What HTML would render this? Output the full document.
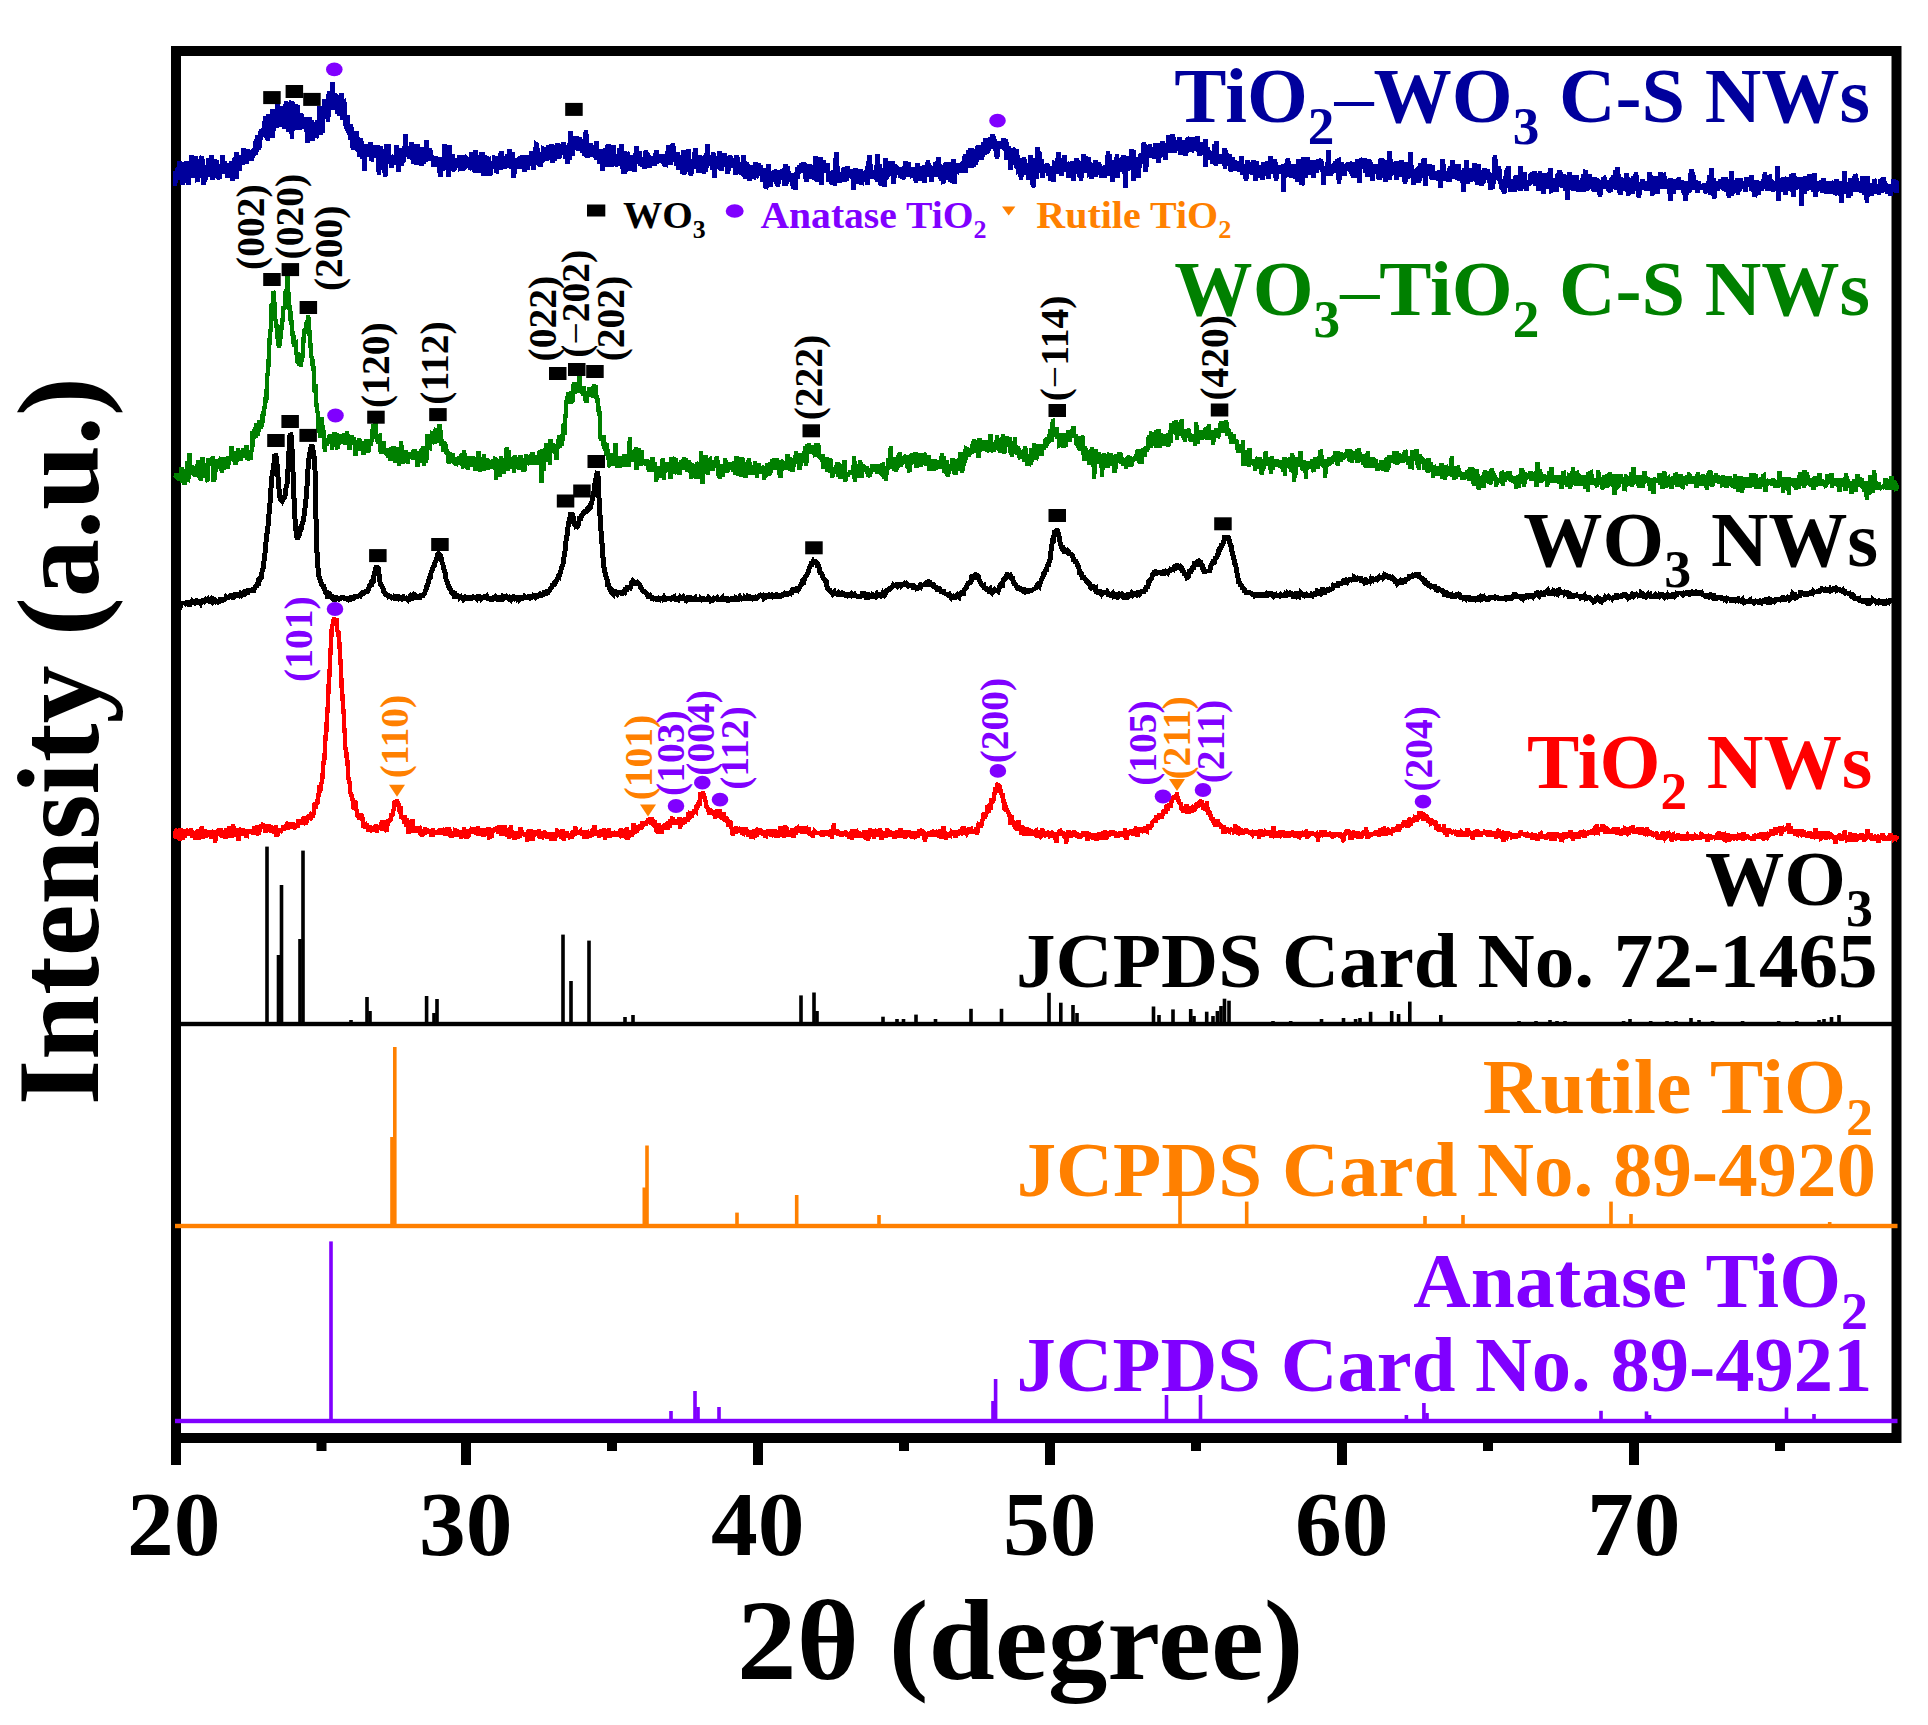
<!DOCTYPE html>
<html lang="en"><head><meta charset="utf-8"><title>XRD patterns</title>
<style>html,body{margin:0;padding:0;background:#fff}svg{display:block}text{font-family:"Liberation Serif",serif;font-weight:bold}.c{fill:none;stroke-linejoin:miter;stroke-miterlimit:2;stroke-linecap:butt;shape-rendering:crispEdges}</style></head><body>
<svg width="1928" height="1725" viewBox="0 0 1928 1725">
<rect width="1928" height="1725" fill="#fff"/>
<rect x="176" y="51" width="1720.5" height="1387" fill="none" stroke="#000" stroke-width="10"/>
<rect x="171.0" y="1440" width="10" height="25.0" fill="#000"/>
<rect x="316.5" y="1440" width="10" height="11.0" fill="#000"/>
<rect x="461.0" y="1440" width="10" height="25.0" fill="#000"/>
<rect x="607.0" y="1440" width="10" height="11.0" fill="#000"/>
<rect x="753.0" y="1440" width="10" height="25.0" fill="#000"/>
<rect x="899.0" y="1440" width="10" height="11.0" fill="#000"/>
<rect x="1045.0" y="1440" width="10" height="25.0" fill="#000"/>
<rect x="1191.0" y="1440" width="10" height="11.0" fill="#000"/>
<rect x="1337.0" y="1440" width="10" height="25.0" fill="#000"/>
<rect x="1483.0" y="1440" width="10" height="11.0" fill="#000"/>
<rect x="1629.0" y="1440" width="10" height="25.0" fill="#000"/>
<rect x="1775.0" y="1440" width="10" height="11.0" fill="#000"/>
<g fill="#000">
<rect x="181.0" y="1021.8" width="1711.0" height="4.4"/>
<rect x="265.2" y="846.6" width="3.6" height="177.4"/>
<rect x="276.7" y="955.0" width="3.6" height="69.0"/>
<rect x="279.7" y="885.0" width="3.6" height="139.0"/>
<rect x="298.2" y="939.0" width="3.6" height="85.0"/>
<rect x="301.2" y="850.6" width="3.6" height="173.4"/>
<rect x="349.2" y="1020.0" width="3.6" height="4.0"/>
<rect x="365.2" y="997.0" width="3.6" height="27.0"/>
<rect x="368.2" y="1011.0" width="3.6" height="13.0"/>
<rect x="424.8" y="996.0" width="3.6" height="28.0"/>
<rect x="432.2" y="1013.0" width="3.6" height="11.0"/>
<rect x="435.2" y="999.0" width="3.6" height="25.0"/>
<rect x="561.2" y="934.6" width="3.6" height="89.4"/>
<rect x="569.2" y="981.0" width="3.6" height="43.0"/>
<rect x="587.2" y="940.6" width="3.6" height="83.4"/>
<rect x="623.2" y="1017.0" width="3.6" height="7.0"/>
<rect x="631.2" y="1015.0" width="3.6" height="9.0"/>
<rect x="799.2" y="995.4" width="3.6" height="28.6"/>
<rect x="812.2" y="992.5" width="3.6" height="31.5"/>
<rect x="815.2" y="1011.0" width="3.6" height="13.0"/>
<rect x="881.2" y="1016.7" width="3.6" height="7.3"/>
<rect x="895.2" y="1019.0" width="3.6" height="5.0"/>
<rect x="901.7" y="1019.0" width="3.6" height="5.0"/>
<rect x="914.2" y="1014.6" width="3.6" height="9.4"/>
<rect x="933.7" y="1019.0" width="3.6" height="5.0"/>
<rect x="969.2" y="1008.8" width="3.6" height="15.2"/>
<rect x="999.7" y="1008.8" width="3.6" height="15.2"/>
<rect x="1047.2" y="992.8" width="3.6" height="31.2"/>
<rect x="1059.0" y="1002.7" width="3.6" height="21.3"/>
<rect x="1071.2" y="1005.0" width="3.6" height="19.0"/>
<rect x="1075.2" y="1013.0" width="3.6" height="11.0"/>
<rect x="1151.7" y="1006.5" width="3.6" height="17.5"/>
<rect x="1157.2" y="1015.0" width="3.6" height="9.0"/>
<rect x="1171.2" y="1009.4" width="3.6" height="14.6"/>
<rect x="1188.9" y="1009.0" width="3.6" height="15.0"/>
<rect x="1192.2" y="1016.0" width="3.6" height="8.0"/>
<rect x="1204.9" y="1011.7" width="3.6" height="12.3"/>
<rect x="1211.2" y="1016.0" width="3.6" height="8.0"/>
<rect x="1215.6" y="1011.0" width="3.6" height="13.0"/>
<rect x="1219.2" y="1006.0" width="3.6" height="18.0"/>
<rect x="1222.7" y="998.7" width="3.6" height="25.3"/>
<rect x="1227.2" y="1000.7" width="3.6" height="23.3"/>
<rect x="1271.2" y="1021.0" width="3.6" height="3.0"/>
<rect x="1288.9" y="1021.0" width="3.6" height="3.0"/>
<rect x="1319.7" y="1019.0" width="3.6" height="5.0"/>
<rect x="1341.7" y="1018.0" width="3.6" height="6.0"/>
<rect x="1353.8" y="1019.0" width="3.6" height="5.0"/>
<rect x="1358.2" y="1018.0" width="3.6" height="6.0"/>
<rect x="1368.8" y="1011.8" width="3.6" height="12.2"/>
<rect x="1389.9" y="1011.0" width="3.6" height="13.0"/>
<rect x="1396.8" y="1014.0" width="3.6" height="10.0"/>
<rect x="1408.0" y="1001.6" width="3.6" height="22.4"/>
<rect x="1439.0" y="1015.0" width="3.6" height="9.0"/>
<rect x="1517.2" y="1021.0" width="3.6" height="3.0"/>
<rect x="1534.2" y="1021.0" width="3.6" height="3.0"/>
<rect x="1548.2" y="1020.0" width="3.6" height="4.0"/>
<rect x="1555.2" y="1021.0" width="3.6" height="3.0"/>
<rect x="1563.2" y="1021.0" width="3.6" height="3.0"/>
<rect x="1621.8" y="1021.0" width="3.6" height="3.0"/>
<rect x="1628.2" y="1019.0" width="3.6" height="5.0"/>
<rect x="1648.9" y="1021.0" width="3.6" height="3.0"/>
<rect x="1665.2" y="1021.0" width="3.6" height="3.0"/>
<rect x="1674.2" y="1021.0" width="3.6" height="3.0"/>
<rect x="1689.2" y="1018.0" width="3.6" height="6.0"/>
<rect x="1697.2" y="1020.0" width="3.6" height="4.0"/>
<rect x="1710.7" y="1021.0" width="3.6" height="3.0"/>
<rect x="1740.8" y="1021.0" width="3.6" height="3.0"/>
<rect x="1776.9" y="1021.0" width="3.6" height="3.0"/>
<rect x="1795.0" y="1021.0" width="3.6" height="3.0"/>
<rect x="1817.2" y="1020.0" width="3.6" height="4.0"/>
<rect x="1822.2" y="1019.0" width="3.6" height="5.0"/>
<rect x="1829.7" y="1017.0" width="3.6" height="7.0"/>
<rect x="1837.2" y="1015.0" width="3.6" height="9.0"/>
</g>
<g fill="#ff8000">
<rect x="175.0" y="1223.8" width="1722.5" height="4.4"/>
<rect x="390.2" y="1137.0" width="3.6" height="89.0"/>
<rect x="393.0" y="1047.0" width="3.6" height="179.0"/>
<rect x="642.5" y="1187.5" width="3.6" height="38.5"/>
<rect x="645.2" y="1145.5" width="3.6" height="80.5"/>
<rect x="735.2" y="1212.6" width="3.6" height="13.4"/>
<rect x="794.9" y="1195.0" width="3.6" height="31.0"/>
<rect x="877.2" y="1215.0" width="3.6" height="11.0"/>
<rect x="1178.2" y="1150.0" width="3.6" height="76.0"/>
<rect x="1244.9" y="1201.6" width="3.6" height="24.4"/>
<rect x="1423.2" y="1216.0" width="3.6" height="10.0"/>
<rect x="1461.2" y="1215.0" width="3.6" height="11.0"/>
<rect x="1609.2" y="1201.6" width="3.6" height="24.4"/>
<rect x="1629.2" y="1214.0" width="3.6" height="12.0"/>
<rect x="1827.9" y="1222.0" width="3.6" height="4.0"/>
</g>
<g fill="#8000ff">
<rect x="175.0" y="1418.8" width="1722.5" height="4.4"/>
<rect x="329.2" y="1241.4" width="3.6" height="179.6"/>
<rect x="669.2" y="1411.0" width="3.6" height="10.0"/>
<rect x="693.2" y="1391.0" width="3.6" height="30.0"/>
<rect x="696.2" y="1407.0" width="3.6" height="14.0"/>
<rect x="717.2" y="1407.0" width="3.6" height="14.0"/>
<rect x="991.2" y="1401.0" width="3.6" height="20.0"/>
<rect x="993.8" y="1379.0" width="3.6" height="42.0"/>
<rect x="1164.7" y="1395.0" width="3.6" height="26.0"/>
<rect x="1198.7" y="1395.0" width="3.6" height="26.0"/>
<rect x="1404.6" y="1415.0" width="3.6" height="6.0"/>
<rect x="1422.1" y="1403.0" width="3.6" height="18.0"/>
<rect x="1425.2" y="1413.0" width="3.6" height="8.0"/>
<rect x="1599.2" y="1410.8" width="3.6" height="10.2"/>
<rect x="1644.7" y="1411.4" width="3.6" height="9.6"/>
<rect x="1647.7" y="1415.0" width="3.6" height="6.0"/>
<rect x="1784.7" y="1407.5" width="3.6" height="13.5"/>
<rect x="1812.2" y="1414.0" width="3.6" height="7.0"/>
</g>
<path class="c" stroke="#00009c" stroke-width="4.8" d="M175.0 185.7L175.6 170.7L176.2 174.0L176.8 176.5L177.4 168.1L178.0 173.5L178.6 173.3L179.2 161.0L179.8 180.2L180.4 177.1L181.0 168.5L181.6 171.5L182.2 184.7L182.8 170.7L183.4 170.7L184.0 162.2L184.6 176.0L185.2 172.9L185.8 173.8L186.4 161.2L187.0 183.1L187.6 172.6L188.2 168.7L188.8 185.4L189.4 170.9L190.0 161.0L190.6 168.1L191.2 155.0L191.8 178.0L192.4 167.7L193.0 165.4L193.6 177.8L194.2 158.8L194.8 173.9L195.4 155.8L196.0 165.4L196.6 161.5L197.2 179.9L197.8 181.9L198.4 167.3L199.0 175.3L199.6 159.1L200.2 173.3L200.8 164.0L201.4 157.4L202.0 156.6L202.6 171.7L203.2 184.5L203.8 170.8L204.4 165.2L205.0 182.0L205.6 170.4L206.2 169.4L206.8 170.4L207.4 167.7L208.0 166.4L208.6 158.6L209.2 172.0L209.8 167.8L210.4 176.7L211.0 165.8L211.6 155.1L212.2 167.6L212.8 180.0L213.4 165.6L214.0 162.0L214.6 159.9L215.2 160.9L215.8 166.0L216.4 159.9L217.0 178.4L217.6 166.0L218.2 168.7L218.8 177.9L219.4 178.3L220.0 166.4L220.6 164.5L221.2 172.8L221.8 166.4L222.4 155.4L223.0 172.1L223.6 173.7L224.2 170.4L224.8 161.0L225.4 166.0L226.0 163.2L226.6 165.1L227.2 176.1L227.8 177.6L228.4 171.6L229.0 170.6L229.6 171.3L230.2 166.3L230.8 165.6L231.4 161.1L232.0 165.1L232.6 180.7L233.2 170.7L233.8 165.5L234.4 160.5L235.0 157.4L235.6 165.5L236.2 179.4L236.8 151.9L237.4 164.8L238.0 157.0L238.6 170.3L239.2 161.0L239.8 171.3L240.4 155.8L241.0 156.5L241.6 160.1L242.2 164.9L242.8 161.1L243.4 148.3L244.0 157.8L244.6 156.3L245.2 152.9L245.8 151.2L246.4 163.7L247.0 152.5L247.6 149.2L248.2 159.3L248.8 155.6L249.4 154.0L250.0 159.9L250.6 157.7L251.2 156.6L251.8 160.7L252.4 155.7L253.0 149.2L253.6 150.7L254.2 149.3L254.8 154.2L255.4 154.9L256.0 138.9L256.6 152.0L257.2 140.8L257.8 135.0L258.4 150.3L259.0 140.7L259.6 147.8L260.2 138.3L260.8 132.1L261.4 129.4L262.0 133.3L262.6 133.7L263.2 128.4L263.8 131.5L264.4 120.8L265.0 124.4L265.6 116.6L266.2 128.2L266.8 134.4L267.4 136.7L268.0 140.9L268.6 113.7L269.2 134.0L269.8 134.7L270.4 132.3L271.0 115.9L271.6 126.5L272.2 138.2L272.8 109.4L273.4 125.8L274.0 130.9L274.6 115.0L275.2 125.7L275.8 111.0L276.4 112.9L277.0 112.5L277.6 102.6L278.2 118.3L278.8 127.4L279.4 110.3L280.0 117.3L280.6 126.9L281.2 123.2L281.8 106.1L282.4 124.0L283.0 113.7L283.6 121.1L284.2 120.8L284.8 129.2L285.4 119.2L286.0 101.3L286.6 105.8L287.2 125.2L287.8 116.2L288.4 131.6L289.0 121.4L289.6 112.1L290.2 129.2L290.8 111.9L291.4 100.6L292.0 138.9L292.6 102.3L293.2 126.0L293.8 129.0L294.4 121.9L295.0 105.1L295.6 130.3L296.2 107.7L296.8 108.8L297.4 104.7L298.0 129.0L298.6 126.0L299.2 129.8L299.8 118.5L300.4 121.3L301.0 112.7L301.6 120.6L302.2 129.3L302.8 121.4L303.4 128.9L304.0 119.5L304.6 119.6L305.2 125.8L305.8 123.9L306.4 131.4L307.0 127.8L307.6 142.5L308.2 124.5L308.8 124.6L309.4 117.2L310.0 127.2L310.6 133.3L311.2 120.1L311.8 126.5L312.4 141.4L313.0 125.7L313.6 121.9L314.2 132.5L314.8 127.3L315.4 129.9L316.0 136.8L316.6 136.3L317.2 122.3L317.8 120.3L318.4 127.4L319.0 123.2L319.6 106.5L320.2 135.3L320.8 123.2L321.4 129.3L322.0 111.2L322.6 132.5L323.2 112.8L323.8 114.1L324.4 98.9L325.0 107.0L325.6 103.9L326.2 103.0L326.8 107.6L327.4 103.1L328.0 121.8L328.6 96.6L329.2 91.1L329.8 99.1L330.4 104.2L331.0 109.1L331.6 104.8L332.2 81.8L332.8 100.4L333.4 109.7L334.0 97.6L334.6 93.0L335.2 100.8L335.8 94.7L336.4 105.4L337.0 94.6L337.6 114.1L338.2 108.0L338.8 99.2L339.4 114.2L340.0 115.6L340.6 104.6L341.2 107.0L341.8 93.1L342.4 120.0L343.0 109.5L343.6 98.8L344.2 103.1L344.8 116.5L345.4 125.5L346.0 120.3L346.6 126.0L347.2 130.6L347.8 115.1L348.4 133.1L349.0 131.5L349.6 128.9L350.2 139.8L350.8 124.7L351.4 129.7L352.0 141.4L352.6 148.3L353.2 136.5L353.8 149.6L354.4 134.6L355.0 142.4L355.6 140.1L356.2 131.4L356.8 145.4L357.4 151.1L358.0 144.6L358.6 146.0L359.2 156.9L359.8 139.3L360.4 138.2L361.0 144.5L361.6 141.2L362.2 159.0L362.8 152.2L363.4 144.5L364.0 146.5L364.6 170.5L365.2 147.0L365.8 146.2L366.4 153.8L367.0 156.3L367.6 153.6L368.2 146.1L368.8 144.6L369.4 156.8L370.0 152.5L370.6 141.8L371.2 161.2L371.8 158.7L372.4 151.9L373.0 152.0L373.6 155.5L374.2 149.4L374.8 145.1L375.4 156.7L376.0 144.8L376.6 157.5L377.2 145.2L377.8 154.6L378.4 154.6L379.0 175.2L379.6 148.8L380.2 146.7L380.8 152.2L381.4 149.2L382.0 153.1L382.6 160.3L383.2 163.0L383.8 169.3L384.4 153.3L385.0 176.5L385.6 172.3L386.2 157.7L386.8 143.7L387.4 159.0L388.0 161.4L388.6 144.3L389.2 160.7L389.8 159.0L390.4 155.2L391.0 164.9L391.6 167.6L392.2 157.6L392.8 162.5L393.4 156.5L394.0 155.6L394.6 161.5L395.2 164.5L395.8 156.9L396.4 145.5L397.0 164.3L397.6 149.2L398.2 160.6L398.8 171.6L399.4 159.0L400.0 150.6L400.6 148.4L401.2 165.9L401.8 157.4L402.4 160.7L403.0 163.0L403.6 155.9L404.2 153.7L404.8 149.0L405.4 134.1L406.0 144.3L406.6 153.9L407.2 152.8L407.8 156.5L408.4 152.6L409.0 154.4L409.6 158.5L410.2 147.0L410.8 151.1L411.4 142.1L412.0 159.7L412.6 153.4L413.2 156.6L413.8 163.9L414.4 160.9L415.0 153.3L415.6 159.3L416.2 144.5L416.8 165.1L417.4 155.6L418.0 144.0L418.6 164.4L419.2 150.8L419.8 160.5L420.4 153.3L421.0 163.2L421.6 165.7L422.2 151.4L422.8 147.0L423.4 156.8L424.0 163.7L424.6 155.7L425.2 154.2L425.8 161.9L426.4 140.1L427.0 154.5L427.6 149.8L428.2 161.3L428.8 154.5L429.4 148.4L430.0 157.4L430.6 150.0L431.2 160.1L431.8 155.7L432.4 157.9L433.0 155.8L433.6 167.0L434.2 160.2L434.8 164.7L435.4 164.6L436.0 156.0L436.6 165.5L437.2 162.0L437.8 164.1L438.4 159.4L439.0 159.3L439.6 167.7L440.2 177.3L440.8 157.0L441.4 166.4L442.0 160.4L442.6 168.3L443.2 166.1L443.8 170.4L444.4 144.4L445.0 159.3L445.6 156.8L446.2 162.9L446.8 158.8L447.4 159.4L448.0 168.4L448.6 176.7L449.2 144.8L449.8 161.8L450.4 166.1L451.0 164.0L451.6 161.7L452.2 154.8L452.8 157.6L453.4 168.9L454.0 171.2L454.6 164.5L455.2 158.2L455.8 164.4L456.4 162.0L457.0 167.3L457.6 164.3L458.2 159.2L458.8 164.6L459.4 155.2L460.0 168.6L460.6 171.0L461.2 154.9L461.8 165.6L462.4 160.1L463.0 169.8L463.6 168.6L464.2 160.8L464.8 169.0L465.4 159.3L466.0 157.8L466.6 158.3L467.2 161.1L467.8 159.8L468.4 163.1L469.0 157.8L469.6 167.2L470.2 169.0L470.8 158.8L471.4 152.5L472.0 167.2L472.6 170.1L473.2 161.4L473.8 153.9L474.4 164.6L475.0 173.3L475.6 150.4L476.2 166.5L476.8 161.3L477.4 157.8L478.0 167.1L478.6 155.2L479.2 166.1L479.8 173.1L480.4 165.6L481.0 158.6L481.6 152.6L482.2 156.1L482.8 152.4L483.4 175.7L484.0 163.3L484.6 157.9L485.2 156.2L485.8 157.8L486.4 162.7L487.0 156.3L487.6 176.3L488.2 159.9L488.8 159.6L489.4 167.0L490.0 174.6L490.6 173.8L491.2 161.5L491.8 166.5L492.4 165.7L493.0 168.2L493.6 166.3L494.2 158.1L494.8 155.9L495.4 165.6L496.0 156.3L496.6 173.4L497.2 164.4L497.8 157.2L498.4 161.9L499.0 160.5L499.6 163.0L500.2 170.1L500.8 153.9L501.4 151.0L502.0 165.8L502.6 162.2L503.2 164.4L503.8 156.6L504.4 161.9L505.0 168.4L505.6 156.9L506.2 163.2L506.8 157.1L507.4 155.0L508.0 166.6L508.6 166.2L509.2 149.2L509.8 154.6L510.4 164.0L511.0 169.1L511.6 157.3L512.2 160.4L512.8 152.0L513.4 178.3L514.0 164.5L514.6 174.0L515.2 165.5L515.8 167.2L516.4 164.9L517.0 158.5L517.6 165.6L518.2 161.0L518.8 169.1L519.4 163.9L520.0 156.5L520.6 164.5L521.2 168.5L521.8 160.8L522.4 154.9L523.0 158.8L523.6 156.1L524.2 172.1L524.8 165.3L525.4 167.6L526.0 161.0L526.6 155.2L527.2 166.7L527.8 169.8L528.4 162.5L529.0 158.3L529.6 165.6L530.2 155.7L530.8 163.2L531.4 153.2L532.0 151.3L532.6 161.5L533.2 159.9L533.8 170.3L534.4 155.5L535.0 157.4L535.6 149.4L536.2 144.4L536.8 144.8L537.4 159.8L538.0 148.6L538.6 164.0L539.2 165.8L539.8 154.2L540.4 167.1L541.0 157.4L541.6 163.3L542.2 154.1L542.8 161.9L543.4 149.0L544.0 149.3L544.6 151.9L545.2 154.0L545.8 159.0L546.4 155.8L547.0 154.0L547.6 159.2L548.2 159.6L548.8 144.7L549.4 157.7L550.0 152.6L550.6 148.6L551.2 156.1L551.8 144.5L552.4 162.9L553.0 151.5L553.6 152.5L554.2 160.9L554.8 151.8L555.4 156.6L556.0 145.5L556.6 148.5L557.2 142.9L557.8 150.7L558.4 158.9L559.0 153.3L559.6 157.6L560.2 144.6L560.8 145.4L561.4 148.1L562.0 154.8L562.6 153.2L563.2 150.5L563.8 142.4L564.4 149.2L565.0 149.9L565.6 158.5L566.2 145.4L566.8 150.2L567.4 164.0L568.0 148.7L568.6 152.2L569.2 142.9L569.8 159.6L570.4 131.0L571.0 138.0L571.6 138.3L572.2 156.0L572.8 147.4L573.4 143.3L574.0 136.6L574.6 147.8L575.2 146.4L575.8 141.3L576.4 136.3L577.0 139.3L577.6 148.6L578.2 149.6L578.8 148.4L579.4 147.3L580.0 136.8L580.6 149.2L581.2 142.1L581.8 149.5L582.4 152.5L583.0 144.9L583.6 142.7L584.2 156.3L584.8 152.1L585.4 145.6L586.0 129.9L586.6 149.7L587.2 154.3L587.8 157.7L588.4 145.8L589.0 146.1L589.6 147.5L590.2 156.4L590.8 142.9L591.4 150.1L592.0 144.8L592.6 153.0L593.2 155.0L593.8 154.1L594.4 148.4L595.0 150.5L595.6 155.8L596.2 160.2L596.8 141.5L597.4 159.8L598.0 157.1L598.6 151.7L599.2 163.4L599.8 155.6L600.4 163.3L601.0 151.0L601.6 149.5L602.2 163.7L602.8 170.3L603.4 163.3L604.0 162.4L604.6 153.5L605.2 148.0L605.8 155.6L606.4 167.4L607.0 145.1L607.6 154.4L608.2 144.1L608.8 158.7L609.4 163.9L610.0 149.9L610.6 155.5L611.2 167.2L611.8 157.8L612.4 150.3L613.0 149.8L613.6 145.3L614.2 164.0L614.8 153.9L615.4 166.0L616.0 164.8L616.6 158.9L617.2 155.7L617.8 164.5L618.4 160.4L619.0 161.2L619.6 148.5L620.2 165.6L620.8 153.8L621.4 144.6L622.0 155.7L622.6 162.7L623.2 173.9L623.8 157.5L624.4 151.2L625.0 174.3L625.6 161.2L626.2 158.5L626.8 153.1L627.4 153.6L628.0 170.2L628.6 158.6L629.2 156.9L629.8 157.1L630.4 171.0L631.0 156.7L631.6 164.8L632.2 162.5L632.8 162.3L633.4 154.9L634.0 165.2L634.6 171.5L635.2 160.5L635.8 154.7L636.4 146.2L637.0 162.2L637.6 159.1L638.2 160.3L638.8 155.5L639.4 151.2L640.0 166.2L640.6 162.6L641.2 160.5L641.8 162.5L642.4 167.2L643.0 161.4L643.6 157.0L644.2 168.7L644.8 158.1L645.4 156.1L646.0 150.5L646.6 160.9L647.2 153.9L647.8 157.4L648.4 163.8L649.0 161.0L649.6 167.5L650.2 162.7L650.8 158.0L651.4 158.4L652.0 157.2L652.6 164.8L653.2 160.6L653.8 157.7L654.4 166.0L655.0 161.0L655.6 157.2L656.2 150.2L656.8 163.1L657.4 161.7L658.0 160.4L658.6 157.1L659.2 154.4L659.8 158.4L660.4 161.4L661.0 158.9L661.6 158.8L662.2 156.6L662.8 161.9L663.4 162.1L664.0 154.5L664.6 164.5L665.2 164.7L665.8 164.8L666.4 158.5L667.0 158.0L667.6 151.6L668.2 164.2L668.8 145.0L669.4 156.6L670.0 156.9L670.6 164.8L671.2 159.1L671.8 152.6L672.4 149.6L673.0 142.9L673.6 159.7L674.2 159.4L674.8 157.7L675.4 154.5L676.0 157.7L676.6 165.7L677.2 151.9L677.8 159.6L678.4 170.2L679.0 163.4L679.6 156.8L680.2 164.4L680.8 155.3L681.4 160.5L682.0 171.0L682.6 173.4L683.2 149.7L683.8 165.9L684.4 174.4L685.0 158.0L685.6 163.4L686.2 171.8L686.8 158.7L687.4 165.0L688.0 161.6L688.6 149.2L689.2 164.3L689.8 160.8L690.4 168.1L691.0 175.9L691.6 166.5L692.2 159.5L692.8 164.9L693.4 163.3L694.0 168.7L694.6 152.4L695.2 154.2L695.8 148.3L696.4 165.9L697.0 161.7L697.6 157.6L698.2 157.0L698.8 172.5L699.4 155.6L700.0 159.6L700.6 158.4L701.2 170.9L701.8 163.8L702.4 156.2L703.0 157.7L703.6 173.4L704.2 164.5L704.8 163.4L705.4 166.2L706.0 171.9L706.6 153.3L707.2 156.4L707.8 143.7L708.4 164.6L709.0 158.8L709.6 156.8L710.2 156.2L710.8 165.8L711.4 160.3L712.0 157.7L712.6 169.5L713.2 154.2L713.8 152.8L714.4 178.3L715.0 158.7L715.6 157.5L716.2 156.2L716.8 160.1L717.4 166.2L718.0 166.0L718.6 164.6L719.2 159.2L719.8 151.2L720.4 162.9L721.0 171.0L721.6 168.1L722.2 159.9L722.8 166.4L723.4 158.5L724.0 156.6L724.6 153.0L725.2 159.2L725.8 162.3L726.4 160.3L727.0 166.6L727.6 174.0L728.2 170.4L728.8 159.8L729.4 157.1L730.0 157.8L730.6 155.8L731.2 162.6L731.8 165.3L732.4 167.1L733.0 164.1L733.6 164.0L734.2 162.3L734.8 158.4L735.4 174.9L736.0 170.6L736.6 155.6L737.2 158.1L737.8 160.4L738.4 164.7L739.0 173.0L739.6 171.6L740.2 172.1L740.8 172.5L741.4 172.8L742.0 170.6L742.6 168.9L743.2 165.3L743.8 154.8L744.4 165.7L745.0 178.6L745.6 163.4L746.2 162.6L746.8 174.1L747.4 168.1L748.0 164.6L748.6 178.3L749.2 172.3L749.8 180.5L750.4 164.9L751.0 172.1L751.6 171.5L752.2 174.3L752.8 176.9L753.4 177.0L754.0 170.8L754.6 174.4L755.2 162.5L755.8 174.5L756.4 174.9L757.0 168.0L757.6 165.7L758.2 170.6L758.8 163.2L759.4 173.6L760.0 173.5L760.6 165.6L761.2 172.3L761.8 173.2L762.4 179.5L763.0 179.4L763.6 170.6L764.2 170.9L764.8 170.8L765.4 177.5L766.0 189.3L766.6 183.3L767.2 184.7L767.8 183.3L768.4 164.1L769.0 173.5L769.6 172.2L770.2 183.5L770.8 186.5L771.4 171.2L772.0 176.0L772.6 179.6L773.2 172.9L773.8 172.1L774.4 171.9L775.0 182.3L775.6 170.6L776.2 184.2L776.8 177.4L777.4 181.8L778.0 187.1L778.6 172.6L779.2 171.6L779.8 179.8L780.4 170.2L781.0 172.2L781.6 176.2L782.2 178.0L782.8 168.7L783.4 174.3L784.0 180.6L784.6 185.6L785.2 163.8L785.8 185.2L786.4 182.3L787.0 169.3L787.6 166.7L788.2 172.3L788.8 173.4L789.4 176.9L790.0 181.5L790.6 173.3L791.2 176.7L791.8 178.6L792.4 181.2L793.0 186.8L793.6 187.4L794.2 176.6L794.8 173.3L795.4 190.3L796.0 178.8L796.6 177.3L797.2 167.1L797.8 179.3L798.4 169.0L799.0 170.9L799.6 165.1L800.2 170.3L800.8 172.8L801.4 163.6L802.0 167.5L802.6 172.7L803.2 164.8L803.8 164.8L804.4 167.4L805.0 163.6L805.6 176.7L806.2 181.4L806.8 177.5L807.4 178.4L808.0 164.5L808.6 172.5L809.2 169.1L809.8 164.7L810.4 169.9L811.0 170.5L811.6 176.7L812.2 178.7L812.8 164.8L813.4 169.4L814.0 175.5L814.6 179.7L815.2 156.1L815.8 180.4L816.4 171.0L817.0 182.1L817.6 169.3L818.2 166.7L818.8 172.4L819.4 179.8L820.0 172.4L820.6 156.8L821.2 185.0L821.8 161.8L822.4 165.9L823.0 164.8L823.6 160.4L824.2 164.3L824.8 166.1L825.4 168.6L826.0 172.3L826.6 170.5L827.2 163.0L827.8 171.6L828.4 179.2L829.0 179.1L829.6 173.8L830.2 177.0L830.8 173.9L831.4 182.0L832.0 184.2L832.6 171.1L833.2 171.5L833.8 183.0L834.4 183.6L835.0 183.5L835.6 158.2L836.2 172.1L836.8 152.3L837.4 178.5L838.0 174.1L838.6 174.2L839.2 173.0L839.8 182.5L840.4 172.1L841.0 180.8L841.6 177.7L842.2 176.5L842.8 177.2L843.4 173.6L844.0 167.2L844.6 179.1L845.2 179.1L845.8 171.7L846.4 179.3L847.0 180.5L847.6 166.3L848.2 173.8L848.8 171.9L849.4 168.9L850.0 177.0L850.6 169.5L851.2 172.2L851.8 176.7L852.4 177.5L853.0 177.4L853.6 189.9L854.2 175.2L854.8 177.1L855.4 167.7L856.0 178.7L856.6 170.1L857.2 183.6L857.8 170.7L858.4 174.0L859.0 184.1L859.6 175.3L860.2 182.2L860.8 169.6L861.4 185.0L862.0 182.7L862.6 179.0L863.2 170.8L863.8 175.0L864.4 177.0L865.0 177.7L865.6 175.2L866.2 174.5L866.8 177.1L867.4 184.9L868.0 162.6L868.6 166.7L869.2 155.3L869.8 171.0L870.4 164.1L871.0 178.9L871.6 175.8L872.2 173.4L872.8 170.6L873.4 175.9L874.0 175.9L874.6 176.8L875.2 169.8L875.8 178.6L876.4 164.7L877.0 182.3L877.6 154.0L878.2 170.0L878.8 165.9L879.4 178.8L880.0 163.8L880.6 185.2L881.2 172.1L881.8 186.3L882.4 175.9L883.0 173.0L883.6 176.4L884.2 186.9L884.8 178.3L885.4 157.8L886.0 180.0L886.6 173.6L887.2 161.5L887.8 176.8L888.4 163.9L889.0 172.9L889.6 173.1L890.2 167.3L890.8 175.6L891.4 164.7L892.0 172.5L892.6 161.2L893.2 170.0L893.8 183.6L894.4 171.8L895.0 164.0L895.6 170.3L896.2 166.0L896.8 171.2L897.4 172.0L898.0 171.5L898.6 171.5L899.2 167.4L899.8 173.8L900.4 177.8L901.0 166.8L901.6 170.5L902.2 171.2L902.8 179.0L903.4 177.8L904.0 166.1L904.6 171.3L905.2 161.1L905.8 164.5L906.4 170.8L907.0 174.8L907.6 176.9L908.2 168.7L908.8 161.9L909.4 173.3L910.0 169.6L910.6 173.4L911.2 171.7L911.8 175.3L912.4 174.9L913.0 176.1L913.6 167.6L914.2 177.1L914.8 167.3L915.4 171.1L916.0 182.7L916.6 172.9L917.2 163.0L917.8 180.2L918.4 177.0L919.0 178.0L919.6 171.8L920.2 172.8L920.8 169.0L921.4 166.0L922.0 180.5L922.6 168.1L923.2 167.4L923.8 167.6L924.4 182.6L925.0 176.2L925.6 168.1L926.2 170.2L926.8 173.8L927.4 176.2L928.0 160.1L928.6 176.4L929.2 169.1L929.8 166.1L930.4 168.0L931.0 175.8L931.6 182.1L932.2 171.8L932.8 174.6L933.4 165.8L934.0 174.4L934.6 176.7L935.2 161.9L935.8 168.4L936.4 177.0L937.0 160.7L937.6 169.9L938.2 176.4L938.8 156.9L939.4 170.3L940.0 173.4L940.6 178.9L941.2 165.0L941.8 180.6L942.4 175.6L943.0 181.5L943.6 181.3L944.2 176.1L944.8 177.1L945.4 162.7L946.0 165.3L946.6 167.5L947.2 171.7L947.8 179.8L948.4 162.1L949.0 171.4L949.6 164.7L950.2 163.0L950.8 182.3L951.4 173.1L952.0 182.8L952.6 179.5L953.2 165.6L953.8 159.2L954.4 184.2L955.0 167.8L955.6 162.7L956.2 174.2L956.8 170.2L957.4 164.6L958.0 165.8L958.6 169.3L959.2 168.4L959.8 172.4L960.4 164.9L961.0 164.5L961.6 170.2L962.2 167.9L962.8 172.5L963.4 162.2L964.0 163.9L964.6 156.5L965.2 173.2L965.8 154.0L966.4 163.8L967.0 156.3L967.6 163.7L968.2 165.8L968.8 150.0L969.4 158.7L970.0 148.2L970.6 168.2L971.2 155.8L971.8 148.0L972.4 153.2L973.0 165.7L973.6 166.4L974.2 164.5L974.8 150.7L975.4 154.3L976.0 165.3L976.6 149.6L977.2 151.6L977.8 147.1L978.4 145.3L979.0 160.1L979.6 155.9L980.2 154.3L980.8 154.6L981.4 157.0L982.0 159.7L982.6 146.5L983.2 146.9L983.8 142.1L984.4 155.3L985.0 144.7L985.6 138.0L986.2 148.6L986.8 147.2L987.4 152.2L988.0 153.0L988.6 141.6L989.2 140.8L989.8 143.6L990.4 137.7L991.0 144.6L991.6 148.1L992.2 145.3L992.8 134.6L993.4 138.1L994.0 148.1L994.6 138.7L995.2 150.1L995.8 149.7L996.4 143.8L997.0 158.9L997.6 147.9L998.2 141.2L998.8 146.1L999.4 148.3L1000.0 143.4L1000.6 147.0L1001.2 146.9L1001.8 141.3L1002.4 148.4L1003.0 145.9L1003.6 138.6L1004.2 148.6L1004.8 149.4L1005.4 147.8L1006.0 138.9L1006.6 157.6L1007.2 157.5L1007.8 157.8L1008.4 156.2L1009.0 146.6L1009.6 156.0L1010.2 149.8L1010.8 170.3L1011.4 153.5L1012.0 161.6L1012.6 147.8L1013.2 150.7L1013.8 155.4L1014.4 163.8L1015.0 163.2L1015.6 162.0L1016.2 148.6L1016.8 168.2L1017.4 155.3L1018.0 172.0L1018.6 173.9L1019.2 167.6L1019.8 169.0L1020.4 158.3L1021.0 180.0L1021.6 165.1L1022.2 170.5L1022.8 158.9L1023.4 164.3L1024.0 157.5L1024.6 163.9L1025.2 165.8L1025.8 167.7L1026.4 175.3L1027.0 163.4L1027.6 168.4L1028.2 167.3L1028.8 180.2L1029.4 163.7L1030.0 175.2L1030.6 155.2L1031.2 162.2L1031.8 170.6L1032.4 166.9L1033.0 187.3L1033.6 184.6L1034.2 158.2L1034.8 161.1L1035.4 167.1L1036.0 179.1L1036.6 175.3L1037.2 170.1L1037.8 147.1L1038.4 162.5L1039.0 150.7L1039.6 158.1L1040.2 170.6L1040.8 172.9L1041.4 159.5L1042.0 168.5L1042.6 178.2L1043.2 168.8L1043.8 165.8L1044.4 171.7L1045.0 171.1L1045.6 168.2L1046.2 164.2L1046.8 164.9L1047.4 168.2L1048.0 164.1L1048.6 176.1L1049.2 173.3L1049.8 174.5L1050.4 180.5L1051.0 177.6L1051.6 176.5L1052.2 169.8L1052.8 166.1L1053.4 182.1L1054.0 163.0L1054.6 163.3L1055.2 161.7L1055.8 168.6L1056.4 169.9L1057.0 173.8L1057.6 165.7L1058.2 152.2L1058.8 169.2L1059.4 173.4L1060.0 167.3L1060.6 166.2L1061.2 170.7L1061.8 176.2L1062.4 166.6L1063.0 158.0L1063.6 163.4L1064.2 166.0L1064.8 155.5L1065.4 171.9L1066.0 162.1L1066.6 170.3L1067.2 168.3L1067.8 165.1L1068.4 177.5L1069.0 163.5L1069.6 162.8L1070.2 169.0L1070.8 172.6L1071.4 167.2L1072.0 161.0L1072.6 171.8L1073.2 171.3L1073.8 180.7L1074.4 166.1L1075.0 169.0L1075.6 164.1L1076.2 158.2L1076.8 168.3L1077.4 173.4L1078.0 161.5L1078.6 163.8L1079.2 160.7L1079.8 176.8L1080.4 164.3L1081.0 180.6L1081.6 167.6L1082.2 169.1L1082.8 164.7L1083.4 153.8L1084.0 169.4L1084.6 172.4L1085.2 155.8L1085.8 168.1L1086.4 166.5L1087.0 162.5L1087.6 167.8L1088.2 157.1L1088.8 171.2L1089.4 177.3L1090.0 161.7L1090.6 169.4L1091.2 179.0L1091.8 170.8L1092.4 166.7L1093.0 164.3L1093.6 171.3L1094.2 169.4L1094.8 174.3L1095.4 160.6L1096.0 177.2L1096.6 167.8L1097.2 174.5L1097.8 165.8L1098.4 162.2L1099.0 166.9L1099.6 164.4L1100.2 168.1L1100.8 174.6L1101.4 177.3L1102.0 171.7L1102.6 166.9L1103.2 167.5L1103.8 174.1L1104.4 177.4L1105.0 168.1L1105.6 169.2L1106.2 165.1L1106.8 171.1L1107.4 175.8L1108.0 151.1L1108.6 171.1L1109.2 165.8L1109.8 154.4L1110.4 171.0L1111.0 168.3L1111.6 171.1L1112.2 159.9L1112.8 182.0L1113.4 168.9L1114.0 165.9L1114.6 177.6L1115.2 171.9L1115.8 172.8L1116.4 174.7L1117.0 154.0L1117.6 177.6L1118.2 164.6L1118.8 168.4L1119.4 172.3L1120.0 161.7L1120.6 168.1L1121.2 170.7L1121.8 158.4L1122.4 168.6L1123.0 155.1L1123.6 157.5L1124.2 157.6L1124.8 170.4L1125.4 188.4L1126.0 166.0L1126.6 163.2L1127.2 163.6L1127.8 170.0L1128.4 168.1L1129.0 156.0L1129.6 169.5L1130.2 162.7L1130.8 167.8L1131.4 149.6L1132.0 152.2L1132.6 165.6L1133.2 150.1L1133.8 180.8L1134.4 163.2L1135.0 161.7L1135.6 162.8L1136.2 161.9L1136.8 162.8L1137.4 157.1L1138.0 159.3L1138.6 177.8L1139.2 166.1L1139.8 162.5L1140.4 160.9L1141.0 153.5L1141.6 159.3L1142.2 156.0L1142.8 163.4L1143.4 151.3L1144.0 141.9L1144.6 153.1L1145.2 160.8L1145.8 171.8L1146.4 162.4L1147.0 149.5L1147.6 154.1L1148.2 149.2L1148.8 153.9L1149.4 149.2L1150.0 144.2L1150.6 157.3L1151.2 155.5L1151.8 153.0L1152.4 156.1L1153.0 150.0L1153.6 154.3L1154.2 151.0L1154.8 158.7L1155.4 142.6L1156.0 157.7L1156.6 147.8L1157.2 147.4L1157.8 150.1L1158.4 162.9L1159.0 147.4L1159.6 158.0L1160.2 154.2L1160.8 142.8L1161.4 157.3L1162.0 146.1L1162.6 141.8L1163.2 146.0L1163.8 146.2L1164.4 154.4L1165.0 144.4L1165.6 159.8L1166.2 151.6L1166.8 145.5L1167.4 144.6L1168.0 151.2L1168.6 136.7L1169.2 135.6L1169.8 143.6L1170.4 153.0L1171.0 150.0L1171.6 148.9L1172.2 147.2L1172.8 134.6L1173.4 146.1L1174.0 136.8L1174.6 153.1L1175.2 147.5L1175.8 146.8L1176.4 149.7L1177.0 148.9L1177.6 148.1L1178.2 148.6L1178.8 142.4L1179.4 137.4L1180.0 147.7L1180.6 154.5L1181.2 151.5L1181.8 143.4L1182.4 148.4L1183.0 141.5L1183.6 146.5L1184.2 140.0L1184.8 144.6L1185.4 156.2L1186.0 148.3L1186.6 152.7L1187.2 138.2L1187.8 138.7L1188.4 142.8L1189.0 146.5L1189.6 141.7L1190.2 149.5L1190.8 139.8L1191.4 152.1L1192.0 149.9L1192.6 137.1L1193.2 148.2L1193.8 143.5L1194.4 149.7L1195.0 142.4L1195.6 148.3L1196.2 150.3L1196.8 139.8L1197.4 136.0L1198.0 149.2L1198.6 148.2L1199.2 155.9L1199.8 152.1L1200.4 142.5L1201.0 153.1L1201.6 146.8L1202.2 150.5L1202.8 149.1L1203.4 154.9L1204.0 144.0L1204.6 146.2L1205.2 139.5L1205.8 167.4L1206.4 147.8L1207.0 148.9L1207.6 147.3L1208.2 150.8L1208.8 152.3L1209.4 159.2L1210.0 156.7L1210.6 157.9L1211.2 152.3L1211.8 155.8L1212.4 164.2L1213.0 156.6L1213.6 158.8L1214.2 144.3L1214.8 160.6L1215.4 159.2L1216.0 165.9L1216.6 140.6L1217.2 158.3L1217.8 157.5L1218.4 159.0L1219.0 154.7L1219.6 160.2L1220.2 163.5L1220.8 159.6L1221.4 157.6L1222.0 158.3L1222.6 157.4L1223.2 160.4L1223.8 155.8L1224.4 148.0L1225.0 169.3L1225.6 150.0L1226.2 160.5L1226.8 153.3L1227.4 159.9L1228.0 155.9L1228.6 162.0L1229.2 162.4L1229.8 154.6L1230.4 165.0L1231.0 171.7L1231.6 165.8L1232.2 164.6L1232.8 157.6L1233.4 163.9L1234.0 167.6L1234.6 160.9L1235.2 171.0L1235.8 165.3L1236.4 168.0L1237.0 163.0L1237.6 163.3L1238.2 168.0L1238.8 169.3L1239.4 169.2L1240.0 160.9L1240.6 162.9L1241.2 167.6L1241.8 156.2L1242.4 174.7L1243.0 170.3L1243.6 168.7L1244.2 164.1L1244.8 173.9L1245.4 167.1L1246.0 180.9L1246.6 171.5L1247.2 159.7L1247.8 173.7L1248.4 165.8L1249.0 165.9L1249.6 167.7L1250.2 168.4L1250.8 170.8L1251.4 174.0L1252.0 172.1L1252.6 164.7L1253.2 160.7L1253.8 164.1L1254.4 171.5L1255.0 174.7L1255.6 180.5L1256.2 161.4L1256.8 169.7L1257.4 167.8L1258.0 166.7L1258.6 178.0L1259.2 167.7L1259.8 167.6L1260.4 165.2L1261.0 171.7L1261.6 175.9L1262.2 179.5L1262.8 166.0L1263.4 162.7L1264.0 167.6L1264.6 164.0L1265.2 175.7L1265.8 164.1L1266.4 169.8L1267.0 160.9L1267.6 167.1L1268.2 170.5L1268.8 178.9L1269.4 165.0L1270.0 171.6L1270.6 156.3L1271.2 161.7L1271.8 164.2L1272.4 166.2L1273.0 172.0L1273.6 173.3L1274.2 159.2L1274.8 172.6L1275.4 162.3L1276.0 180.8L1276.6 171.3L1277.2 170.3L1277.8 168.2L1278.4 169.1L1279.0 169.3L1279.6 165.0L1280.2 174.0L1280.8 171.0L1281.4 174.0L1282.0 168.9L1282.6 173.6L1283.2 164.6L1283.8 191.6L1284.4 164.9L1285.0 166.5L1285.6 175.3L1286.2 177.0L1286.8 164.3L1287.4 158.9L1288.0 160.5L1288.6 163.1L1289.2 164.4L1289.8 168.3L1290.4 175.7L1291.0 176.1L1291.6 164.4L1292.2 172.7L1292.8 174.8L1293.4 178.1L1294.0 168.3L1294.6 164.6L1295.2 174.0L1295.8 178.8L1296.4 166.0L1297.0 181.5L1297.6 180.0L1298.2 167.6L1298.8 159.5L1299.4 165.5L1300.0 167.1L1300.6 172.6L1301.2 158.8L1301.8 184.5L1302.4 183.9L1303.0 164.8L1303.6 157.6L1304.2 168.2L1304.8 171.9L1305.4 177.7L1306.0 173.7L1306.6 168.0L1307.2 157.0L1307.8 172.5L1308.4 174.5L1309.0 167.3L1309.6 171.0L1310.2 170.5L1310.8 167.7L1311.4 162.0L1312.0 171.4L1312.6 160.4L1313.2 178.0L1313.8 163.6L1314.4 172.3L1315.0 164.7L1315.6 171.6L1316.2 167.9L1316.8 172.6L1317.4 164.3L1318.0 159.0L1318.6 167.4L1319.2 167.0L1319.8 159.8L1320.4 164.8L1321.0 158.7L1321.6 169.8L1322.2 166.7L1322.8 169.1L1323.4 185.2L1324.0 169.9L1324.6 171.3L1325.2 172.8L1325.8 166.1L1326.4 168.3L1327.0 174.2L1327.6 175.2L1328.2 150.5L1328.8 167.6L1329.4 166.5L1330.0 165.0L1330.6 176.3L1331.2 165.1L1331.8 173.8L1332.4 165.0L1333.0 165.8L1333.6 172.8L1334.2 163.6L1334.8 167.2L1335.4 161.3L1336.0 162.6L1336.6 172.6L1337.2 171.7L1337.8 160.9L1338.4 160.6L1339.0 183.8L1339.6 163.9L1340.2 162.4L1340.8 171.0L1341.4 162.9L1342.0 165.5L1342.6 173.3L1343.2 173.9L1343.8 166.4L1344.4 176.0L1345.0 166.7L1345.6 166.1L1346.2 167.5L1346.8 165.6L1347.4 170.8L1348.0 169.3L1348.6 162.7L1349.2 168.6L1349.8 164.1L1350.4 163.9L1351.0 166.6L1351.6 173.8L1352.2 169.2L1352.8 175.4L1353.4 177.2L1354.0 167.3L1354.6 163.8L1355.2 162.7L1355.8 169.3L1356.4 174.9L1357.0 177.4L1357.6 159.5L1358.2 173.4L1358.8 174.3L1359.4 182.8L1360.0 168.9L1360.6 167.5L1361.2 158.3L1361.8 163.0L1362.4 161.0L1363.0 161.6L1363.6 162.3L1364.2 158.4L1364.8 167.4L1365.4 170.4L1366.0 172.7L1366.6 167.4L1367.2 174.6L1367.8 174.7L1368.4 158.7L1369.0 166.5L1369.6 160.5L1370.2 162.2L1370.8 169.4L1371.4 167.6L1372.0 177.5L1372.6 181.1L1373.2 172.9L1373.8 172.5L1374.4 167.6L1375.0 164.2L1375.6 172.2L1376.2 164.1L1376.8 172.3L1377.4 167.2L1378.0 175.4L1378.6 177.3L1379.2 179.7L1379.8 168.0L1380.4 160.6L1381.0 158.6L1381.6 167.3L1382.2 160.3L1382.8 158.9L1383.4 167.0L1384.0 163.1L1384.6 173.6L1385.2 181.4L1385.8 168.0L1386.4 171.4L1387.0 159.7L1387.6 170.7L1388.2 165.2L1388.8 162.8L1389.4 151.4L1390.0 179.6L1390.6 159.7L1391.2 162.3L1391.8 169.9L1392.4 171.7L1393.0 171.7L1393.6 170.6L1394.2 166.0L1394.8 174.8L1395.4 171.3L1396.0 161.1L1396.6 180.1L1397.2 168.1L1397.8 176.1L1398.4 161.2L1399.0 162.9L1399.6 166.8L1400.2 166.1L1400.8 176.7L1401.4 160.4L1402.0 171.5L1402.6 164.2L1403.2 173.7L1403.8 171.8L1404.4 167.2L1405.0 184.4L1405.6 170.4L1406.2 177.5L1406.8 162.5L1407.4 169.3L1408.0 179.2L1408.6 171.7L1409.2 168.7L1409.8 165.7L1410.4 151.7L1411.0 167.4L1411.6 165.3L1412.2 169.4L1412.8 176.3L1413.4 184.7L1414.0 174.3L1414.6 177.4L1415.2 175.0L1415.8 175.6L1416.4 174.8L1417.0 169.6L1417.6 169.2L1418.2 173.3L1418.8 182.4L1419.4 176.2L1420.0 181.3L1420.6 163.4L1421.2 173.1L1421.8 173.9L1422.4 174.7L1423.0 165.4L1423.6 160.2L1424.2 158.5L1424.8 169.1L1425.4 186.1L1426.0 173.0L1426.6 164.2L1427.2 173.8L1427.8 169.9L1428.4 172.9L1429.0 169.0L1429.6 163.9L1430.2 168.6L1430.8 176.3L1431.4 173.8L1432.0 179.5L1432.6 165.4L1433.2 178.5L1433.8 172.5L1434.4 173.3L1435.0 179.9L1435.6 171.4L1436.2 173.9L1436.8 176.3L1437.4 176.4L1438.0 177.4L1438.6 180.4L1439.2 175.8L1439.8 169.8L1440.4 187.7L1441.0 172.5L1441.6 181.3L1442.2 168.1L1442.8 159.3L1443.4 168.0L1444.0 173.3L1444.6 176.2L1445.2 173.1L1445.8 177.9L1446.4 179.1L1447.0 179.2L1447.6 173.2L1448.2 173.7L1448.8 171.9L1449.4 167.9L1450.0 182.1L1450.6 165.7L1451.2 173.0L1451.8 174.9L1452.4 160.3L1453.0 178.9L1453.6 171.5L1454.2 175.1L1454.8 171.7L1455.4 164.3L1456.0 175.1L1456.6 174.6L1457.2 180.1L1457.8 177.0L1458.4 163.8L1459.0 181.0L1459.6 170.8L1460.2 179.0L1460.8 177.4L1461.4 170.1L1462.0 177.8L1462.6 172.4L1463.2 192.4L1463.8 173.3L1464.4 168.0L1465.0 172.8L1465.6 183.8L1466.2 171.5L1466.8 160.1L1467.4 184.2L1468.0 177.3L1468.6 172.3L1469.2 179.8L1469.8 169.8L1470.4 168.4L1471.0 181.5L1471.6 172.6L1472.2 179.1L1472.8 176.0L1473.4 181.1L1474.0 176.8L1474.6 163.6L1475.2 178.4L1475.8 179.0L1476.4 181.8L1477.0 177.2L1477.6 185.3L1478.2 174.7L1478.8 164.1L1479.4 174.8L1480.0 180.0L1480.6 174.9L1481.2 174.2L1481.8 186.2L1482.4 176.2L1483.0 183.7L1483.6 178.2L1484.2 168.5L1484.8 171.7L1485.4 175.7L1486.0 179.6L1486.6 172.8L1487.2 169.2L1487.8 171.7L1488.4 176.3L1489.0 172.7L1489.6 174.7L1490.2 189.8L1490.8 180.2L1491.4 173.5L1492.0 178.6L1492.6 188.5L1493.2 182.8L1493.8 178.4L1494.4 170.8L1495.0 154.7L1495.6 177.2L1496.2 178.8L1496.8 169.6L1497.4 171.4L1498.0 179.5L1498.6 166.2L1499.2 169.4L1499.8 179.7L1500.4 183.6L1501.0 182.2L1501.6 186.5L1502.2 190.1L1502.8 186.0L1503.4 179.0L1504.0 193.8L1504.6 191.1L1505.2 186.7L1505.8 176.0L1506.4 183.5L1507.0 168.3L1507.6 170.3L1508.2 166.0L1508.8 178.8L1509.4 187.7L1510.0 181.6L1510.6 191.4L1511.2 181.6L1511.8 182.3L1512.4 179.8L1513.0 185.0L1513.6 181.5L1514.2 189.1L1514.8 191.7L1515.4 184.1L1516.0 174.9L1516.6 185.3L1517.2 190.1L1517.8 185.8L1518.4 183.6L1519.0 187.6L1519.6 189.9L1520.2 165.8L1520.8 191.1L1521.4 186.5L1522.0 184.3L1522.6 178.3L1523.2 183.1L1523.8 185.4L1524.4 172.6L1525.0 186.3L1525.6 182.1L1526.2 190.6L1526.8 185.8L1527.4 180.5L1528.0 181.9L1528.6 185.5L1529.2 182.4L1529.8 184.8L1530.4 177.1L1531.0 173.8L1531.6 177.9L1532.2 172.6L1532.8 176.6L1533.4 183.5L1534.0 171.3L1534.6 173.8L1535.2 185.7L1535.8 178.0L1536.4 181.1L1537.0 173.6L1537.6 174.8L1538.2 179.3L1538.8 191.1L1539.4 183.8L1540.0 170.8L1540.6 183.8L1541.2 186.6L1541.8 185.2L1542.4 173.5L1543.0 180.6L1543.6 193.9L1544.2 175.2L1544.8 182.9L1545.4 176.3L1546.0 173.1L1546.6 178.2L1547.2 187.2L1547.8 188.0L1548.4 175.5L1549.0 178.0L1549.6 175.4L1550.2 168.2L1550.8 184.6L1551.4 190.4L1552.0 190.1L1552.6 178.1L1553.2 189.1L1553.8 187.6L1554.4 179.0L1555.0 181.0L1555.6 178.8L1556.2 182.6L1556.8 192.2L1557.4 175.5L1558.0 174.0L1558.6 186.6L1559.2 181.7L1559.8 169.8L1560.4 175.2L1561.0 176.4L1561.6 177.8L1562.2 183.5L1562.8 187.7L1563.4 180.7L1564.0 174.5L1564.6 177.2L1565.2 188.0L1565.8 190.1L1566.4 180.3L1567.0 177.5L1567.6 200.3L1568.2 187.7L1568.8 176.7L1569.4 171.9L1570.0 180.5L1570.6 189.6L1571.2 179.0L1571.8 180.9L1572.4 179.5L1573.0 186.5L1573.6 191.0L1574.2 174.9L1574.8 180.9L1575.4 181.5L1576.0 178.9L1576.6 175.5L1577.2 187.8L1577.8 183.8L1578.4 187.3L1579.0 192.1L1579.6 180.7L1580.2 186.3L1580.8 180.5L1581.4 182.5L1582.0 185.0L1582.6 182.0L1583.2 173.9L1583.8 192.2L1584.4 184.0L1585.0 176.1L1585.6 169.7L1586.2 183.0L1586.8 187.1L1587.4 189.3L1588.0 190.0L1588.6 180.9L1589.2 187.1L1589.8 173.8L1590.4 184.1L1591.0 188.8L1591.6 179.5L1592.2 182.3L1592.8 183.9L1593.4 184.1L1594.0 192.3L1594.6 176.7L1595.2 191.4L1595.8 184.6L1596.4 179.2L1597.0 178.6L1597.6 182.8L1598.2 180.3L1598.8 186.3L1599.4 183.4L1600.0 196.7L1600.6 185.7L1601.2 181.8L1601.8 185.6L1602.4 187.0L1603.0 182.2L1603.6 178.9L1604.2 178.5L1604.8 184.5L1605.4 188.5L1606.0 186.3L1606.6 182.9L1607.2 186.9L1607.8 180.5L1608.4 185.0L1609.0 192.1L1609.6 190.2L1610.2 191.7L1610.8 181.2L1611.4 184.7L1612.0 177.4L1612.6 189.1L1613.2 180.9L1613.8 175.5L1614.4 180.5L1615.0 185.1L1615.6 170.1L1616.2 175.0L1616.8 189.5L1617.4 167.4L1618.0 183.3L1618.6 173.8L1619.2 193.2L1619.8 184.0L1620.4 194.8L1621.0 176.9L1621.6 185.0L1622.2 190.6L1622.8 181.7L1623.4 182.1L1624.0 180.8L1624.6 187.3L1625.2 182.3L1625.8 181.8L1626.4 174.9L1627.0 173.6L1627.6 189.4L1628.2 193.3L1628.8 194.9L1629.4 192.3L1630.0 180.5L1630.6 183.5L1631.2 186.0L1631.8 182.8L1632.4 193.9L1633.0 175.8L1633.6 180.3L1634.2 181.7L1634.8 179.5L1635.4 188.9L1636.0 171.8L1636.6 190.7L1637.2 189.3L1637.8 185.8L1638.4 192.3L1639.0 198.1L1639.6 185.0L1640.2 188.4L1640.8 186.3L1641.4 187.1L1642.0 181.0L1642.6 179.7L1643.2 187.7L1643.8 180.9L1644.4 189.7L1645.0 188.9L1645.6 181.4L1646.2 186.3L1646.8 184.6L1647.4 183.3L1648.0 191.0L1648.6 184.4L1649.2 185.6L1649.8 172.5L1650.4 187.9L1651.0 175.6L1651.6 181.9L1652.2 194.0L1652.8 195.1L1653.4 182.0L1654.0 176.7L1654.6 186.8L1655.2 182.0L1655.8 186.4L1656.4 176.3L1657.0 191.1L1657.6 193.7L1658.2 175.7L1658.8 179.8L1659.4 180.3L1660.0 188.9L1660.6 172.6L1661.2 185.7L1661.8 183.1L1662.4 179.7L1663.0 188.8L1663.6 172.8L1664.2 176.3L1664.8 179.8L1665.4 188.9L1666.0 182.5L1666.6 179.6L1667.2 187.5L1667.8 181.7L1668.4 180.8L1669.0 182.8L1669.6 186.7L1670.2 200.9L1670.8 178.2L1671.4 186.4L1672.0 183.8L1672.6 183.2L1673.2 193.9L1673.8 189.5L1674.4 188.9L1675.0 182.1L1675.6 179.8L1676.2 186.6L1676.8 183.2L1677.4 181.4L1678.0 189.0L1678.6 177.7L1679.2 180.6L1679.8 189.7L1680.4 184.5L1681.0 189.0L1681.6 179.9L1682.2 189.3L1682.8 180.8L1683.4 193.2L1684.0 189.8L1684.6 187.9L1685.2 201.3L1685.8 187.2L1686.4 181.3L1687.0 194.5L1687.6 187.2L1688.2 192.5L1688.8 186.1L1689.4 192.2L1690.0 180.0L1690.6 177.6L1691.2 169.3L1691.8 189.8L1692.4 173.5L1693.0 174.6L1693.6 176.8L1694.2 186.7L1694.8 188.0L1695.4 180.5L1696.0 190.1L1696.6 187.3L1697.2 192.7L1697.8 191.1L1698.4 181.3L1699.0 186.6L1699.6 184.4L1700.2 188.2L1700.8 186.7L1701.4 185.6L1702.0 189.8L1702.6 185.9L1703.2 189.9L1703.8 185.7L1704.4 183.6L1705.0 191.1L1705.6 191.3L1706.2 193.0L1706.8 189.3L1707.4 184.3L1708.0 186.7L1708.6 186.5L1709.2 175.1L1709.8 178.9L1710.4 194.7L1711.0 185.3L1711.6 168.5L1712.2 184.9L1712.8 186.6L1713.4 178.3L1714.0 199.3L1714.6 192.4L1715.2 190.5L1715.8 184.5L1716.4 188.5L1717.0 190.7L1717.6 188.5L1718.2 181.7L1718.8 186.8L1719.4 186.5L1720.0 187.4L1720.6 179.4L1721.2 187.2L1721.8 185.7L1722.4 187.1L1723.0 186.9L1723.6 177.1L1724.2 190.8L1724.8 190.1L1725.4 177.6L1726.0 185.1L1726.6 180.6L1727.2 182.9L1727.8 191.6L1728.4 188.8L1729.0 197.5L1729.6 186.2L1730.2 178.9L1730.8 186.3L1731.4 171.0L1732.0 196.2L1732.6 187.1L1733.2 188.2L1733.8 186.5L1734.4 180.5L1735.0 184.8L1735.6 180.8L1736.2 182.5L1736.8 187.5L1737.4 178.3L1738.0 195.2L1738.6 179.1L1739.2 190.4L1739.8 181.6L1740.4 178.0L1741.0 187.7L1741.6 186.3L1742.2 184.0L1742.8 185.0L1743.4 181.6L1744.0 187.8L1744.6 182.4L1745.2 185.4L1745.8 191.8L1746.4 177.3L1747.0 181.8L1747.6 181.2L1748.2 180.4L1748.8 177.1L1749.4 183.5L1750.0 186.0L1750.6 184.5L1751.2 175.6L1751.8 189.1L1752.4 189.3L1753.0 185.5L1753.6 182.5L1754.2 180.0L1754.8 196.7L1755.4 195.3L1756.0 187.9L1756.6 179.7L1757.2 192.6L1757.8 186.1L1758.4 195.0L1759.0 181.7L1759.6 187.9L1760.2 183.8L1760.8 189.6L1761.4 181.3L1762.0 190.6L1762.6 182.8L1763.2 179.8L1763.8 188.5L1764.4 186.5L1765.0 172.6L1765.6 184.9L1766.2 185.7L1766.8 186.2L1767.4 190.5L1768.0 181.3L1768.6 185.1L1769.2 175.1L1769.8 176.5L1770.4 181.8L1771.0 184.4L1771.6 184.0L1772.2 189.0L1772.8 189.5L1773.4 191.2L1774.0 184.2L1774.6 188.1L1775.2 180.9L1775.8 187.4L1776.4 188.1L1777.0 182.2L1777.6 166.1L1778.2 181.4L1778.8 200.5L1779.4 184.7L1780.0 181.5L1780.6 185.9L1781.2 191.9L1781.8 187.2L1782.4 184.0L1783.0 177.6L1783.6 182.1L1784.2 178.2L1784.8 187.4L1785.4 194.3L1786.0 191.6L1786.6 181.8L1787.2 179.5L1787.8 177.0L1788.4 188.0L1789.0 188.7L1789.6 190.0L1790.2 187.4L1790.8 178.2L1791.4 173.9L1792.0 192.0L1792.6 180.4L1793.2 196.6L1793.8 172.8L1794.4 178.8L1795.0 179.8L1795.6 186.9L1796.2 189.3L1796.8 182.1L1797.4 188.9L1798.0 177.6L1798.6 182.4L1799.2 182.3L1799.8 182.1L1800.4 181.6L1801.0 187.2L1801.6 205.8L1802.2 177.3L1802.8 184.2L1803.4 189.5L1804.0 185.9L1804.6 193.9L1805.2 175.8L1805.8 190.1L1806.4 180.8L1807.0 190.3L1807.6 186.5L1808.2 187.0L1808.8 182.0L1809.4 174.6L1810.0 179.0L1810.6 189.8L1811.2 184.0L1811.8 189.9L1812.4 177.7L1813.0 189.4L1813.6 191.6L1814.2 173.4L1814.8 187.5L1815.4 197.2L1816.0 181.2L1816.6 191.6L1817.2 188.2L1817.8 190.8L1818.4 183.4L1819.0 181.2L1819.6 183.2L1820.2 183.6L1820.8 182.3L1821.4 180.6L1822.0 192.4L1822.6 182.4L1823.2 178.7L1823.8 180.3L1824.4 188.8L1825.0 183.6L1825.6 188.9L1826.2 190.2L1826.8 193.5L1827.4 183.4L1828.0 181.1L1828.6 187.0L1829.2 186.9L1829.8 193.8L1830.4 186.4L1831.0 183.6L1831.6 183.3L1832.2 184.9L1832.8 186.6L1833.4 193.1L1834.0 186.8L1834.6 194.2L1835.2 193.6L1835.8 181.7L1836.4 179.5L1837.0 182.5L1837.6 184.9L1838.2 181.5L1838.8 190.5L1839.4 190.3L1840.0 195.6L1840.6 188.0L1841.2 185.9L1841.8 203.1L1842.4 181.0L1843.0 187.3L1843.6 182.0L1844.2 193.3L1844.8 170.7L1845.4 191.5L1846.0 191.8L1846.6 186.3L1847.2 187.9L1847.8 187.8L1848.4 197.3L1849.0 196.4L1849.6 186.7L1850.2 196.3L1850.8 178.4L1851.4 189.2L1852.0 189.3L1852.6 179.3L1853.2 188.7L1853.8 182.8L1854.4 191.5L1855.0 174.0L1855.6 176.3L1856.2 179.1L1856.8 187.0L1857.4 188.7L1858.0 188.9L1858.6 182.4L1859.2 191.6L1859.8 183.7L1860.4 185.7L1861.0 192.8L1861.6 186.0L1862.2 175.9L1862.8 191.2L1863.4 187.0L1864.0 184.8L1864.6 194.7L1865.2 183.4L1865.8 191.0L1866.4 187.9L1867.0 202.5L1867.6 176.5L1868.2 188.3L1868.8 189.2L1869.4 193.7L1870.0 184.7L1870.6 183.5L1871.2 195.5L1871.8 184.8L1872.4 189.0L1873.0 187.0L1873.6 189.6L1874.2 179.4L1874.8 180.3L1875.4 187.1L1876.0 188.0L1876.6 193.9L1877.2 190.4L1877.8 190.8L1878.4 187.1L1879.0 194.9L1879.6 183.9L1880.2 187.0L1880.8 178.8L1881.4 181.4L1882.0 192.6L1882.6 187.3L1883.2 176.7L1883.8 187.4L1884.4 186.2L1885.0 181.0L1885.6 189.6L1886.2 186.1L1886.8 187.7L1887.4 193.3L1888.0 184.1L1888.6 194.1L1889.2 186.2L1889.8 186.3L1890.4 195.4L1891.0 190.0L1891.6 184.7L1892.2 187.1L1892.8 189.1L1893.4 179.3L1894.0 191.8L1894.6 187.9L1895.2 180.3L1895.8 182.4L1896.4 193.0L1897.0 180.5"/>
<path class="c" stroke="#008000" stroke-width="4.4" d="M175.0 475.5L175.6 476.6L176.2 473.3L176.8 478.4L177.4 477.4L178.0 479.9L178.6 478.8L179.2 473.1L179.8 479.3L180.4 479.4L181.0 471.9L181.6 467.6L182.2 482.4L182.8 480.7L183.4 474.4L184.0 470.6L184.6 485.1L185.2 479.8L185.8 468.9L186.4 481.5L187.0 460.7L187.6 479.5L188.2 479.8L188.8 475.6L189.4 453.1L190.0 469.2L190.6 472.6L191.2 472.0L191.8 465.0L192.4 470.4L193.0 472.5L193.6 471.9L194.2 469.5L194.8 470.5L195.4 476.6L196.0 466.7L196.6 469.0L197.2 467.6L197.8 463.3L198.4 460.0L199.0 465.1L199.6 477.4L200.2 473.1L200.8 480.8L201.4 476.6L202.0 477.2L202.6 456.8L203.2 471.6L203.8 475.5L204.4 473.1L205.0 470.4L205.6 464.4L206.2 465.0L206.8 480.5L207.4 480.9L208.0 468.3L208.6 458.5L209.2 460.0L209.8 465.3L210.4 464.5L211.0 459.3L211.6 460.0L212.2 462.8L212.8 456.3L213.4 481.6L214.0 465.0L214.6 479.9L215.2 461.9L215.8 471.2L216.4 467.8L217.0 461.3L217.6 461.2L218.2 461.2L218.8 464.9L219.4 461.3L220.0 466.4L220.6 459.2L221.2 459.5L221.8 472.8L222.4 462.5L223.0 468.3L223.6 469.4L224.2 457.5L224.8 468.5L225.4 462.6L226.0 457.0L226.6 458.4L227.2 466.6L227.8 468.4L228.4 463.5L229.0 465.2L229.6 456.7L230.2 459.6L230.8 461.0L231.4 446.6L232.0 448.9L232.6 453.7L233.2 454.1L233.8 451.0L234.4 457.6L235.0 465.3L235.6 455.8L236.2 464.7L236.8 452.2L237.4 458.4L238.0 448.5L238.6 453.3L239.2 457.8L239.8 451.5L240.4 450.1L241.0 460.8L241.6 454.5L242.2 452.9L242.8 450.0L243.4 448.3L244.0 457.9L244.6 455.9L245.2 452.4L245.8 455.6L246.4 445.3L247.0 452.2L247.6 460.2L248.2 457.5L248.8 456.7L249.4 453.0L250.0 452.3L250.6 459.8L251.2 452.2L251.8 450.1L252.4 430.9L253.0 447.0L253.6 431.7L254.2 439.2L254.8 427.3L255.4 437.5L256.0 436.4L256.6 422.9L257.2 431.6L257.8 436.2L258.4 431.4L259.0 427.8L259.6 420.7L260.2 425.0L260.8 428.3L261.4 426.2L262.0 414.2L262.6 422.4L263.2 417.1L263.8 409.8L264.4 407.9L265.0 404.4L265.6 396.9L266.2 403.4L266.8 386.7L267.4 373.8L268.0 372.7L268.6 361.7L269.2 346.6L269.8 336.3L270.4 331.0L271.0 326.7L271.6 303.8L272.2 310.9L272.8 301.6L273.4 291.3L274.0 292.5L274.6 311.7L275.2 320.2L275.8 319.6L276.4 325.0L277.0 330.3L277.6 338.8L278.2 335.5L278.8 347.8L279.4 325.3L280.0 346.3L280.6 332.9L281.2 327.4L281.8 330.3L282.4 320.5L283.0 315.2L283.6 305.8L284.2 309.7L284.8 307.1L285.4 291.5L286.0 294.3L286.6 290.4L287.2 282.0L287.8 273.3L288.4 294.8L289.0 310.2L289.6 305.2L290.2 308.1L290.8 322.6L291.4 319.9L292.0 329.1L292.6 333.7L293.2 344.0L293.8 335.2L294.4 346.4L295.0 343.1L295.6 342.8L296.2 353.9L296.8 354.8L297.4 363.1L298.0 351.8L298.6 363.3L299.2 365.7L299.8 362.5L300.4 359.5L301.0 367.3L301.6 357.4L302.2 358.9L302.8 352.2L303.4 341.1L304.0 334.2L304.6 329.6L305.2 334.0L305.8 326.8L306.4 322.8L307.0 326.7L307.6 321.5L308.2 314.7L308.8 327.1L309.4 330.5L310.0 340.5L310.6 346.2L311.2 355.9L311.8 357.8L312.4 359.6L313.0 370.8L313.6 366.1L314.2 385.6L314.8 392.4L315.4 383.7L316.0 399.6L316.6 405.9L317.2 411.9L317.8 412.3L318.4 427.3L319.0 430.7L319.6 432.2L320.2 437.5L320.8 429.7L321.4 429.6L322.0 416.9L322.6 431.4L323.2 435.2L323.8 430.0L324.4 446.3L325.0 451.7L325.6 438.5L326.2 446.2L326.8 437.9L327.4 441.9L328.0 442.5L328.6 441.4L329.2 440.1L329.8 434.4L330.4 443.1L331.0 438.5L331.6 433.8L332.2 449.5L332.8 438.4L333.4 437.8L334.0 446.5L334.6 432.5L335.2 444.4L335.8 441.6L336.4 433.4L337.0 447.9L337.6 448.8L338.2 441.6L338.8 441.1L339.4 434.3L340.0 442.3L340.6 443.9L341.2 441.5L341.8 435.2L342.4 441.5L343.0 442.7L343.6 441.6L344.2 433.5L344.8 438.0L345.4 444.6L346.0 440.0L346.6 444.4L347.2 431.6L347.8 444.5L348.4 436.8L349.0 442.8L349.6 449.7L350.2 440.1L350.8 441.2L351.4 435.9L352.0 436.7L352.6 440.7L353.2 439.1L353.8 437.8L354.4 440.4L355.0 449.3L355.6 455.7L356.2 446.3L356.8 446.8L357.4 443.7L358.0 449.1L358.6 450.2L359.2 438.1L359.8 442.5L360.4 442.5L361.0 448.8L361.6 450.1L362.2 446.8L362.8 447.5L363.4 454.5L364.0 440.9L364.6 447.0L365.2 441.1L365.8 453.0L366.4 439.6L367.0 445.8L367.6 452.6L368.2 445.9L368.8 451.7L369.4 438.9L370.0 442.2L370.6 446.2L371.2 441.1L371.8 440.5L372.4 433.5L373.0 424.2L373.6 425.5L374.2 429.6L374.8 430.8L375.4 418.3L376.0 436.9L376.6 437.2L377.2 441.4L377.8 439.0L378.4 444.1L379.0 436.1L379.6 435.8L380.2 440.4L380.8 453.9L381.4 445.3L382.0 447.6L382.6 448.2L383.2 448.8L383.8 441.3L384.4 454.3L385.0 450.1L385.6 452.3L386.2 448.5L386.8 455.6L387.4 450.9L388.0 448.4L388.6 458.2L389.2 452.0L389.8 448.2L390.4 460.7L391.0 449.8L391.6 447.0L392.2 458.1L392.8 453.4L393.4 446.2L394.0 461.1L394.6 458.8L395.2 462.9L395.8 450.7L396.4 453.5L397.0 454.4L397.6 457.8L398.2 446.7L398.8 466.0L399.4 453.1L400.0 458.5L400.6 461.1L401.2 441.4L401.8 459.2L402.4 464.2L403.0 450.4L403.6 461.0L404.2 456.3L404.8 462.5L405.4 450.0L406.0 458.9L406.6 452.5L407.2 456.7L407.8 463.5L408.4 455.6L409.0 456.8L409.6 452.1L410.2 458.9L410.8 453.1L411.4 453.6L412.0 457.0L412.6 453.8L413.2 459.5L413.8 449.0L414.4 453.9L415.0 449.4L415.6 458.1L416.2 452.7L416.8 454.1L417.4 466.7L418.0 459.4L418.6 451.5L419.2 454.8L419.8 461.0L420.4 462.9L421.0 449.5L421.6 455.8L422.2 456.9L422.8 446.6L423.4 455.5L424.0 465.8L424.6 460.1L425.2 452.4L425.8 462.6L426.4 456.7L427.0 456.9L427.6 433.7L428.2 442.8L428.8 441.2L429.4 450.3L430.0 444.7L430.6 440.6L431.2 437.7L431.8 433.4L432.4 433.8L433.0 431.7L433.6 439.3L434.2 442.7L434.8 443.3L435.4 429.8L436.0 428.1L436.6 438.0L437.2 442.6L437.8 429.9L438.4 428.8L439.0 437.8L439.6 424.5L440.2 436.1L440.8 430.5L441.4 446.3L442.0 439.2L442.6 443.1L443.2 452.0L443.8 441.3L444.4 448.1L445.0 442.0L445.6 446.5L446.2 453.2L446.8 452.2L447.4 451.9L448.0 457.9L448.6 462.1L449.2 462.0L449.8 452.3L450.4 462.6L451.0 458.7L451.6 454.0L452.2 459.1L452.8 453.4L453.4 460.4L454.0 463.7L454.6 457.1L455.2 463.1L455.8 465.3L456.4 464.5L457.0 459.9L457.6 459.9L458.2 461.3L458.8 465.0L459.4 456.3L460.0 460.8L460.6 461.0L461.2 460.5L461.8 453.2L462.4 463.5L463.0 468.3L463.6 461.3L464.2 449.7L464.8 465.3L465.4 459.9L466.0 457.7L466.6 458.7L467.2 463.3L467.8 469.4L468.4 463.5L469.0 464.5L469.6 455.8L470.2 463.9L470.8 464.4L471.4 464.4L472.0 466.9L472.6 456.8L473.2 459.3L473.8 456.9L474.4 464.7L475.0 465.2L475.6 471.2L476.2 464.4L476.8 458.8L477.4 458.0L478.0 457.4L478.6 451.0L479.2 457.9L479.8 471.9L480.4 458.7L481.0 460.5L481.6 460.0L482.2 462.2L482.8 457.5L483.4 470.9L484.0 453.7L484.6 463.9L485.2 464.5L485.8 464.1L486.4 470.3L487.0 458.1L487.6 470.0L488.2 459.0L488.8 466.0L489.4 463.3L490.0 464.5L490.6 469.1L491.2 463.1L491.8 465.2L492.4 465.5L493.0 462.4L493.6 462.7L494.2 460.6L494.8 458.9L495.4 459.4L496.0 479.5L496.6 458.9L497.2 462.9L497.8 459.8L498.4 466.0L499.0 460.0L499.6 468.5L500.2 476.7L500.8 456.3L501.4 473.9L502.0 465.2L502.6 469.1L503.2 465.1L503.8 473.8L504.4 458.8L505.0 464.9L505.6 459.6L506.2 454.6L506.8 447.5L507.4 458.8L508.0 470.7L508.6 450.4L509.2 468.2L509.8 464.0L510.4 469.0L511.0 462.7L511.6 457.3L512.2 458.4L512.8 466.5L513.4 458.7L514.0 473.1L514.6 463.7L515.2 454.9L515.8 466.0L516.4 468.2L517.0 463.4L517.6 461.0L518.2 467.7L518.8 469.0L519.4 467.5L520.0 456.5L520.6 455.6L521.2 470.2L521.8 465.2L522.4 466.2L523.0 460.4L523.6 471.7L524.2 466.9L524.8 470.3L525.4 463.6L526.0 453.8L526.6 465.1L527.2 462.2L527.8 459.9L528.4 458.1L529.0 459.8L529.6 459.2L530.2 463.1L530.8 454.0L531.4 465.0L532.0 454.9L532.6 452.1L533.2 458.5L533.8 465.1L534.4 461.2L535.0 456.5L535.6 455.7L536.2 462.1L536.8 455.8L537.4 465.0L538.0 459.9L538.6 461.0L539.2 452.8L539.8 450.8L540.4 457.7L541.0 461.7L541.6 483.3L542.2 449.1L542.8 456.7L543.4 471.2L544.0 454.3L544.6 450.2L545.2 454.1L545.8 446.9L546.4 443.5L547.0 451.1L547.6 452.6L548.2 462.1L548.8 452.1L549.4 457.2L550.0 464.8L550.6 439.5L551.2 451.5L551.8 445.5L552.4 446.6L553.0 443.1L553.6 446.2L554.2 451.5L554.8 453.4L555.4 446.1L556.0 447.4L556.6 459.8L557.2 446.0L557.8 449.2L558.4 441.5L559.0 441.6L559.6 434.8L560.2 447.6L560.8 441.2L561.4 446.0L562.0 434.3L562.6 440.6L563.2 429.3L563.8 423.7L564.4 434.8L565.0 418.3L565.6 416.3L566.2 404.7L566.8 399.4L567.4 400.9L568.0 392.6L568.6 400.5L569.2 396.7L569.8 398.6L570.4 401.2L571.0 403.8L571.6 390.7L572.2 402.2L572.8 399.2L573.4 385.7L574.0 382.0L574.6 394.1L575.2 385.3L575.8 393.1L576.4 381.7L577.0 386.9L577.6 390.2L578.2 387.3L578.8 392.6L579.4 373.4L580.0 384.7L580.6 391.1L581.2 387.8L581.8 393.6L582.4 387.6L583.0 396.3L583.6 386.0L584.2 394.8L584.8 392.5L585.4 399.5L586.0 399.7L586.6 402.4L587.2 399.1L587.8 390.9L588.4 397.1L589.0 387.0L589.6 396.0L590.2 393.9L590.8 396.1L591.4 393.8L592.0 395.3L592.6 394.4L593.2 397.5L593.8 384.1L594.4 392.1L595.0 389.2L595.6 385.4L596.2 395.9L596.8 399.3L597.4 398.8L598.0 401.0L598.6 410.5L599.2 410.2L599.8 416.4L600.4 439.0L601.0 436.3L601.6 440.7L602.2 437.0L602.8 441.6L603.4 445.2L604.0 434.8L604.6 449.3L605.2 444.5L605.8 452.2L606.4 455.6L607.0 443.6L607.6 454.9L608.2 454.1L608.8 460.8L609.4 465.1L610.0 464.7L610.6 453.7L611.2 454.8L611.8 456.5L612.4 456.2L613.0 456.4L613.6 465.5L614.2 461.0L614.8 464.2L615.4 443.3L616.0 461.1L616.6 461.5L617.2 467.6L617.8 460.9L618.4 455.9L619.0 460.8L619.6 464.5L620.2 467.8L620.8 458.6L621.4 464.4L622.0 466.9L622.6 456.0L623.2 464.6L623.8 459.1L624.4 454.3L625.0 466.4L625.6 459.6L626.2 455.4L626.8 457.8L627.4 464.8L628.0 458.4L628.6 459.7L629.2 467.1L629.8 436.9L630.4 454.5L631.0 461.5L631.6 455.9L632.2 458.9L632.8 449.8L633.4 457.5L634.0 451.2L634.6 459.5L635.2 460.1L635.8 447.4L636.4 470.1L637.0 451.3L637.6 452.9L638.2 451.0L638.8 447.8L639.4 457.7L640.0 457.6L640.6 456.7L641.2 466.0L641.8 449.7L642.4 460.6L643.0 460.9L643.6 459.7L644.2 465.0L644.8 463.4L645.4 459.2L646.0 461.0L646.6 463.2L647.2 459.1L647.8 465.6L648.4 466.4L649.0 472.1L649.6 462.9L650.2 470.1L650.8 469.0L651.4 464.4L652.0 471.5L652.6 457.2L653.2 461.8L653.8 469.2L654.4 468.6L655.0 462.2L655.6 469.3L656.2 481.9L656.8 470.7L657.4 467.3L658.0 471.4L658.6 466.4L659.2 467.5L659.8 470.1L660.4 473.5L661.0 472.2L661.6 477.4L662.2 467.0L662.8 458.3L663.4 467.5L664.0 479.8L664.6 466.1L665.2 471.8L665.8 467.2L666.4 471.1L667.0 469.0L667.6 461.9L668.2 469.7L668.8 467.3L669.4 469.9L670.0 468.1L670.6 478.8L671.2 456.7L671.8 470.7L672.4 468.0L673.0 471.7L673.6 464.1L674.2 474.1L674.8 471.5L675.4 459.5L676.0 459.8L676.6 468.9L677.2 466.5L677.8 462.0L678.4 469.3L679.0 466.4L679.6 474.5L680.2 467.5L680.8 462.1L681.4 461.7L682.0 466.6L682.6 469.5L683.2 466.7L683.8 457.5L684.4 459.7L685.0 463.5L685.6 458.6L686.2 465.1L686.8 461.6L687.4 471.4L688.0 464.5L688.6 460.9L689.2 461.6L689.8 463.9L690.4 464.8L691.0 479.2L691.6 465.8L692.2 465.7L692.8 471.9L693.4 475.9L694.0 476.2L694.6 464.6L695.2 471.5L695.8 464.0L696.4 467.6L697.0 465.4L697.6 462.5L698.2 479.1L698.8 467.5L699.4 461.7L700.0 473.2L700.6 465.8L701.2 451.4L701.8 472.3L702.4 483.5L703.0 468.3L703.6 473.7L704.2 458.5L704.8 459.9L705.4 469.3L706.0 455.4L706.6 466.5L707.2 466.3L707.8 475.2L708.4 470.3L709.0 460.1L709.6 459.7L710.2 466.8L710.8 460.2L711.4 469.9L712.0 464.0L712.6 470.3L713.2 465.7L713.8 466.9L714.4 466.4L715.0 467.8L715.6 460.7L716.2 457.3L716.8 457.9L717.4 460.2L718.0 473.9L718.6 475.6L719.2 475.6L719.8 478.4L720.4 464.1L721.0 476.5L721.6 468.0L722.2 467.7L722.8 476.5L723.4 468.7L724.0 465.4L724.6 466.1L725.2 458.6L725.8 466.4L726.4 464.8L727.0 472.9L727.6 470.5L728.2 462.3L728.8 469.9L729.4 464.7L730.0 467.6L730.6 462.4L731.2 468.4L731.8 466.8L732.4 464.1L733.0 471.7L733.6 464.6L734.2 461.2L734.8 470.0L735.4 474.8L736.0 466.8L736.6 456.0L737.2 465.7L737.8 461.8L738.4 476.3L739.0 468.9L739.6 471.0L740.2 462.6L740.8 477.2L741.4 457.3L742.0 464.2L742.6 458.0L743.2 465.0L743.8 466.1L744.4 471.6L745.0 473.8L745.6 477.7L746.2 471.1L746.8 462.2L747.4 464.1L748.0 461.3L748.6 460.8L749.2 458.6L749.8 474.4L750.4 468.8L751.0 474.6L751.6 467.5L752.2 470.9L752.8 467.5L753.4 465.6L754.0 469.2L754.6 475.1L755.2 461.4L755.8 471.8L756.4 470.7L757.0 477.7L757.6 466.6L758.2 472.7L758.8 463.2L759.4 471.4L760.0 471.6L760.6 470.0L761.2 467.9L761.8 467.8L762.4 474.0L763.0 466.2L763.6 468.1L764.2 479.5L764.8 472.8L765.4 473.8L766.0 474.0L766.6 466.4L767.2 463.4L767.8 464.5L768.4 476.3L769.0 467.9L769.6 463.6L770.2 475.1L770.8 461.7L771.4 467.8L772.0 463.7L772.6 459.1L773.2 465.0L773.8 457.9L774.4 469.9L775.0 466.6L775.6 468.8L776.2 460.3L776.8 460.3L777.4 469.9L778.0 465.8L778.6 466.2L779.2 475.2L779.8 467.1L780.4 478.0L781.0 459.9L781.6 461.7L782.2 470.1L782.8 468.3L783.4 462.7L784.0 469.9L784.6 465.7L785.2 461.7L785.8 465.7L786.4 463.8L787.0 469.6L787.6 454.2L788.2 461.6L788.8 469.9L789.4 458.1L790.0 457.1L790.6 471.0L791.2 460.0L791.8 458.6L792.4 471.6L793.0 468.6L793.6 465.0L794.2 460.4L794.8 462.2L795.4 459.7L796.0 451.2L796.6 456.8L797.2 463.4L797.8 461.5L798.4 458.1L799.0 453.3L799.6 469.6L800.2 466.4L800.8 462.1L801.4 461.5L802.0 459.2L802.6 462.2L803.2 461.0L803.8 451.5L804.4 459.2L805.0 455.5L805.6 446.5L806.2 465.9L806.8 447.5L807.4 447.8L808.0 453.3L808.6 444.8L809.2 444.1L809.8 447.8L810.4 448.0L811.0 449.0L811.6 454.0L812.2 446.2L812.8 446.7L813.4 448.5L814.0 444.9L814.6 454.1L815.2 457.1L815.8 449.8L816.4 443.7L817.0 451.3L817.6 447.4L818.2 443.0L818.8 452.7L819.4 457.2L820.0 456.5L820.6 458.4L821.2 458.8L821.8 457.5L822.4 453.9L823.0 468.7L823.6 462.8L824.2 458.1L824.8 460.9L825.4 465.3L826.0 465.0L826.6 457.0L827.2 467.6L827.8 472.0L828.4 458.7L829.0 472.2L829.6 471.1L830.2 457.7L830.8 466.1L831.4 467.9L832.0 476.3L832.6 477.1L833.2 468.8L833.8 468.9L834.4 470.7L835.0 471.1L835.6 469.3L836.2 470.9L836.8 463.7L837.4 462.6L838.0 471.6L838.6 477.1L839.2 465.1L839.8 463.8L840.4 479.3L841.0 465.5L841.6 478.3L842.2 474.2L842.8 477.5L843.4 469.9L844.0 469.0L844.6 460.2L845.2 481.5L845.8 476.4L846.4 476.6L847.0 473.2L847.6 477.1L848.2 472.5L848.8 474.0L849.4 474.8L850.0 470.9L850.6 472.4L851.2 472.0L851.8 470.4L852.4 471.9L853.0 468.3L853.6 468.5L854.2 456.1L854.8 482.3L855.4 475.3L856.0 476.7L856.6 473.1L857.2 470.4L857.8 464.6L858.4 475.8L859.0 470.9L859.6 478.3L860.2 460.2L860.8 469.2L861.4 476.4L862.0 477.2L862.6 465.9L863.2 464.9L863.8 467.5L864.4 469.6L865.0 469.9L865.6 468.6L866.2 470.1L866.8 466.4L867.4 471.1L868.0 476.5L868.6 475.8L869.2 473.9L869.8 476.4L870.4 468.6L871.0 473.6L871.6 470.1L872.2 466.8L872.8 467.2L873.4 464.1L874.0 469.7L874.6 468.7L875.2 467.7L875.8 471.6L876.4 465.0L877.0 466.3L877.6 474.3L878.2 465.0L878.8 465.6L879.4 473.9L880.0 469.7L880.6 465.8L881.2 470.9L881.8 475.5L882.4 462.9L883.0 464.6L883.6 476.7L884.2 478.3L884.8 477.5L885.4 471.0L886.0 480.4L886.6 470.2L887.2 467.9L887.8 467.9L888.4 457.9L889.0 461.4L889.6 464.3L890.2 464.7L890.8 445.9L891.4 469.0L892.0 466.8L892.6 460.7L893.2 461.0L893.8 470.4L894.4 457.3L895.0 458.9L895.6 465.2L896.2 471.8L896.8 461.5L897.4 468.2L898.0 455.0L898.6 461.5L899.2 458.4L899.8 452.6L900.4 460.0L901.0 466.8L901.6 462.3L902.2 459.3L902.8 462.2L903.4 459.7L904.0 458.1L904.6 457.5L905.2 458.8L905.8 463.8L906.4 455.3L907.0 467.5L907.6 461.8L908.2 459.0L908.8 471.0L909.4 472.0L910.0 463.5L910.6 461.9L911.2 464.7L911.8 452.7L912.4 463.7L913.0 459.2L913.6 462.6L914.2 458.0L914.8 461.7L915.4 452.0L916.0 463.1L916.6 468.2L917.2 462.5L917.8 457.2L918.4 453.7L919.0 459.7L919.6 453.6L920.2 456.7L920.8 466.5L921.4 464.3L922.0 458.5L922.6 463.4L923.2 459.4L923.8 453.2L924.4 454.1L925.0 457.5L925.6 463.4L926.2 464.1L926.8 465.5L927.4 458.4L928.0 464.2L928.6 455.1L929.2 470.6L929.8 460.1L930.4 462.0L931.0 460.1L931.6 464.6L932.2 468.9L932.8 466.9L933.4 470.7L934.0 460.8L934.6 460.8L935.2 459.9L935.8 462.7L936.4 460.6L937.0 462.2L937.6 467.6L938.2 468.8L938.8 465.4L939.4 464.9L940.0 462.4L940.6 466.9L941.2 467.7L941.8 453.6L942.4 462.7L943.0 468.4L943.6 456.2L944.2 472.6L944.8 462.7L945.4 468.5L946.0 473.5L946.6 460.1L947.2 468.9L947.8 476.7L948.4 464.2L949.0 473.5L949.6 465.5L950.2 469.3L950.8 470.1L951.4 464.4L952.0 467.5L952.6 458.2L953.2 462.7L953.8 468.3L954.4 473.6L955.0 466.8L955.6 474.4L956.2 464.7L956.8 468.2L957.4 459.5L958.0 460.0L958.6 468.3L959.2 471.0L959.8 463.9L960.4 452.0L961.0 469.2L961.6 456.9L962.2 472.9L962.8 463.8L963.4 459.4L964.0 465.6L964.6 459.7L965.2 448.7L965.8 460.1L966.4 448.8L967.0 449.1L967.6 449.4L968.2 455.4L968.8 456.0L969.4 452.6L970.0 454.7L970.6 450.9L971.2 452.2L971.8 453.2L972.4 446.5L973.0 442.8L973.6 442.7L974.2 439.6L974.8 452.4L975.4 440.0L976.0 447.1L976.6 449.2L977.2 450.7L977.8 453.7L978.4 457.6L979.0 452.6L979.6 438.3L980.2 452.3L980.8 445.1L981.4 442.7L982.0 449.9L982.6 449.3L983.2 448.9L983.8 445.1L984.4 440.0L985.0 444.1L985.6 448.0L986.2 440.2L986.8 451.5L987.4 451.0L988.0 449.1L988.6 448.6L989.2 448.5L989.8 446.9L990.4 433.7L991.0 451.5L991.6 450.8L992.2 447.9L992.8 449.7L993.4 442.2L994.0 452.0L994.6 445.9L995.2 448.5L995.8 446.8L996.4 446.0L997.0 434.8L997.6 447.0L998.2 449.5L998.8 446.9L999.4 448.9L1000.0 453.1L1000.6 438.0L1001.2 438.8L1001.8 451.7L1002.4 446.5L1003.0 434.0L1003.6 442.1L1004.2 454.0L1004.8 448.9L1005.4 443.8L1006.0 441.8L1006.6 439.6L1007.2 436.2L1007.8 439.9L1008.4 447.1L1009.0 440.8L1009.6 438.8L1010.2 437.7L1010.8 455.3L1011.4 445.0L1012.0 457.0L1012.6 448.5L1013.2 447.4L1013.8 443.3L1014.4 451.4L1015.0 437.4L1015.6 451.6L1016.2 451.8L1016.8 449.8L1017.4 454.7L1018.0 446.4L1018.6 450.0L1019.2 456.4L1019.8 457.6L1020.4 458.4L1021.0 455.2L1021.6 453.1L1022.2 450.7L1022.8 452.0L1023.4 451.5L1024.0 452.7L1024.6 461.6L1025.2 446.6L1025.8 455.3L1026.4 456.5L1027.0 464.0L1027.6 465.5L1028.2 462.4L1028.8 462.8L1029.4 457.6L1030.0 454.3L1030.6 465.4L1031.2 448.3L1031.8 461.2L1032.4 457.8L1033.0 460.0L1033.6 451.9L1034.2 443.5L1034.8 459.3L1035.4 450.0L1036.0 460.2L1036.6 457.0L1037.2 456.9L1037.8 446.6L1038.4 444.4L1039.0 446.3L1039.6 444.8L1040.2 447.8L1040.8 447.5L1041.4 455.9L1042.0 453.7L1042.6 444.1L1043.2 446.9L1043.8 449.6L1044.4 444.3L1045.0 445.5L1045.6 439.4L1046.2 448.0L1046.8 436.9L1047.4 443.9L1048.0 441.8L1048.6 440.3L1049.2 442.8L1049.8 432.0L1050.4 429.3L1051.0 430.5L1051.6 430.8L1052.2 441.5L1052.8 418.6L1053.4 429.9L1054.0 436.2L1054.6 433.8L1055.2 427.8L1055.8 435.3L1056.4 426.8L1057.0 438.5L1057.6 436.2L1058.2 433.7L1058.8 437.0L1059.4 445.5L1060.0 445.2L1060.6 441.2L1061.2 442.4L1061.8 440.3L1062.4 433.6L1063.0 441.9L1063.6 448.1L1064.2 439.4L1064.8 445.0L1065.4 445.3L1066.0 445.0L1066.6 437.0L1067.2 437.9L1067.8 432.6L1068.4 430.0L1069.0 436.6L1069.6 442.3L1070.2 431.1L1070.8 432.1L1071.4 434.0L1072.0 429.8L1072.6 432.6L1073.2 429.0L1073.8 426.2L1074.4 436.4L1075.0 436.8L1075.6 434.4L1076.2 443.9L1076.8 444.6L1077.4 436.0L1078.0 448.1L1078.6 441.9L1079.2 444.7L1079.8 451.0L1080.4 447.2L1081.0 438.2L1081.6 450.3L1082.2 441.3L1082.8 435.6L1083.4 455.1L1084.0 454.6L1084.6 461.3L1085.2 445.7L1085.8 456.3L1086.4 454.7L1087.0 455.0L1087.6 460.5L1088.2 454.9L1088.8 450.4L1089.4 462.0L1090.0 461.7L1090.6 464.8L1091.2 457.8L1091.8 447.1L1092.4 460.1L1093.0 459.3L1093.6 463.6L1094.2 479.3L1094.8 454.4L1095.4 449.5L1096.0 461.5L1096.6 464.2L1097.2 455.4L1097.8 462.2L1098.4 455.5L1099.0 452.7L1099.6 461.9L1100.2 462.2L1100.8 457.1L1101.4 457.7L1102.0 477.3L1102.6 462.5L1103.2 458.6L1103.8 453.8L1104.4 456.6L1105.0 459.7L1105.6 457.1L1106.2 464.6L1106.8 466.5L1107.4 467.3L1108.0 464.7L1108.6 454.6L1109.2 453.1L1109.8 456.5L1110.4 466.1L1111.0 453.8L1111.6 457.3L1112.2 460.8L1112.8 465.2L1113.4 461.3L1114.0 463.1L1114.6 472.5L1115.2 469.7L1115.8 463.3L1116.4 454.2L1117.0 461.8L1117.6 460.9L1118.2 458.7L1118.8 456.4L1119.4 451.8L1120.0 458.4L1120.6 453.2L1121.2 464.0L1121.8 458.9L1122.4 459.4L1123.0 466.1L1123.6 462.2L1124.2 462.7L1124.8 462.9L1125.4 459.9L1126.0 469.2L1126.6 465.0L1127.2 463.0L1127.8 456.3L1128.4 464.4L1129.0 457.4L1129.6 456.0L1130.2 461.3L1130.8 465.0L1131.4 466.1L1132.0 460.1L1132.6 459.1L1133.2 461.4L1133.8 457.8L1134.4 460.5L1135.0 456.0L1135.6 459.7L1136.2 456.3L1136.8 453.9L1137.4 451.4L1138.0 451.4L1138.6 450.8L1139.2 460.5L1139.8 463.7L1140.4 449.6L1141.0 458.0L1141.6 463.4L1142.2 451.7L1142.8 448.7L1143.4 454.8L1144.0 448.8L1144.6 457.3L1145.2 446.9L1145.8 448.2L1146.4 451.2L1147.0 449.1L1147.6 450.2L1148.2 437.1L1148.8 442.6L1149.4 435.6L1150.0 441.9L1150.6 447.5L1151.2 433.0L1151.8 432.6L1152.4 444.7L1153.0 436.9L1153.6 443.9L1154.2 442.7L1154.8 440.1L1155.4 444.0L1156.0 447.5L1156.6 430.2L1157.2 438.1L1157.8 433.9L1158.4 428.9L1159.0 442.5L1159.6 448.0L1160.2 439.3L1160.8 440.1L1161.4 442.3L1162.0 435.0L1162.6 434.3L1163.2 442.7L1163.8 445.3L1164.4 443.3L1165.0 435.7L1165.6 436.5L1166.2 439.4L1166.8 444.6L1167.4 434.1L1168.0 447.4L1168.6 433.6L1169.2 446.3L1169.8 430.4L1170.4 442.7L1171.0 429.7L1171.6 423.7L1172.2 431.0L1172.8 429.9L1173.4 433.8L1174.0 420.7L1174.6 430.4L1175.2 429.8L1175.8 420.5L1176.4 428.9L1177.0 440.2L1177.6 429.3L1178.2 425.4L1178.8 427.4L1179.4 430.4L1180.0 422.1L1180.6 436.2L1181.2 427.9L1181.8 419.3L1182.4 434.4L1183.0 432.2L1183.6 437.8L1184.2 428.9L1184.8 441.8L1185.4 433.2L1186.0 432.7L1186.6 431.8L1187.2 437.8L1187.8 429.0L1188.4 429.9L1189.0 435.4L1189.6 434.7L1190.2 435.0L1190.8 442.2L1191.4 434.0L1192.0 439.0L1192.6 434.4L1193.2 438.6L1193.8 441.0L1194.4 434.8L1195.0 445.4L1195.6 437.7L1196.2 421.7L1196.8 437.2L1197.4 440.1L1198.0 443.6L1198.6 432.2L1199.2 435.3L1199.8 431.1L1200.4 432.1L1201.0 439.6L1201.6 434.2L1202.2 432.0L1202.8 430.8L1203.4 437.5L1204.0 437.4L1204.6 438.7L1205.2 434.8L1205.8 426.8L1206.4 436.0L1207.0 439.6L1207.6 434.6L1208.2 435.5L1208.8 424.6L1209.4 436.2L1210.0 437.7L1210.6 439.1L1211.2 433.4L1211.8 430.2L1212.4 434.8L1213.0 444.7L1213.6 439.7L1214.2 430.7L1214.8 431.9L1215.4 434.1L1216.0 435.7L1216.6 427.9L1217.2 431.2L1217.8 436.0L1218.4 436.2L1219.0 434.1L1219.6 429.9L1220.2 431.1L1220.8 421.6L1221.4 427.7L1222.0 428.9L1222.6 428.9L1223.2 433.2L1223.8 420.8L1224.4 427.9L1225.0 429.9L1225.6 426.5L1226.2 420.2L1226.8 429.7L1227.4 435.3L1228.0 428.3L1228.6 429.7L1229.2 435.4L1229.8 432.2L1230.4 439.0L1231.0 431.7L1231.6 444.1L1232.2 438.8L1232.8 436.4L1233.4 435.0L1234.0 436.3L1234.6 440.8L1235.2 441.5L1235.8 443.3L1236.4 440.2L1237.0 441.5L1237.6 449.7L1238.2 452.0L1238.8 445.5L1239.4 452.7L1240.0 446.1L1240.6 444.9L1241.2 448.2L1241.8 450.2L1242.4 450.3L1243.0 440.0L1243.6 465.5L1244.2 457.0L1244.8 465.6L1245.4 450.0L1246.0 454.6L1246.6 463.7L1247.2 455.2L1247.8 460.4L1248.4 458.8L1249.0 466.6L1249.6 448.1L1250.2 461.8L1250.8 461.2L1251.4 464.5L1252.0 462.6L1252.6 463.5L1253.2 459.8L1253.8 463.8L1254.4 460.4L1255.0 470.6L1255.6 460.9L1256.2 459.8L1256.8 465.9L1257.4 458.4L1258.0 457.2L1258.6 468.9L1259.2 462.7L1259.8 457.6L1260.4 460.1L1261.0 464.9L1261.6 472.7L1262.2 472.6L1262.8 462.9L1263.4 469.0L1264.0 463.6L1264.6 464.6L1265.2 462.7L1265.8 450.7L1266.4 463.0L1267.0 462.4L1267.6 463.5L1268.2 465.1L1268.8 461.5L1269.4 457.5L1270.0 463.6L1270.6 468.4L1271.2 473.9L1271.8 456.2L1272.4 470.1L1273.0 459.9L1273.6 464.3L1274.2 467.2L1274.8 459.1L1275.4 466.3L1276.0 464.2L1276.6 465.7L1277.2 459.3L1277.8 463.1L1278.4 463.3L1279.0 462.3L1279.6 460.5L1280.2 468.1L1280.8 466.4L1281.4 463.4L1282.0 464.2L1282.6 467.1L1283.2 471.5L1283.8 461.3L1284.4 457.3L1285.0 476.0L1285.6 461.6L1286.2 463.4L1286.8 466.0L1287.4 466.1L1288.0 464.9L1288.6 465.4L1289.2 458.5L1289.8 460.9L1290.4 457.2L1291.0 471.5L1291.6 467.4L1292.2 453.4L1292.8 463.3L1293.4 463.2L1294.0 482.0L1294.6 466.3L1295.2 477.4L1295.8 464.3L1296.4 462.3L1297.0 466.7L1297.6 457.3L1298.2 460.3L1298.8 464.7L1299.4 466.7L1300.0 458.1L1300.6 451.5L1301.2 460.6L1301.8 468.1L1302.4 468.7L1303.0 460.3L1303.6 470.9L1304.2 460.0L1304.8 464.0L1305.4 466.4L1306.0 479.3L1306.6 461.5L1307.2 465.7L1307.8 460.8L1308.4 468.9L1309.0 465.4L1309.6 462.7L1310.2 464.8L1310.8 460.9L1311.4 465.3L1312.0 459.3L1312.6 464.9L1313.2 467.2L1313.8 472.3L1314.4 463.2L1315.0 461.4L1315.6 456.9L1316.2 462.5L1316.8 464.4L1317.4 458.3L1318.0 468.4L1318.6 464.4L1319.2 457.5L1319.8 455.6L1320.4 449.8L1321.0 453.3L1321.6 457.4L1322.2 459.8L1322.8 463.8L1323.4 464.8L1324.0 467.7L1324.6 462.2L1325.2 478.0L1325.8 459.3L1326.4 463.2L1327.0 466.1L1327.6 464.0L1328.2 465.9L1328.8 463.1L1329.4 457.3L1330.0 464.2L1330.6 458.1L1331.2 462.6L1331.8 462.4L1332.4 461.7L1333.0 458.4L1333.6 456.6L1334.2 456.1L1334.8 460.6L1335.4 450.7L1336.0 457.3L1336.6 459.9L1337.2 459.4L1337.8 466.3L1338.4 459.7L1339.0 453.0L1339.6 452.3L1340.2 461.8L1340.8 459.8L1341.4 454.6L1342.0 452.8L1342.6 459.6L1343.2 455.7L1343.8 458.2L1344.4 456.1L1345.0 455.2L1345.6 456.2L1346.2 455.8L1346.8 451.6L1347.4 449.6L1348.0 456.6L1348.6 454.8L1349.2 458.2L1349.8 461.3L1350.4 452.2L1351.0 449.7L1351.6 460.6L1352.2 462.3L1352.8 452.6L1353.4 455.3L1354.0 452.1L1354.6 453.5L1355.2 451.2L1355.8 459.1L1356.4 452.9L1357.0 449.6L1357.6 463.1L1358.2 456.4L1358.8 447.9L1359.4 453.0L1360.0 456.7L1360.6 460.9L1361.2 460.3L1361.8 455.9L1362.4 456.2L1363.0 464.4L1363.6 453.9L1364.2 457.9L1364.8 457.2L1365.4 465.0L1366.0 467.6L1366.6 462.8L1367.2 463.2L1367.8 451.0L1368.4 462.9L1369.0 467.3L1369.6 465.4L1370.2 456.8L1370.8 465.6L1371.4 467.0L1372.0 464.5L1372.6 459.2L1373.2 457.7L1373.8 460.6L1374.4 463.8L1375.0 467.8L1375.6 459.6L1376.2 467.8L1376.8 466.0L1377.4 470.7L1378.0 467.4L1378.6 466.3L1379.2 466.1L1379.8 463.6L1380.4 466.2L1381.0 469.9L1381.6 460.1L1382.2 463.5L1382.8 471.2L1383.4 467.5L1384.0 466.8L1384.6 464.3L1385.2 462.9L1385.8 462.3L1386.4 458.4L1387.0 471.9L1387.6 457.6L1388.2 469.9L1388.8 459.9L1389.4 455.5L1390.0 461.3L1390.6 455.2L1391.2 461.2L1391.8 458.8L1392.4 455.9L1393.0 463.2L1393.6 460.4L1394.2 453.0L1394.8 451.4L1395.4 463.3L1396.0 460.6L1396.6 451.4L1397.2 464.7L1397.8 460.4L1398.4 453.2L1399.0 462.6L1399.6 454.2L1400.2 456.5L1400.8 459.4L1401.4 461.4L1402.0 457.0L1402.6 461.2L1403.2 462.3L1403.8 459.7L1404.4 453.9L1405.0 450.2L1405.6 451.6L1406.2 458.9L1406.8 461.9L1407.4 456.7L1408.0 462.6L1408.6 464.9L1409.2 457.4L1409.8 458.2L1410.4 466.4L1411.0 466.3L1411.6 466.6L1412.2 450.1L1412.8 459.0L1413.4 461.0L1414.0 453.9L1414.6 456.2L1415.2 458.7L1415.8 451.7L1416.4 449.4L1417.0 464.6L1417.6 460.5L1418.2 456.8L1418.8 469.6L1419.4 454.5L1420.0 460.2L1420.6 460.2L1421.2 458.8L1421.8 463.3L1422.4 461.7L1423.0 459.3L1423.6 459.8L1424.2 467.6L1424.8 469.4L1425.4 468.5L1426.0 461.3L1426.6 467.5L1427.2 467.0L1427.8 472.7L1428.4 457.9L1429.0 471.7L1429.6 466.0L1430.2 468.6L1430.8 461.8L1431.4 472.2L1432.0 469.8L1432.6 469.6L1433.2 477.8L1433.8 465.1L1434.4 467.0L1435.0 469.4L1435.6 473.4L1436.2 473.4L1436.8 475.7L1437.4 466.4L1438.0 470.9L1438.6 475.5L1439.2 473.2L1439.8 472.8L1440.4 469.0L1441.0 475.3L1441.6 463.3L1442.2 479.4L1442.8 466.9L1443.4 472.3L1444.0 471.3L1444.6 470.0L1445.2 480.1L1445.8 465.7L1446.4 466.5L1447.0 474.7L1447.6 475.8L1448.2 468.5L1448.8 471.9L1449.4 471.5L1450.0 469.9L1450.6 469.8L1451.2 468.3L1451.8 456.4L1452.4 476.8L1453.0 468.5L1453.6 475.2L1454.2 479.9L1454.8 474.6L1455.4 466.2L1456.0 475.8L1456.6 476.2L1457.2 474.6L1457.8 465.8L1458.4 468.2L1459.0 475.7L1459.6 472.8L1460.2 475.3L1460.8 476.5L1461.4 471.7L1462.0 480.0L1462.6 477.6L1463.2 474.4L1463.8 476.0L1464.4 476.4L1465.0 477.5L1465.6 477.3L1466.2 475.2L1466.8 472.3L1467.4 471.3L1468.0 476.1L1468.6 477.1L1469.2 480.3L1469.8 467.1L1470.4 477.7L1471.0 480.6L1471.6 472.1L1472.2 467.3L1472.8 474.5L1473.4 481.4L1474.0 485.9L1474.6 476.4L1475.2 473.2L1475.8 477.0L1476.4 481.7L1477.0 468.8L1477.6 479.2L1478.2 482.8L1478.8 489.5L1479.4 484.8L1480.0 478.7L1480.6 484.6L1481.2 475.9L1481.8 481.5L1482.4 479.2L1483.0 475.7L1483.6 487.4L1484.2 480.1L1484.8 470.2L1485.4 483.3L1486.0 474.9L1486.6 482.5L1487.2 477.2L1487.8 471.5L1488.4 474.3L1489.0 479.4L1489.6 483.2L1490.2 476.9L1490.8 484.4L1491.4 469.0L1492.0 469.7L1492.6 478.5L1493.2 471.7L1493.8 477.3L1494.4 480.9L1495.0 476.0L1495.6 477.7L1496.2 486.4L1496.8 480.2L1497.4 480.2L1498.0 480.4L1498.6 482.7L1499.2 478.8L1499.8 482.1L1500.4 481.2L1501.0 476.8L1501.6 473.1L1502.2 472.8L1502.8 485.7L1503.4 478.8L1504.0 471.8L1504.6 480.2L1505.2 481.1L1505.8 476.8L1506.4 472.7L1507.0 473.2L1507.6 477.4L1508.2 479.7L1508.8 475.7L1509.4 471.1L1510.0 480.4L1510.6 475.7L1511.2 480.0L1511.8 481.4L1512.4 480.0L1513.0 482.6L1513.6 480.1L1514.2 479.6L1514.8 478.5L1515.4 477.1L1516.0 489.3L1516.6 480.0L1517.2 481.6L1517.8 475.0L1518.4 487.7L1519.0 477.6L1519.6 476.3L1520.2 474.6L1520.8 478.8L1521.4 468.6L1522.0 475.2L1522.6 482.4L1523.2 469.7L1523.8 486.8L1524.4 483.0L1525.0 472.2L1525.6 475.2L1526.2 479.7L1526.8 473.9L1527.4 477.7L1528.0 472.9L1528.6 479.1L1529.2 476.2L1529.8 472.8L1530.4 471.5L1531.0 474.2L1531.6 480.4L1532.2 476.6L1532.8 474.7L1533.4 480.4L1534.0 476.2L1534.6 474.3L1535.2 473.5L1535.8 473.8L1536.4 486.7L1537.0 477.0L1537.6 462.1L1538.2 477.2L1538.8 477.0L1539.4 472.4L1540.0 468.9L1540.6 482.5L1541.2 472.5L1541.8 481.3L1542.4 480.1L1543.0 473.9L1543.6 479.0L1544.2 474.0L1544.8 478.2L1545.4 475.4L1546.0 480.8L1546.6 475.6L1547.2 486.4L1547.8 477.9L1548.4 482.1L1549.0 480.7L1549.6 471.5L1550.2 478.4L1550.8 474.3L1551.4 467.5L1552.0 478.3L1552.6 482.3L1553.2 476.6L1553.8 475.4L1554.4 478.2L1555.0 482.4L1555.6 475.8L1556.2 480.7L1556.8 479.9L1557.4 480.0L1558.0 477.4L1558.6 475.8L1559.2 483.5L1559.8 481.8L1560.4 475.3L1561.0 476.9L1561.6 488.9L1562.2 481.0L1562.8 484.8L1563.4 470.7L1564.0 475.7L1564.6 481.0L1565.2 476.4L1565.8 481.8L1566.4 480.5L1567.0 477.3L1567.6 486.9L1568.2 480.1L1568.8 475.2L1569.4 475.4L1570.0 489.3L1570.6 481.6L1571.2 486.5L1571.8 479.8L1572.4 476.7L1573.0 466.7L1573.6 475.3L1574.2 474.2L1574.8 485.3L1575.4 472.2L1576.0 486.1L1576.6 473.0L1577.2 472.7L1577.8 475.7L1578.4 480.8L1579.0 474.4L1579.6 482.6L1580.2 485.6L1580.8 484.1L1581.4 479.4L1582.0 475.7L1582.6 477.2L1583.2 479.8L1583.8 482.4L1584.4 475.2L1585.0 480.3L1585.6 489.3L1586.2 480.2L1586.8 482.5L1587.4 477.9L1588.0 491.5L1588.6 472.0L1589.2 473.3L1589.8 482.8L1590.4 472.9L1591.0 472.5L1591.6 476.0L1592.2 483.1L1592.8 484.0L1593.4 481.0L1594.0 484.9L1594.6 482.0L1595.2 484.2L1595.8 478.6L1596.4 485.1L1597.0 487.1L1597.6 482.2L1598.2 470.3L1598.8 479.2L1599.4 477.0L1600.0 483.6L1600.6 478.7L1601.2 481.9L1601.8 483.8L1602.4 488.3L1603.0 489.0L1603.6 482.9L1604.2 475.4L1604.8 485.3L1605.4 482.8L1606.0 474.8L1606.6 477.1L1607.2 487.9L1607.8 484.5L1608.4 485.3L1609.0 482.2L1609.6 472.8L1610.2 474.4L1610.8 481.6L1611.4 479.7L1612.0 485.9L1612.6 473.9L1613.2 482.3L1613.8 487.8L1614.4 494.5L1615.0 479.2L1615.6 482.9L1616.2 479.8L1616.8 473.8L1617.4 484.6L1618.0 486.4L1618.6 485.9L1619.2 482.0L1619.8 483.4L1620.4 474.4L1621.0 478.6L1621.6 478.1L1622.2 477.2L1622.8 481.8L1623.4 481.3L1624.0 482.4L1624.6 491.0L1625.2 489.0L1625.8 476.5L1626.4 476.7L1627.0 482.1L1627.6 478.7L1628.2 486.0L1628.8 479.5L1629.4 485.0L1630.0 478.6L1630.6 481.8L1631.2 472.3L1631.8 486.4L1632.4 484.2L1633.0 478.1L1633.6 467.6L1634.2 477.0L1634.8 475.3L1635.4 480.0L1636.0 475.8L1636.6 479.9L1637.2 477.5L1637.8 484.5L1638.4 483.6L1639.0 487.4L1639.6 480.6L1640.2 475.1L1640.8 480.1L1641.4 480.3L1642.0 476.4L1642.6 487.6L1643.2 480.4L1643.8 483.7L1644.4 471.5L1645.0 477.5L1645.6 475.8L1646.2 480.9L1646.8 480.6L1647.4 478.4L1648.0 477.4L1648.6 481.6L1649.2 486.0L1649.8 479.2L1650.4 491.1L1651.0 486.5L1651.6 478.1L1652.2 490.2L1652.8 487.6L1653.4 493.7L1654.0 486.3L1654.6 479.4L1655.2 478.1L1655.8 480.7L1656.4 479.6L1657.0 482.7L1657.6 478.7L1658.2 479.9L1658.8 479.6L1659.4 473.3L1660.0 484.8L1660.6 477.4L1661.2 479.5L1661.8 480.8L1662.4 488.8L1663.0 474.8L1663.6 477.2L1664.2 470.9L1664.8 478.8L1665.4 487.7L1666.0 485.0L1666.6 483.3L1667.2 477.1L1667.8 478.5L1668.4 478.0L1669.0 480.3L1669.6 486.9L1670.2 486.0L1670.8 478.3L1671.4 489.2L1672.0 477.4L1672.6 480.9L1673.2 476.5L1673.8 483.1L1674.4 476.5L1675.0 484.7L1675.6 472.7L1676.2 476.6L1676.8 480.9L1677.4 487.1L1678.0 479.2L1678.6 477.9L1679.2 478.9L1679.8 476.9L1680.4 474.4L1681.0 476.1L1681.6 478.5L1682.2 488.1L1682.8 487.5L1683.4 476.3L1684.0 485.1L1684.6 475.9L1685.2 478.0L1685.8 484.8L1686.4 483.9L1687.0 482.3L1687.6 478.9L1688.2 480.0L1688.8 474.5L1689.4 474.6L1690.0 479.9L1690.6 477.8L1691.2 482.0L1691.8 483.7L1692.4 476.3L1693.0 482.2L1693.6 483.3L1694.2 482.2L1694.8 481.4L1695.4 482.3L1696.0 481.8L1696.6 488.0L1697.2 483.9L1697.8 472.2L1698.4 477.4L1699.0 475.8L1699.6 480.0L1700.2 479.8L1700.8 480.5L1701.4 485.3L1702.0 479.8L1702.6 476.8L1703.2 477.1L1703.8 474.9L1704.4 479.0L1705.0 480.0L1705.6 479.5L1706.2 479.1L1706.8 489.4L1707.4 477.3L1708.0 473.6L1708.6 482.5L1709.2 477.3L1709.8 470.2L1710.4 481.2L1711.0 471.4L1711.6 485.1L1712.2 486.6L1712.8 481.2L1713.4 479.9L1714.0 476.5L1714.6 479.1L1715.2 482.9L1715.8 473.5L1716.4 478.9L1717.0 479.6L1717.6 476.8L1718.2 475.8L1718.8 479.8L1719.4 483.4L1720.0 479.0L1720.6 480.7L1721.2 476.5L1721.8 485.6L1722.4 486.7L1723.0 475.3L1723.6 480.5L1724.2 476.1L1724.8 479.8L1725.4 476.6L1726.0 477.8L1726.6 487.9L1727.2 484.4L1727.8 480.6L1728.4 479.3L1729.0 486.3L1729.6 476.9L1730.2 477.5L1730.8 480.8L1731.4 485.8L1732.0 478.1L1732.6 485.9L1733.2 487.3L1733.8 480.8L1734.4 482.5L1735.0 473.7L1735.6 489.2L1736.2 478.7L1736.8 483.0L1737.4 476.1L1738.0 482.1L1738.6 491.6L1739.2 485.4L1739.8 481.6L1740.4 476.7L1741.0 480.0L1741.6 480.9L1742.2 493.2L1742.8 478.5L1743.4 481.9L1744.0 480.7L1744.6 484.3L1745.2 478.6L1745.8 477.9L1746.4 480.1L1747.0 484.3L1747.6 487.5L1748.2 484.2L1748.8 485.4L1749.4 478.1L1750.0 487.7L1750.6 478.0L1751.2 473.7L1751.8 482.3L1752.4 484.3L1753.0 486.2L1753.6 477.7L1754.2 473.0L1754.8 479.4L1755.4 474.9L1756.0 476.3L1756.6 488.9L1757.2 486.3L1757.8 488.7L1758.4 483.4L1759.0 478.5L1759.6 481.5L1760.2 488.6L1760.8 477.0L1761.4 486.8L1762.0 480.2L1762.6 485.4L1763.2 475.8L1763.8 475.4L1764.4 484.2L1765.0 481.5L1765.6 491.5L1766.2 484.2L1766.8 485.1L1767.4 481.7L1768.0 480.9L1768.6 481.1L1769.2 479.3L1769.8 483.1L1770.4 484.6L1771.0 479.7L1771.6 481.8L1772.2 485.4L1772.8 479.0L1773.4 479.6L1774.0 485.4L1774.6 482.1L1775.2 487.3L1775.8 481.8L1776.4 481.8L1777.0 486.0L1777.6 480.8L1778.2 487.3L1778.8 483.2L1779.4 471.2L1780.0 486.0L1780.6 477.8L1781.2 480.1L1781.8 480.0L1782.4 476.9L1783.0 492.5L1783.6 483.3L1784.2 486.1L1784.8 484.5L1785.4 483.7L1786.0 480.3L1786.6 477.1L1787.2 490.0L1787.8 480.4L1788.4 485.8L1789.0 494.8L1789.6 478.4L1790.2 481.7L1790.8 480.7L1791.4 477.9L1792.0 482.1L1792.6 481.2L1793.2 483.4L1793.8 477.9L1794.4 486.2L1795.0 486.9L1795.6 482.3L1796.2 489.5L1796.8 480.4L1797.4 479.4L1798.0 484.3L1798.6 487.1L1799.2 488.6L1799.8 472.6L1800.4 476.7L1801.0 483.4L1801.6 474.1L1802.2 481.4L1802.8 484.6L1803.4 483.1L1804.0 488.1L1804.6 469.6L1805.2 486.3L1805.8 478.9L1806.4 472.0L1807.0 484.7L1807.6 475.2L1808.2 480.7L1808.8 483.6L1809.4 478.5L1810.0 483.8L1810.6 483.8L1811.2 487.1L1811.8 481.7L1812.4 487.1L1813.0 478.7L1813.6 489.5L1814.2 484.4L1814.8 475.9L1815.4 487.1L1816.0 482.7L1816.6 479.0L1817.2 486.1L1817.8 482.1L1818.4 484.8L1819.0 484.0L1819.6 472.7L1820.2 483.6L1820.8 482.9L1821.4 485.7L1822.0 482.0L1822.6 481.9L1823.2 481.5L1823.8 480.1L1824.4 484.7L1825.0 481.0L1825.6 486.0L1826.2 485.7L1826.8 480.7L1827.4 474.2L1828.0 476.3L1828.6 480.0L1829.2 477.5L1829.8 481.1L1830.4 478.3L1831.0 483.9L1831.6 473.2L1832.2 487.8L1832.8 479.2L1833.4 480.9L1834.0 478.3L1834.6 482.8L1835.2 485.6L1835.8 482.0L1836.4 484.8L1837.0 481.7L1837.6 478.3L1838.2 485.8L1838.8 486.5L1839.4 491.4L1840.0 488.3L1840.6 477.9L1841.2 483.2L1841.8 482.9L1842.4 486.5L1843.0 480.3L1843.6 481.5L1844.2 485.3L1844.8 476.8L1845.4 490.8L1846.0 473.3L1846.6 478.4L1847.2 484.9L1847.8 480.3L1848.4 481.5L1849.0 487.4L1849.6 484.2L1850.2 485.6L1850.8 486.5L1851.4 493.6L1852.0 481.9L1852.6 486.1L1853.2 489.9L1853.8 479.1L1854.4 485.7L1855.0 485.9L1855.6 491.6L1856.2 482.2L1856.8 481.5L1857.4 474.4L1858.0 483.7L1858.6 485.7L1859.2 484.9L1859.8 477.4L1860.4 485.2L1861.0 483.2L1861.6 478.4L1862.2 485.1L1862.8 488.4L1863.4 486.1L1864.0 491.4L1864.6 483.2L1865.2 484.7L1865.8 481.4L1866.4 492.6L1867.0 500.0L1867.6 484.2L1868.2 488.5L1868.8 485.9L1869.4 493.1L1870.0 494.1L1870.6 474.7L1871.2 483.7L1871.8 488.2L1872.4 477.6L1873.0 493.3L1873.6 482.3L1874.2 469.7L1874.8 487.2L1875.4 486.8L1876.0 481.1L1876.6 489.4L1877.2 486.8L1877.8 485.4L1878.4 482.0L1879.0 490.2L1879.6 486.5L1880.2 485.3L1880.8 488.1L1881.4 485.1L1882.0 487.1L1882.6 486.8L1883.2 487.2L1883.8 486.9L1884.4 488.8L1885.0 486.5L1885.6 478.3L1886.2 487.8L1886.8 488.4L1887.4 484.0L1888.0 489.7L1888.6 483.5L1889.2 479.5L1889.8 482.8L1890.4 487.6L1891.0 490.0L1891.6 476.3L1892.2 486.6L1892.8 482.5L1893.4 480.8L1894.0 483.7L1894.6 489.4L1895.2 481.6L1895.8 488.9L1896.4 488.7L1897.0 485.0"/>
<path class="c" stroke="#000" stroke-width="5.0" d="M175.0 604.4L175.8 602.8L176.6 603.8L177.4 602.1L178.2 605.8L179.0 603.5L179.8 605.4L180.6 606.0L181.4 603.6L182.2 601.4L183.0 603.8L183.8 601.8L184.6 604.1L185.4 602.1L186.2 603.7L187.0 603.4L187.8 601.0L188.6 604.7L189.4 606.5L190.2 601.4L191.0 602.5L191.8 601.3L192.6 602.5L193.4 602.5L194.2 602.8L195.0 603.3L195.8 603.0L196.6 600.9L197.4 599.4L198.2 601.8L199.0 601.7L199.8 602.7L200.6 603.7L201.4 602.0L202.2 601.0L203.0 601.6L203.8 600.9L204.6 601.5L205.4 600.4L206.2 601.7L207.0 600.0L207.8 599.3L208.6 601.1L209.4 601.3L210.2 601.3L211.0 599.0L211.8 598.2L212.6 598.5L213.4 601.9L214.2 601.2L215.0 600.7L215.8 601.7L216.6 601.1L217.4 601.3L218.2 599.5L219.0 601.7L219.8 601.2L220.6 597.9L221.4 599.9L222.2 600.8L223.0 601.7L223.8 597.8L224.6 598.7L225.4 598.5L226.2 596.7L227.0 597.4L227.8 597.6L228.6 595.4L229.4 597.4L230.2 596.1L231.0 595.4L231.8 595.3L232.6 597.2L233.4 597.2L234.2 595.2L235.0 595.1L235.8 592.4L236.6 594.9L237.4 596.9L238.2 595.2L239.0 595.7L239.8 594.2L240.6 593.0L241.4 593.6L242.2 595.0L243.0 594.3L243.8 591.9L244.6 591.8L245.4 593.5L246.2 592.9L247.0 594.3L247.8 590.7L248.6 589.1L249.4 591.3L250.2 589.0L251.0 590.0L251.8 589.7L252.6 589.8L253.4 592.0L254.2 589.3L255.0 587.1L255.8 585.7L256.6 587.1L257.4 584.2L258.2 581.4L259.0 582.0L259.8 578.6L260.6 578.5L261.4 577.4L262.2 570.5L263.0 568.5L263.8 562.5L264.6 556.1L265.4 550.8L266.2 539.4L267.0 533.5L267.8 528.6L268.6 518.7L269.4 510.1L270.2 500.8L271.0 487.8L271.8 477.7L272.6 472.6L273.4 468.6L274.2 460.9L275.0 454.4L275.8 455.1L276.6 458.8L277.4 468.9L278.2 479.2L279.0 489.0L279.8 496.6L280.6 499.4L281.4 500.2L282.2 501.2L283.0 499.6L283.8 498.5L284.6 497.1L285.4 494.7L286.2 486.4L287.0 484.1L287.8 472.3L288.6 459.1L289.4 443.3L290.2 433.1L291.0 435.1L291.8 444.5L292.6 462.6L293.4 481.0L294.2 503.3L295.0 519.3L295.8 529.0L296.6 537.1L297.4 538.6L298.2 537.1L299.0 535.5L299.8 533.5L300.6 528.2L301.4 528.1L302.2 523.5L303.0 522.1L303.8 517.2L304.6 512.1L305.4 504.0L306.2 497.7L307.0 486.5L307.8 471.1L308.6 462.3L309.4 455.1L310.2 451.4L311.0 447.2L311.8 445.1L312.6 447.5L313.4 451.9L314.2 456.9L315.0 470.2L315.8 511.3L316.6 540.1L317.4 564.0L318.2 569.4L319.0 576.6L319.8 578.6L320.6 581.3L321.4 583.4L322.2 585.8L323.0 584.6L323.8 587.5L324.6 589.0L325.4 592.0L326.2 593.0L327.0 592.8L327.8 599.0L328.6 591.1L329.4 594.3L330.2 598.3L331.0 597.4L331.8 594.7L332.6 598.3L333.4 598.2L334.2 599.5L335.0 599.6L335.8 598.2L336.6 597.5L337.4 597.9L338.2 598.2L339.0 597.1L339.8 598.9L340.6 598.7L341.4 598.1L342.2 595.6L343.0 599.8L343.8 598.0L344.6 598.2L345.4 600.5L346.2 598.1L347.0 600.6L347.8 599.1L348.6 596.7L349.4 598.7L350.2 598.0L351.0 598.8L351.8 598.0L352.6 598.5L353.4 598.7L354.2 597.6L355.0 598.6L355.8 595.5L356.6 596.4L357.4 596.5L358.2 596.2L359.0 597.6L359.8 594.6L360.6 595.4L361.4 593.8L362.2 593.5L363.0 591.3L363.8 592.3L364.6 590.9L365.4 594.0L366.2 589.6L367.0 590.5L367.8 590.8L368.6 589.1L369.4 586.0L370.2 585.2L371.0 586.6L371.8 581.8L372.6 582.0L373.4 581.2L374.2 574.0L375.0 571.3L375.8 567.7L376.6 566.2L377.4 567.8L378.2 568.6L379.0 573.6L379.8 580.9L380.6 584.9L381.4 585.5L382.2 586.6L383.0 587.9L383.8 591.4L384.6 592.3L385.4 594.2L386.2 594.3L387.0 595.2L387.8 593.4L388.6 596.9L389.4 594.1L390.2 599.0L391.0 595.6L391.8 597.2L392.6 596.4L393.4 599.6L394.2 597.8L395.0 598.8L395.8 598.7L396.6 596.6L397.4 596.9L398.2 596.4L399.0 596.9L399.8 598.8L400.6 598.6L401.4 598.9L402.2 597.0L403.0 596.9L403.8 599.8L404.6 598.8L405.4 598.7L406.2 598.3L407.0 599.1L407.8 599.9L408.6 597.9L409.4 597.6L410.2 596.4L411.0 597.8L411.8 596.7L412.6 595.9L413.4 598.1L414.2 598.0L415.0 597.6L415.8 595.4L416.6 596.1L417.4 596.4L418.2 599.4L419.0 597.2L419.8 597.5L420.6 595.7L421.4 594.0L422.2 597.4L423.0 594.6L423.8 593.9L424.6 593.4L425.4 590.4L426.2 589.1L427.0 584.9L427.8 584.7L428.6 580.5L429.4 577.9L430.2 577.6L431.0 572.8L431.8 570.7L432.6 568.8L433.4 566.6L434.2 566.2L435.0 562.1L435.8 560.9L436.6 559.3L437.4 554.6L438.2 553.6L439.0 555.5L439.8 554.5L440.6 555.2L441.4 560.0L442.2 562.5L443.0 565.0L443.8 569.9L444.6 569.2L445.4 575.8L446.2 579.8L447.0 581.8L447.8 583.4L448.6 587.1L449.4 588.3L450.2 588.5L451.0 590.6L451.8 592.6L452.6 593.5L453.4 593.3L454.2 590.9L455.0 598.4L455.8 595.9L456.6 593.8L457.4 595.4L458.2 597.2L459.0 594.6L459.8 597.8L460.6 597.1L461.4 599.2L462.2 596.4L463.0 597.7L463.8 599.5L464.6 598.7L465.4 597.2L466.2 597.6L467.0 598.0L467.8 595.5L468.6 598.5L469.4 598.5L470.2 597.0L471.0 597.0L471.8 598.1L472.6 599.5L473.4 597.1L474.2 597.5L475.0 597.3L475.8 597.9L476.6 598.7L477.4 596.6L478.2 595.1L479.0 597.6L479.8 599.7L480.6 596.8L481.4 598.9L482.2 598.1L483.0 596.5L483.8 598.2L484.6 597.0L485.4 597.4L486.2 597.5L487.0 596.4L487.8 597.7L488.6 599.9L489.4 598.4L490.2 599.7L491.0 596.6L491.8 601.3L492.6 598.7L493.4 598.3L494.2 597.1L495.0 596.6L495.8 598.0L496.6 599.8L497.4 598.3L498.2 601.1L499.0 597.5L499.8 596.0L500.6 597.3L501.4 599.7L502.2 599.5L503.0 596.5L503.8 596.9L504.6 599.5L505.4 595.6L506.2 598.7L507.0 596.7L507.8 597.5L508.6 597.3L509.4 599.0L510.2 599.7L511.0 597.2L511.8 599.5L512.6 598.7L513.4 596.7L514.2 596.9L515.0 598.3L515.8 597.4L516.6 597.3L517.4 599.0L518.2 598.3L519.0 596.2L519.8 599.3L520.6 598.6L521.4 598.3L522.2 598.5L523.0 595.8L523.8 597.8L524.6 596.5L525.4 597.0L526.2 599.7L527.0 596.8L527.8 599.3L528.6 597.0L529.4 597.2L530.2 598.3L531.0 597.9L531.8 595.1L532.6 597.6L533.4 596.0L534.2 596.5L535.0 597.2L535.8 596.0L536.6 594.1L537.4 596.5L538.2 596.2L539.0 595.3L539.8 594.5L540.6 595.5L541.4 595.4L542.2 594.5L543.0 595.9L543.8 593.9L544.6 593.8L545.4 591.3L546.2 592.3L547.0 595.1L547.8 589.1L548.6 592.0L549.4 590.5L550.2 589.1L551.0 588.0L551.8 587.1L552.6 583.7L553.4 586.4L554.2 583.5L555.0 583.4L555.8 580.9L556.6 579.9L557.4 578.6L558.2 576.6L559.0 577.0L559.8 573.7L560.6 571.8L561.4 568.4L562.2 566.2L563.0 564.3L563.8 557.7L564.6 554.5L565.4 547.8L566.2 539.1L567.0 535.7L567.8 528.5L568.6 522.4L569.4 520.0L570.2 516.5L571.0 512.8L571.8 514.0L572.6 514.5L573.4 517.9L574.2 525.2L575.0 523.3L575.8 526.3L576.6 525.8L577.4 526.4L578.2 525.3L579.0 521.1L579.8 516.7L580.6 520.6L581.4 515.4L582.2 514.6L583.0 513.5L583.8 512.6L584.6 512.5L585.4 510.4L586.2 511.7L587.0 511.2L587.8 508.4L588.6 507.3L589.4 508.6L590.2 507.6L591.0 504.9L591.8 503.1L592.6 496.8L593.4 495.6L594.2 489.1L595.0 482.9L595.8 479.1L596.6 474.7L597.4 471.0L598.2 477.7L599.0 497.8L599.8 512.2L600.6 524.1L601.4 537.0L602.2 545.5L603.0 557.4L603.8 565.9L604.6 571.1L605.4 574.1L606.2 577.1L607.0 579.1L607.8 584.9L608.6 584.9L609.4 587.6L610.2 589.6L611.0 591.2L611.8 590.7L612.6 593.4L613.4 594.2L614.2 591.6L615.0 590.5L615.8 592.5L616.6 593.0L617.4 594.0L618.2 592.4L619.0 593.9L619.8 592.3L620.6 590.9L621.4 594.9L622.2 593.3L623.0 592.2L623.8 591.1L624.6 591.8L625.4 588.0L626.2 588.8L627.0 589.0L627.8 586.0L628.6 586.9L629.4 587.2L630.2 587.6L631.0 585.3L631.8 582.2L632.6 581.1L633.4 582.1L634.2 584.6L635.0 581.6L635.8 583.0L636.6 582.6L637.4 585.2L638.2 583.3L639.0 584.1L639.8 584.7L640.6 587.2L641.4 588.6L642.2 589.5L643.0 591.2L643.8 591.5L644.6 591.4L645.4 592.7L646.2 593.1L647.0 594.7L647.8 595.2L648.6 598.2L649.4 596.7L650.2 595.8L651.0 597.1L651.8 595.7L652.6 597.8L653.4 598.6L654.2 597.6L655.0 599.9L655.8 598.5L656.6 597.4L657.4 599.5L658.2 599.4L659.0 598.4L659.8 599.1L660.6 597.5L661.4 600.1L662.2 596.7L663.0 598.4L663.8 597.3L664.6 598.7L665.4 596.6L666.2 599.2L667.0 598.9L667.8 597.2L668.6 599.4L669.4 596.7L670.2 598.3L671.0 599.0L671.8 598.5L672.6 599.8L673.4 597.3L674.2 596.9L675.0 600.8L675.8 597.2L676.6 601.2L677.4 599.7L678.2 599.9L679.0 598.4L679.8 597.2L680.6 598.3L681.4 598.5L682.2 597.7L683.0 596.9L683.8 599.2L684.6 597.6L685.4 599.4L686.2 599.0L687.0 600.4L687.8 599.7L688.6 595.6L689.4 599.1L690.2 598.7L691.0 601.8L691.8 598.4L692.6 598.3L693.4 598.3L694.2 598.6L695.0 597.9L695.8 601.1L696.6 599.3L697.4 599.6L698.2 600.5L699.0 597.2L699.8 601.0L700.6 598.6L701.4 599.5L702.2 598.3L703.0 598.2L703.8 598.5L704.6 599.7L705.4 599.7L706.2 599.4L707.0 600.6L707.8 598.7L708.6 597.4L709.4 598.0L710.2 598.7L711.0 600.6L711.8 600.2L712.6 600.3L713.4 600.0L714.2 598.3L715.0 598.6L715.8 596.6L716.6 599.4L717.4 598.2L718.2 599.5L719.0 599.5L719.8 598.3L720.6 601.7L721.4 598.7L722.2 597.9L723.0 600.7L723.8 598.1L724.6 601.3L725.4 600.0L726.2 597.3L727.0 598.7L727.8 600.2L728.6 599.7L729.4 600.0L730.2 599.7L731.0 599.5L731.8 598.3L732.6 598.3L733.4 599.1L734.2 599.6L735.0 599.5L735.8 597.6L736.6 597.9L737.4 601.5L738.2 599.3L739.0 598.0L739.8 596.8L740.6 598.4L741.4 598.8L742.2 597.8L743.0 596.7L743.8 599.9L744.6 597.7L745.4 598.4L746.2 598.4L747.0 597.2L747.8 598.7L748.6 596.9L749.4 596.8L750.2 600.0L751.0 597.7L751.8 597.9L752.6 596.4L753.4 598.4L754.2 597.9L755.0 597.4L755.8 598.2L756.6 597.7L757.4 595.6L758.2 596.9L759.0 596.2L759.8 595.6L760.6 597.6L761.4 594.0L762.2 597.2L763.0 596.4L763.8 598.4L764.6 597.7L765.4 597.5L766.2 597.1L767.0 594.2L767.8 595.7L768.6 595.0L769.4 596.4L770.2 596.6L771.0 595.7L771.8 595.2L772.6 596.2L773.4 595.5L774.2 595.3L775.0 598.7L775.8 595.2L776.6 594.9L777.4 595.7L778.2 595.5L779.0 596.6L779.8 597.9L780.6 593.8L781.4 597.5L782.2 595.6L783.0 594.3L783.8 593.8L784.6 596.6L785.4 592.8L786.2 593.6L787.0 596.1L787.8 591.4L788.6 593.1L789.4 595.5L790.2 593.8L791.0 592.8L791.8 593.9L792.6 590.2L793.4 590.7L794.2 592.4L795.0 590.4L795.8 588.1L796.6 593.0L797.4 589.3L798.2 589.7L799.0 588.6L799.8 587.3L800.6 585.5L801.4 584.9L802.2 580.9L803.0 580.8L803.8 581.5L804.6 578.3L805.4 576.5L806.2 575.7L807.0 574.6L807.8 573.4L808.6 570.3L809.4 567.8L810.2 565.5L811.0 564.6L811.8 561.8L812.6 562.9L813.4 561.2L814.2 562.2L815.0 561.4L815.8 561.4L816.6 562.3L817.4 565.1L818.2 564.9L819.0 567.7L819.8 571.5L820.6 573.1L821.4 573.4L822.2 575.4L823.0 577.3L823.8 578.9L824.6 579.6L825.4 580.9L826.2 581.7L827.0 587.1L827.8 588.6L828.6 590.4L829.4 589.2L830.2 591.2L831.0 592.1L831.8 592.2L832.6 593.8L833.4 592.8L834.2 592.1L835.0 595.7L835.8 592.2L836.6 594.9L837.4 593.7L838.2 595.6L839.0 593.4L839.8 594.2L840.6 593.6L841.4 596.0L842.2 594.0L843.0 593.2L843.8 593.7L844.6 594.9L845.4 595.0L846.2 593.7L847.0 597.4L847.8 592.9L848.6 595.0L849.4 594.5L850.2 594.8L851.0 595.3L851.8 593.8L852.6 594.4L853.4 595.0L854.2 594.3L855.0 596.3L855.8 594.5L856.6 597.5L857.4 594.1L858.2 598.0L859.0 595.4L859.8 598.6L860.6 596.1L861.4 596.0L862.2 596.7L863.0 591.5L863.8 594.4L864.6 594.9L865.4 594.0L866.2 596.8L867.0 599.5L867.8 592.4L868.6 594.6L869.4 596.0L870.2 594.8L871.0 596.7L871.8 595.4L872.6 596.6L873.4 597.7L874.2 595.8L875.0 596.4L875.8 595.1L876.6 594.1L877.4 596.0L878.2 595.4L879.0 594.8L879.8 594.5L880.6 594.2L881.4 595.6L882.2 594.9L883.0 593.0L883.8 594.0L884.6 595.0L885.4 593.7L886.2 591.0L887.0 590.6L887.8 588.8L888.6 591.3L889.4 589.0L890.2 587.5L891.0 589.0L891.8 586.8L892.6 586.6L893.4 585.0L894.2 585.5L895.0 585.4L895.8 585.3L896.6 584.7L897.4 585.8L898.2 584.5L899.0 587.5L899.8 584.7L900.6 583.4L901.4 585.7L902.2 584.8L903.0 584.7L903.8 584.1L904.6 586.4L905.4 583.5L906.2 585.7L907.0 584.4L907.8 585.4L908.6 584.4L909.4 587.0L910.2 584.1L911.0 585.6L911.8 585.5L912.6 586.7L913.4 586.1L914.2 587.2L915.0 586.9L915.8 587.3L916.6 588.9L917.4 588.7L918.2 588.2L919.0 587.4L919.8 585.9L920.6 586.8L921.4 584.8L922.2 583.7L923.0 586.3L923.8 584.8L924.6 584.0L925.4 586.1L926.2 583.3L927.0 585.3L927.8 582.2L928.6 581.7L929.4 582.1L930.2 584.9L931.0 585.0L931.8 584.4L932.6 583.0L933.4 584.4L934.2 586.7L935.0 586.8L935.8 585.7L936.6 587.6L937.4 591.0L938.2 588.2L939.0 587.2L939.8 589.4L940.6 590.7L941.4 592.5L942.2 591.2L943.0 590.0L943.8 591.7L944.6 594.1L945.4 592.4L946.2 595.3L947.0 592.7L947.8 595.0L948.6 595.4L949.4 594.6L950.2 596.5L951.0 597.7L951.8 596.3L952.6 596.1L953.4 597.2L954.2 597.8L955.0 597.7L955.8 595.7L956.6 595.1L957.4 596.6L958.2 596.1L959.0 596.9L959.8 594.1L960.6 594.0L961.4 592.8L962.2 591.8L963.0 595.6L963.8 591.5L964.6 589.5L965.4 589.0L966.2 588.0L967.0 585.7L967.8 583.6L968.6 583.5L969.4 582.7L970.2 582.8L971.0 581.7L971.8 576.9L972.6 577.0L973.4 576.2L974.2 578.7L975.0 576.6L975.8 574.9L976.6 575.1L977.4 575.9L978.2 575.1L979.0 580.1L979.8 581.3L980.6 582.6L981.4 584.1L982.2 585.3L983.0 586.3L983.8 585.8L984.6 589.0L985.4 587.3L986.2 589.1L987.0 589.0L987.8 589.4L988.6 590.9L989.4 590.3L990.2 589.4L991.0 591.8L991.8 592.7L992.6 591.2L993.4 591.3L994.2 590.4L995.0 592.5L995.8 590.6L996.6 588.6L997.4 590.7L998.2 591.3L999.0 588.7L999.8 586.4L1000.6 584.8L1001.4 584.7L1002.2 587.4L1003.0 581.7L1003.8 579.4L1004.6 579.1L1005.4 578.5L1006.2 575.8L1007.0 574.6L1007.8 574.8L1008.6 576.0L1009.4 575.4L1010.2 575.0L1011.0 576.3L1011.8 578.5L1012.6 578.4L1013.4 581.6L1014.2 584.7L1015.0 583.9L1015.8 584.8L1016.6 586.5L1017.4 585.4L1018.2 588.9L1019.0 589.0L1019.8 589.2L1020.6 588.8L1021.4 589.3L1022.2 590.1L1023.0 588.3L1023.8 589.4L1024.6 590.0L1025.4 592.1L1026.2 593.4L1027.0 590.9L1027.8 591.3L1028.6 591.3L1029.4 590.2L1030.2 590.1L1031.0 590.7L1031.8 591.8L1032.6 588.2L1033.4 590.6L1034.2 587.5L1035.0 589.5L1035.8 587.6L1036.6 585.9L1037.4 584.8L1038.2 585.6L1039.0 586.3L1039.8 583.0L1040.6 582.6L1041.4 579.6L1042.2 577.6L1043.0 576.3L1043.8 573.5L1044.6 573.2L1045.4 569.1L1046.2 571.4L1047.0 566.9L1047.8 564.7L1048.6 564.7L1049.4 560.3L1050.2 558.9L1051.0 551.1L1051.8 545.2L1052.6 540.2L1053.4 540.2L1054.2 533.1L1055.0 533.2L1055.8 533.4L1056.6 529.0L1057.4 530.9L1058.2 532.5L1059.0 536.6L1059.8 541.1L1060.6 545.0L1061.4 546.8L1062.2 548.8L1063.0 550.1L1063.8 549.4L1064.6 551.4L1065.4 551.4L1066.2 551.2L1067.0 550.7L1067.8 552.2L1068.6 552.1L1069.4 555.1L1070.2 553.5L1071.0 554.9L1071.8 553.4L1072.6 556.4L1073.4 559.6L1074.2 559.5L1075.0 561.5L1075.8 561.4L1076.6 562.7L1077.4 565.4L1078.2 565.6L1079.0 568.8L1079.8 574.1L1080.6 572.9L1081.4 573.7L1082.2 577.5L1083.0 577.4L1083.8 577.3L1084.6 579.0L1085.4 579.8L1086.2 580.1L1087.0 582.0L1087.8 582.7L1088.6 582.8L1089.4 583.8L1090.2 586.8L1091.0 587.8L1091.8 586.7L1092.6 584.3L1093.4 588.1L1094.2 587.0L1095.0 589.0L1095.8 588.4L1096.6 593.4L1097.4 591.6L1098.2 593.9L1099.0 589.6L1099.8 594.8L1100.6 593.1L1101.4 594.2L1102.2 592.8L1103.0 592.7L1103.8 590.6L1104.6 593.1L1105.4 590.9L1106.2 593.1L1107.0 591.9L1107.8 593.4L1108.6 596.7L1109.4 594.9L1110.2 594.7L1111.0 594.8L1111.8 594.1L1112.6 593.3L1113.4 595.6L1114.2 594.9L1115.0 593.0L1115.8 596.4L1116.6 596.8L1117.4 594.5L1118.2 595.9L1119.0 594.6L1119.8 595.9L1120.6 594.1L1121.4 593.9L1122.2 596.2L1123.0 596.8L1123.8 595.6L1124.6 596.0L1125.4 596.3L1126.2 595.7L1127.0 599.2L1127.8 596.6L1128.6 594.6L1129.4 594.6L1130.2 594.8L1131.0 595.1L1131.8 593.5L1132.6 594.7L1133.4 593.4L1134.2 593.6L1135.0 595.8L1135.8 594.4L1136.6 593.5L1137.4 594.7L1138.2 594.1L1139.0 594.7L1139.8 593.9L1140.6 591.1L1141.4 592.5L1142.2 590.0L1143.0 593.5L1143.8 591.5L1144.6 590.4L1145.4 590.0L1146.2 587.1L1147.0 586.7L1147.8 586.5L1148.6 582.0L1149.4 581.3L1150.2 579.6L1151.0 579.3L1151.8 578.6L1152.6 573.1L1153.4 574.6L1154.2 572.3L1155.0 571.9L1155.8 573.6L1156.6 574.5L1157.4 571.6L1158.2 573.5L1159.0 570.5L1159.8 572.5L1160.6 572.6L1161.4 570.9L1162.2 573.1L1163.0 573.1L1163.8 571.5L1164.6 571.2L1165.4 573.0L1166.2 572.8L1167.0 572.3L1167.8 573.0L1168.6 571.3L1169.4 571.0L1170.2 569.7L1171.0 570.3L1171.8 569.7L1172.6 571.3L1173.4 569.9L1174.2 567.5L1175.0 566.2L1175.8 565.9L1176.6 567.0L1177.4 565.8L1178.2 565.7L1179.0 566.0L1179.8 567.2L1180.6 566.4L1181.4 567.3L1182.2 570.6L1183.0 570.7L1183.8 572.1L1184.6 575.0L1185.4 572.8L1186.2 574.5L1187.0 577.6L1187.8 577.2L1188.6 576.3L1189.4 571.9L1190.2 572.1L1191.0 571.9L1191.8 568.9L1192.6 567.7L1193.4 569.4L1194.2 563.7L1195.0 563.6L1195.8 562.8L1196.6 566.1L1197.4 562.0L1198.2 561.0L1199.0 560.8L1199.8 562.0L1200.6 565.5L1201.4 564.7L1202.2 567.1L1203.0 566.8L1203.8 570.8L1204.6 573.0L1205.4 571.5L1206.2 571.1L1207.0 570.1L1207.8 572.2L1208.6 569.9L1209.4 571.9L1210.2 569.2L1211.0 565.4L1211.8 564.3L1212.6 562.5L1213.4 563.2L1214.2 562.8L1215.0 559.6L1215.8 556.8L1216.6 558.0L1217.4 554.6L1218.2 553.5L1219.0 549.5L1219.8 549.5L1220.6 548.1L1221.4 544.1L1222.2 545.0L1223.0 543.3L1223.8 541.8L1224.6 535.0L1225.4 541.0L1226.2 537.4L1227.0 537.4L1227.8 535.9L1228.6 538.2L1229.4 540.4L1230.2 544.9L1231.0 545.1L1231.8 550.4L1232.6 554.2L1233.4 556.7L1234.2 560.1L1235.0 564.2L1235.8 565.5L1236.6 571.1L1237.4 574.6L1238.2 578.9L1239.0 583.8L1239.8 581.6L1240.6 586.9L1241.4 585.1L1242.2 587.3L1243.0 589.1L1243.8 587.0L1244.6 592.4L1245.4 591.1L1246.2 591.7L1247.0 594.3L1247.8 591.9L1248.6 593.2L1249.4 591.2L1250.2 594.3L1251.0 593.5L1251.8 593.7L1252.6 594.0L1253.4 595.7L1254.2 594.0L1255.0 595.8L1255.8 595.3L1256.6 592.3L1257.4 595.5L1258.2 595.5L1259.0 594.1L1259.8 594.2L1260.6 594.9L1261.4 595.7L1262.2 595.6L1263.0 593.1L1263.8 595.0L1264.6 593.1L1265.4 595.2L1266.2 595.4L1267.0 593.9L1267.8 594.5L1268.6 591.9L1269.4 594.4L1270.2 592.1L1271.0 594.7L1271.8 595.3L1272.6 595.1L1273.4 596.2L1274.2 595.3L1275.0 595.4L1275.8 594.7L1276.6 596.0L1277.4 594.3L1278.2 597.2L1279.0 594.7L1279.8 595.7L1280.6 594.9L1281.4 596.2L1282.2 594.0L1283.0 595.6L1283.8 593.9L1284.6 597.1L1285.4 594.2L1286.2 594.8L1287.0 593.3L1287.8 594.1L1288.6 593.4L1289.4 593.1L1290.2 596.2L1291.0 593.5L1291.8 593.7L1292.6 595.3L1293.4 598.2L1294.2 591.9L1295.0 595.9L1295.8 595.0L1296.6 595.9L1297.4 594.7L1298.2 595.8L1299.0 596.4L1299.8 594.2L1300.6 592.3L1301.4 593.1L1302.2 594.7L1303.0 595.4L1303.8 595.8L1304.6 593.6L1305.4 594.8L1306.2 594.4L1307.0 595.4L1307.8 595.2L1308.6 593.8L1309.4 596.3L1310.2 593.5L1311.0 597.4L1311.8 594.9L1312.6 595.7L1313.4 594.7L1314.2 596.2L1315.0 593.7L1315.8 593.1L1316.6 595.7L1317.4 591.4L1318.2 592.0L1319.0 594.9L1319.8 594.0L1320.6 594.1L1321.4 591.3L1322.2 588.1L1323.0 589.6L1323.8 590.2L1324.6 595.0L1325.4 588.8L1326.2 590.4L1327.0 590.0L1327.8 591.5L1328.6 590.1L1329.4 589.3L1330.2 590.3L1331.0 587.6L1331.8 588.8L1332.6 588.4L1333.4 585.6L1334.2 586.2L1335.0 585.6L1335.8 585.7L1336.6 585.8L1337.4 584.6L1338.2 585.0L1339.0 583.6L1339.8 583.5L1340.6 585.0L1341.4 583.6L1342.2 583.2L1343.0 582.0L1343.8 580.2L1344.6 580.1L1345.4 582.3L1346.2 584.5L1347.0 582.9L1347.8 580.1L1348.6 580.2L1349.4 579.8L1350.2 579.7L1351.0 579.4L1351.8 578.0L1352.6 579.7L1353.4 581.7L1354.2 577.3L1355.0 577.9L1355.8 579.1L1356.6 577.2L1357.4 578.6L1358.2 578.0L1359.0 576.7L1359.8 580.9L1360.6 576.5L1361.4 580.0L1362.2 579.8L1363.0 580.2L1363.8 580.1L1364.6 582.2L1365.4 581.5L1366.2 580.3L1367.0 581.1L1367.8 582.3L1368.6 583.3L1369.4 579.8L1370.2 580.9L1371.0 579.2L1371.8 580.3L1372.6 580.7L1373.4 579.3L1374.2 579.9L1375.0 581.2L1375.8 579.3L1376.6 578.7L1377.4 576.6L1378.2 578.5L1379.0 577.5L1379.8 579.0L1380.6 575.8L1381.4 577.4L1382.2 576.0L1383.0 577.6L1383.8 576.6L1384.6 574.5L1385.4 574.9L1386.2 578.5L1387.0 577.2L1387.8 576.6L1388.6 576.3L1389.4 576.8L1390.2 576.9L1391.0 577.5L1391.8 578.8L1392.6 580.1L1393.4 578.1L1394.2 578.7L1395.0 581.5L1395.8 581.4L1396.6 581.4L1397.4 583.9L1398.2 583.2L1399.0 581.7L1399.8 580.9L1400.6 582.5L1401.4 582.5L1402.2 578.3L1403.0 581.6L1403.8 582.9L1404.6 580.6L1405.4 580.8L1406.2 578.0L1407.0 579.0L1407.8 578.8L1408.6 579.7L1409.4 576.6L1410.2 576.4L1411.0 578.5L1411.8 574.9L1412.6 575.9L1413.4 575.2L1414.2 573.6L1415.0 575.7L1415.8 574.7L1416.6 574.8L1417.4 577.5L1418.2 572.7L1419.0 576.7L1419.8 576.9L1420.6 578.0L1421.4 578.1L1422.2 578.4L1423.0 580.0L1423.8 581.4L1424.6 582.4L1425.4 581.7L1426.2 583.6L1427.0 583.4L1427.8 583.3L1428.6 585.5L1429.4 585.6L1430.2 586.5L1431.0 585.7L1431.8 584.5L1432.6 588.0L1433.4 587.1L1434.2 586.4L1435.0 586.4L1435.8 589.1L1436.6 589.0L1437.4 590.2L1438.2 589.5L1439.0 588.8L1439.8 589.5L1440.6 591.1L1441.4 589.6L1442.2 591.1L1443.0 591.1L1443.8 591.7L1444.6 596.6L1445.4 590.5L1446.2 593.9L1447.0 592.5L1447.8 597.0L1448.6 594.3L1449.4 594.7L1450.2 595.8L1451.0 596.3L1451.8 595.5L1452.6 597.5L1453.4 596.0L1454.2 597.5L1455.0 595.7L1455.8 595.1L1456.6 595.8L1457.4 595.4L1458.2 594.6L1459.0 595.7L1459.8 595.3L1460.6 597.6L1461.4 599.0L1462.2 595.7L1463.0 597.3L1463.8 596.1L1464.6 598.6L1465.4 599.1L1466.2 596.8L1467.0 598.4L1467.8 595.3L1468.6 598.1L1469.4 598.9L1470.2 598.1L1471.0 598.7L1471.8 599.4L1472.6 601.1L1473.4 598.2L1474.2 598.1L1475.0 599.0L1475.8 597.2L1476.6 599.3L1477.4 597.1L1478.2 598.4L1479.0 597.3L1479.8 596.8L1480.6 598.4L1481.4 597.2L1482.2 596.8L1483.0 598.0L1483.8 597.2L1484.6 598.7L1485.4 599.0L1486.2 598.9L1487.0 600.7L1487.8 598.3L1488.6 597.9L1489.4 598.6L1490.2 597.7L1491.0 596.6L1491.8 599.0L1492.6 597.2L1493.4 597.2L1494.2 597.8L1495.0 598.3L1495.8 597.5L1496.6 595.3L1497.4 598.1L1498.2 598.3L1499.0 598.4L1499.8 600.2L1500.6 596.7L1501.4 600.3L1502.2 598.3L1503.0 596.9L1503.8 600.1L1504.6 597.4L1505.4 599.0L1506.2 596.1L1507.0 598.9L1507.8 598.7L1508.6 597.1L1509.4 599.3L1510.2 595.6L1511.0 600.1L1511.8 595.4L1512.6 597.6L1513.4 597.1L1514.2 592.9L1515.0 597.4L1515.8 596.4L1516.6 595.5L1517.4 595.9L1518.2 594.6L1519.0 598.0L1519.8 595.2L1520.6 596.1L1521.4 598.3L1522.2 598.8L1523.0 594.3L1523.8 596.7L1524.6 597.9L1525.4 597.5L1526.2 594.4L1527.0 595.3L1527.8 596.1L1528.6 596.9L1529.4 596.6L1530.2 593.7L1531.0 596.3L1531.8 596.7L1532.6 597.2L1533.4 595.7L1534.2 593.8L1535.0 595.3L1535.8 595.1L1536.6 593.0L1537.4 592.8L1538.2 595.2L1539.0 596.0L1539.8 594.3L1540.6 594.4L1541.4 593.1L1542.2 593.4L1543.0 594.5L1543.8 594.7L1544.6 593.5L1545.4 590.6L1546.2 593.5L1547.0 591.5L1547.8 590.7L1548.6 592.3L1549.4 595.1L1550.2 591.0L1551.0 593.0L1551.8 593.2L1552.6 594.6L1553.4 591.9L1554.2 592.7L1555.0 591.3L1555.8 591.7L1556.6 593.3L1557.4 594.0L1558.2 590.0L1559.0 589.9L1559.8 591.8L1560.6 594.0L1561.4 591.6L1562.2 594.1L1563.0 592.6L1563.8 592.2L1564.6 594.0L1565.4 593.4L1566.2 593.9L1567.0 590.9L1567.8 594.0L1568.6 594.2L1569.4 598.6L1570.2 594.3L1571.0 594.9L1571.8 596.4L1572.6 596.5L1573.4 596.1L1574.2 597.1L1575.0 593.2L1575.8 595.7L1576.6 595.4L1577.4 596.5L1578.2 594.3L1579.0 597.6L1579.8 596.3L1580.6 597.8L1581.4 597.2L1582.2 597.9L1583.0 599.0L1583.8 596.7L1584.6 595.9L1585.4 598.0L1586.2 597.2L1587.0 598.2L1587.8 597.7L1588.6 595.7L1589.4 597.5L1590.2 597.8L1591.0 599.4L1591.8 600.0L1592.6 600.9L1593.4 599.5L1594.2 601.7L1595.0 601.3L1595.8 598.7L1596.6 598.7L1597.4 597.7L1598.2 599.0L1599.0 598.6L1599.8 599.6L1600.6 601.3L1601.4 601.8L1602.2 599.7L1603.0 597.6L1603.8 599.1L1604.6 599.2L1605.4 597.4L1606.2 598.1L1607.0 599.3L1607.8 597.4L1608.6 596.6L1609.4 597.6L1610.2 598.1L1611.0 599.3L1611.8 596.5L1612.6 598.4L1613.4 597.4L1614.2 597.8L1615.0 597.5L1615.8 595.9L1616.6 593.5L1617.4 595.4L1618.2 597.0L1619.0 596.6L1619.8 596.7L1620.6 596.0L1621.4 596.2L1622.2 595.5L1623.0 597.6L1623.8 593.9L1624.6 594.8L1625.4 594.4L1626.2 595.3L1627.0 596.3L1627.8 597.7L1628.6 596.7L1629.4 596.5L1630.2 597.0L1631.0 596.5L1631.8 596.4L1632.6 593.9L1633.4 594.2L1634.2 595.9L1635.0 595.2L1635.8 594.6L1636.6 596.5L1637.4 594.4L1638.2 595.5L1639.0 595.0L1639.8 593.8L1640.6 597.4L1641.4 592.9L1642.2 593.5L1643.0 594.6L1643.8 596.9L1644.6 596.9L1645.4 594.3L1646.2 596.0L1647.0 594.9L1647.8 594.0L1648.6 595.7L1649.4 595.4L1650.2 594.6L1651.0 596.4L1651.8 596.6L1652.6 594.2L1653.4 597.6L1654.2 596.2L1655.0 595.3L1655.8 597.6L1656.6 596.6L1657.4 596.8L1658.2 596.7L1659.0 595.3L1659.8 596.4L1660.6 595.5L1661.4 594.7L1662.2 594.5L1663.0 596.4L1663.8 597.0L1664.6 593.8L1665.4 597.9L1666.2 596.6L1667.0 596.9L1667.8 595.3L1668.6 596.5L1669.4 596.5L1670.2 593.8L1671.0 596.7L1671.8 598.2L1672.6 594.3L1673.4 592.8L1674.2 594.1L1675.0 596.1L1675.8 595.4L1676.6 593.5L1677.4 593.8L1678.2 592.2L1679.0 594.5L1679.8 591.5L1680.6 593.9L1681.4 592.2L1682.2 593.7L1683.0 594.6L1683.8 593.4L1684.6 593.8L1685.4 593.8L1686.2 592.9L1687.0 592.2L1687.8 590.9L1688.6 593.5L1689.4 594.8L1690.2 595.7L1691.0 590.5L1691.8 591.6L1692.6 593.5L1693.4 595.2L1694.2 591.3L1695.0 592.9L1695.8 593.0L1696.6 592.0L1697.4 592.6L1698.2 592.4L1699.0 591.1L1699.8 595.6L1700.6 593.7L1701.4 593.0L1702.2 595.3L1703.0 593.6L1703.8 595.7L1704.6 593.5L1705.4 596.1L1706.2 595.8L1707.0 594.3L1707.8 596.4L1708.6 597.0L1709.4 596.0L1710.2 594.7L1711.0 594.9L1711.8 596.5L1712.6 597.2L1713.4 593.8L1714.2 598.2L1715.0 598.1L1715.8 599.8L1716.6 597.5L1717.4 597.6L1718.2 598.6L1719.0 596.4L1719.8 598.4L1720.6 596.1L1721.4 597.5L1722.2 598.8L1723.0 598.7L1723.8 597.4L1724.6 599.5L1725.4 599.1L1726.2 600.0L1727.0 598.4L1727.8 599.0L1728.6 600.1L1729.4 598.1L1730.2 600.2L1731.0 598.7L1731.8 602.1L1732.6 598.9L1733.4 600.9L1734.2 597.6L1735.0 599.9L1735.8 600.7L1736.6 600.2L1737.4 599.9L1738.2 599.2L1739.0 600.7L1739.8 600.4L1740.6 600.8L1741.4 600.1L1742.2 599.4L1743.0 602.3L1743.8 603.0L1744.6 602.7L1745.4 601.7L1746.2 601.7L1747.0 601.2L1747.8 601.6L1748.6 601.6L1749.4 600.3L1750.2 599.9L1751.0 602.0L1751.8 600.1L1752.6 603.6L1753.4 601.2L1754.2 602.6L1755.0 601.9L1755.8 601.3L1756.6 601.9L1757.4 601.7L1758.2 602.5L1759.0 602.3L1759.8 603.4L1760.6 601.5L1761.4 602.2L1762.2 600.4L1763.0 602.9L1763.8 601.0L1764.6 601.3L1765.4 600.2L1766.2 599.5L1767.0 597.7L1767.8 604.1L1768.6 602.4L1769.4 599.5L1770.2 600.1L1771.0 598.3L1771.8 601.2L1772.6 600.6L1773.4 600.9L1774.2 599.0L1775.0 600.5L1775.8 599.5L1776.6 597.7L1777.4 600.9L1778.2 598.5L1779.0 599.9L1779.8 599.9L1780.6 600.0L1781.4 599.8L1782.2 598.5L1783.0 596.1L1783.8 598.8L1784.6 601.5L1785.4 597.6L1786.2 598.8L1787.0 597.9L1787.8 597.1L1788.6 597.6L1789.4 599.2L1790.2 598.3L1791.0 597.1L1791.8 597.3L1792.6 593.7L1793.4 594.4L1794.2 593.2L1795.0 595.9L1795.8 597.7L1796.6 597.3L1797.4 594.8L1798.2 596.1L1799.0 595.6L1799.8 597.0L1800.6 592.8L1801.4 592.8L1802.2 594.6L1803.0 593.5L1803.8 592.1L1804.6 593.7L1805.4 596.4L1806.2 594.0L1807.0 592.5L1807.8 594.7L1808.6 591.7L1809.4 593.1L1810.2 592.6L1811.0 593.3L1811.8 592.7L1812.6 593.2L1813.4 591.4L1814.2 592.3L1815.0 593.2L1815.8 590.5L1816.6 593.0L1817.4 591.9L1818.2 589.5L1819.0 592.2L1819.8 591.3L1820.6 589.5L1821.4 591.3L1822.2 588.7L1823.0 589.1L1823.8 589.2L1824.6 590.7L1825.4 592.3L1826.2 589.7L1827.0 590.3L1827.8 590.0L1828.6 590.1L1829.4 590.6L1830.2 589.0L1831.0 590.0L1831.8 590.0L1832.6 588.2L1833.4 589.6L1834.2 591.0L1835.0 586.2L1835.8 588.3L1836.6 590.5L1837.4 590.0L1838.2 589.3L1839.0 589.8L1839.8 588.6L1840.6 590.4L1841.4 590.5L1842.2 591.0L1843.0 590.1L1843.8 591.5L1844.6 589.5L1845.4 593.1L1846.2 594.6L1847.0 591.7L1847.8 593.6L1848.6 591.7L1849.4 595.6L1850.2 594.3L1851.0 595.4L1851.8 594.8L1852.6 594.8L1853.4 597.2L1854.2 597.1L1855.0 598.4L1855.8 598.5L1856.6 596.8L1857.4 600.6L1858.2 596.0L1859.0 599.9L1859.8 600.3L1860.6 601.7L1861.4 598.3L1862.2 600.9L1863.0 599.2L1863.8 603.8L1864.6 598.2L1865.4 601.6L1866.2 602.2L1867.0 600.6L1867.8 600.5L1868.6 605.4L1869.4 601.0L1870.2 601.2L1871.0 602.1L1871.8 601.6L1872.6 599.4L1873.4 600.1L1874.2 600.5L1875.0 601.0L1875.8 602.0L1876.6 601.1L1877.4 601.2L1878.2 602.2L1879.0 601.1L1879.8 601.8L1880.6 602.2L1881.4 601.2L1882.2 601.2L1883.0 602.8L1883.8 602.4L1884.6 605.4L1885.4 602.1L1886.2 601.6L1887.0 602.4L1887.8 601.9L1888.6 602.4L1889.4 600.8L1890.2 600.2L1891.0 598.7L1891.8 602.4L1892.6 599.3"/>
<path class="c" stroke="#ff0000" stroke-width="4.4" d="M175.0 838.6L175.6 831.7L176.2 830.8L176.8 831.3L177.4 832.3L178.0 835.8L178.6 834.2L179.2 832.3L179.8 840.8L180.4 827.8L181.0 834.7L181.6 835.4L182.2 835.9L182.8 839.9L183.4 834.7L184.0 828.8L184.6 838.2L185.2 831.4L185.8 831.1L186.4 835.0L187.0 831.3L187.6 832.7L188.2 835.1L188.8 830.2L189.4 835.6L190.0 829.8L190.6 831.5L191.2 828.5L191.8 835.7L192.4 836.9L193.0 834.2L193.6 833.9L194.2 830.8L194.8 839.5L195.4 832.2L196.0 832.7L196.6 835.0L197.2 831.5L197.8 829.8L198.4 840.0L199.0 833.6L199.6 831.4L200.2 834.8L200.8 830.4L201.4 829.0L202.0 826.2L202.6 834.4L203.2 839.1L203.8 828.9L204.4 834.7L205.0 829.1L205.6 837.7L206.2 833.6L206.8 836.2L207.4 832.1L208.0 831.1L208.6 832.4L209.2 835.7L209.8 833.7L210.4 830.4L211.0 838.9L211.6 834.7L212.2 834.2L212.8 832.6L213.4 833.3L214.0 834.9L214.6 831.0L215.2 843.3L215.8 832.6L216.4 830.0L217.0 835.9L217.6 832.0L218.2 831.3L218.8 828.6L219.4 831.4L220.0 833.2L220.6 828.6L221.2 833.3L221.8 837.7L222.4 834.5L223.0 832.8L223.6 830.1L224.2 836.6L224.8 832.9L225.4 838.5L226.0 827.8L226.6 832.1L227.2 833.6L227.8 833.2L228.4 834.2L229.0 834.9L229.6 826.0L230.2 837.7L230.8 834.8L231.4 837.6L232.0 834.0L232.6 833.1L233.2 824.4L233.8 833.6L234.4 828.6L235.0 836.5L235.6 829.8L236.2 832.7L236.8 834.2L237.4 832.0L238.0 829.9L238.6 840.7L239.2 827.8L239.8 830.1L240.4 828.7L241.0 835.4L241.6 834.0L242.2 830.9L242.8 829.3L243.4 830.5L244.0 833.8L244.6 835.9L245.2 829.9L245.8 831.0L246.4 837.9L247.0 836.1L247.6 831.9L248.2 830.0L248.8 832.2L249.4 829.4L250.0 831.6L250.6 832.0L251.2 832.2L251.8 831.0L252.4 833.3L253.0 832.3L253.6 830.2L254.2 826.9L254.8 828.0L255.4 834.3L256.0 830.2L256.6 833.0L257.2 825.6L257.8 831.3L258.4 835.3L259.0 824.8L259.6 831.6L260.2 825.7L260.8 827.0L261.4 825.2L262.0 826.2L262.6 826.9L263.2 822.8L263.8 828.3L264.4 825.5L265.0 824.9L265.6 832.8L266.2 829.4L266.8 825.5L267.4 828.5L268.0 827.4L268.6 824.1L269.2 832.3L269.8 825.9L270.4 830.1L271.0 824.7L271.6 832.9L272.2 830.6L272.8 832.7L273.4 831.8L274.0 831.7L274.6 831.5L275.2 829.3L275.8 825.5L276.4 837.0L277.0 829.7L277.6 835.6L278.2 833.4L278.8 829.9L279.4 828.6L280.0 832.5L280.6 831.7L281.2 830.2L281.8 830.0L282.4 830.8L283.0 827.7L283.6 825.0L284.2 830.5L284.8 825.9L285.4 829.6L286.0 827.2L286.6 824.5L287.2 823.9L287.8 824.5L288.4 826.3L289.0 826.6L289.6 829.1L290.2 825.4L290.8 825.0L291.4 823.1L292.0 827.1L292.6 822.6L293.2 824.2L293.8 826.9L294.4 827.8L295.0 827.6L295.6 826.9L296.2 825.5L296.8 824.2L297.4 827.8L298.0 823.4L298.6 818.9L299.2 824.4L299.8 821.9L300.4 824.8L301.0 822.0L301.6 820.1L302.2 823.6L302.8 821.6L303.4 818.9L304.0 816.5L304.6 817.7L305.2 823.3L305.8 824.8L306.4 821.9L307.0 816.0L307.6 817.2L308.2 818.0L308.8 819.2L309.4 814.7L310.0 819.3L310.6 818.8L311.2 813.4L311.8 812.8L312.4 815.8L313.0 815.7L313.6 813.1L314.2 806.1L314.8 802.5L315.4 805.9L316.0 806.1L316.6 803.3L317.2 805.0L317.8 798.1L318.4 796.1L319.0 789.9L319.6 785.2L320.2 792.7L320.8 784.9L321.4 782.9L322.0 783.7L322.6 774.9L323.2 766.5L323.8 760.0L324.4 759.3L325.0 746.9L325.6 736.2L326.2 734.3L326.8 720.2L327.4 711.3L328.0 703.5L328.6 685.9L329.2 678.5L329.8 667.1L330.4 653.3L331.0 644.4L331.6 630.2L332.2 625.3L332.8 624.7L333.4 622.3L334.0 616.9L334.6 620.7L335.2 623.5L335.8 619.2L336.4 618.6L337.0 628.8L337.6 632.0L338.2 629.8L338.8 638.5L339.4 642.6L340.0 655.2L340.6 662.6L341.2 675.6L341.8 689.6L342.4 695.0L343.0 706.9L343.6 710.8L344.2 726.9L344.8 734.0L345.4 750.1L346.0 747.0L346.6 756.9L347.2 757.7L347.8 767.4L348.4 779.0L349.0 780.7L349.6 782.4L350.2 792.0L350.8 793.8L351.4 795.0L352.0 799.1L352.6 799.6L353.2 804.5L353.8 810.0L354.4 800.6L355.0 804.1L355.6 801.6L356.2 810.4L356.8 809.2L357.4 814.7L358.0 814.7L358.6 817.9L359.2 816.6L359.8 820.1L360.4 813.5L361.0 814.5L361.6 813.9L362.2 818.9L362.8 819.0L363.4 826.4L364.0 826.6L364.6 825.3L365.2 824.9L365.8 827.9L366.4 822.8L367.0 828.4L367.6 824.9L368.2 831.8L368.8 827.3L369.4 827.4L370.0 825.6L370.6 829.5L371.2 830.7L371.8 831.9L372.4 826.9L373.0 829.1L373.6 826.8L374.2 829.3L374.8 828.7L375.4 826.6L376.0 826.6L376.6 832.2L377.2 830.6L377.8 827.3L378.4 827.5L379.0 829.9L379.6 826.5L380.2 829.5L380.8 828.3L381.4 825.5L382.0 820.0L382.6 830.5L383.2 829.4L383.8 820.4L384.4 826.2L385.0 822.8L385.6 828.3L386.2 830.5L386.8 831.9L387.4 825.1L388.0 824.7L388.6 819.7L389.2 822.1L389.8 820.7L390.4 820.3L391.0 815.9L391.6 813.2L392.2 816.4L392.8 814.7L393.4 810.1L394.0 807.9L394.6 800.8L395.2 801.3L395.8 804.3L396.4 804.7L397.0 799.5L397.6 802.9L398.2 803.1L398.8 804.6L399.4 811.2L400.0 813.0L400.6 806.1L401.2 816.6L401.8 816.4L402.4 815.5L403.0 819.9L403.6 819.3L404.2 823.5L404.8 815.4L405.4 820.0L406.0 820.2L406.6 827.2L407.2 818.5L407.8 826.5L408.4 833.5L409.0 828.6L409.6 828.3L410.2 828.7L410.8 822.4L411.4 827.2L412.0 832.4L412.6 819.3L413.2 825.8L413.8 828.1L414.4 829.2L415.0 825.8L415.6 833.0L416.2 827.1L416.8 831.3L417.4 826.5L418.0 831.9L418.6 829.8L419.2 826.0L419.8 828.4L420.4 834.0L421.0 834.5L421.6 834.5L422.2 828.9L422.8 835.3L423.4 832.1L424.0 833.1L424.6 834.6L425.2 827.2L425.8 834.1L426.4 828.0L427.0 834.1L427.6 829.9L428.2 834.0L428.8 830.7L429.4 830.1L430.0 834.1L430.6 831.3L431.2 836.9L431.8 831.5L432.4 837.0L433.0 828.3L433.6 835.0L434.2 831.7L434.8 834.9L435.4 830.5L436.0 833.4L436.6 834.0L437.2 830.1L437.8 833.3L438.4 831.5L439.0 829.1L439.6 835.0L440.2 832.0L440.8 827.8L441.4 834.1L442.0 831.7L442.6 832.8L443.2 832.9L443.8 833.9L444.4 830.3L445.0 830.6L445.6 835.7L446.2 831.0L446.8 832.1L447.4 827.1L448.0 834.1L448.6 832.7L449.2 827.2L449.8 836.3L450.4 834.4L451.0 833.6L451.6 837.4L452.2 835.7L452.8 835.0L453.4 833.4L454.0 833.6L454.6 836.4L455.2 830.2L455.8 830.4L456.4 831.3L457.0 829.9L457.6 830.9L458.2 833.9L458.8 836.1L459.4 833.2L460.0 832.8L460.6 834.7L461.2 838.7L461.8 832.6L462.4 832.8L463.0 832.9L463.6 835.9L464.2 827.1L464.8 837.7L465.4 837.2L466.0 828.9L466.6 833.3L467.2 838.3L467.8 835.5L468.4 835.7L469.0 829.4L469.6 833.0L470.2 832.3L470.8 831.1L471.4 829.3L472.0 829.6L472.6 828.3L473.2 829.5L473.8 831.3L474.4 831.1L475.0 830.6L475.6 832.1L476.2 834.5L476.8 827.5L477.4 832.9L478.0 826.3L478.6 836.2L479.2 831.6L479.8 832.4L480.4 833.5L481.0 835.7L481.6 828.0L482.2 831.9L482.8 829.2L483.4 836.8L484.0 828.5L484.6 833.5L485.2 830.2L485.8 835.7L486.4 830.4L487.0 829.3L487.6 834.3L488.2 829.1L488.8 829.1L489.4 837.3L490.0 837.1L490.6 829.3L491.2 830.2L491.8 837.6L492.4 831.9L493.0 829.9L493.6 829.9L494.2 830.5L494.8 830.1L495.4 828.6L496.0 828.3L496.6 831.0L497.2 830.0L497.8 829.4L498.4 832.4L499.0 833.4L499.6 830.2L500.2 825.1L500.8 831.8L501.4 835.7L502.0 825.7L502.6 832.0L503.2 828.3L503.8 835.4L504.4 825.4L505.0 828.9L505.6 830.9L506.2 833.1L506.8 833.3L507.4 836.4L508.0 830.0L508.6 829.9L509.2 838.9L509.8 834.9L510.4 829.2L511.0 825.6L511.6 834.9L512.2 833.2L512.8 837.9L513.4 834.2L514.0 838.3L514.6 839.4L515.2 831.4L515.8 832.6L516.4 834.1L517.0 834.6L517.6 833.9L518.2 838.2L518.8 836.2L519.4 837.6L520.0 831.7L520.6 827.7L521.2 833.0L521.8 832.5L522.4 834.6L523.0 833.6L523.6 832.5L524.2 836.1L524.8 834.2L525.4 833.3L526.0 835.4L526.6 832.3L527.2 841.4L527.8 838.0L528.4 830.9L529.0 829.4L529.6 835.0L530.2 833.7L530.8 832.9L531.4 831.5L532.0 831.6L532.6 840.5L533.2 836.5L533.8 834.9L534.4 832.1L535.0 831.8L535.6 832.0L536.2 834.0L536.8 831.0L537.4 833.9L538.0 835.9L538.6 831.9L539.2 829.7L539.8 838.6L540.4 832.4L541.0 834.6L541.6 838.5L542.2 837.8L542.8 834.5L543.4 833.9L544.0 831.1L544.6 832.4L545.2 835.7L545.8 837.5L546.4 832.0L547.0 836.1L547.6 838.6L548.2 836.1L548.8 837.6L549.4 832.2L550.0 834.9L550.6 838.6L551.2 838.5L551.8 835.1L552.4 832.2L553.0 836.8L553.6 832.4L554.2 834.8L554.8 840.7L555.4 837.2L556.0 836.2L556.6 833.8L557.2 828.7L557.8 836.8L558.4 834.4L559.0 836.7L559.6 830.3L560.2 834.4L560.8 836.6L561.4 838.0L562.0 833.1L562.6 829.8L563.2 834.3L563.8 840.4L564.4 836.8L565.0 835.1L565.6 837.2L566.2 834.4L566.8 831.5L567.4 836.2L568.0 834.0L568.6 835.7L569.2 836.8L569.8 836.2L570.4 834.1L571.0 836.3L571.6 838.1L572.2 834.8L572.8 830.4L573.4 835.5L574.0 834.6L574.6 835.3L575.2 826.4L575.8 828.8L576.4 830.7L577.0 832.9L577.6 831.9L578.2 831.7L578.8 831.8L579.4 834.1L580.0 831.5L580.6 831.0L581.2 833.4L581.8 834.7L582.4 833.0L583.0 831.1L583.6 832.8L584.2 838.6L584.8 833.8L585.4 831.6L586.0 834.3L586.6 830.6L587.2 831.6L587.8 836.9L588.4 837.6L589.0 833.1L589.6 831.8L590.2 837.4L590.8 833.9L591.4 836.5L592.0 829.6L592.6 831.4L593.2 830.9L593.8 827.9L594.4 825.3L595.0 835.3L595.6 834.0L596.2 832.6L596.8 833.3L597.4 833.0L598.0 834.1L598.6 830.7L599.2 838.1L599.8 833.6L600.4 831.4L601.0 829.5L601.6 834.0L602.2 836.2L602.8 831.3L603.4 832.5L604.0 829.7L604.6 829.0L605.2 839.7L605.8 832.3L606.4 833.4L607.0 837.5L607.6 834.0L608.2 836.4L608.8 828.2L609.4 837.9L610.0 833.5L610.6 837.2L611.2 832.2L611.8 832.9L612.4 835.0L613.0 833.9L613.6 833.5L614.2 836.1L614.8 833.8L615.4 833.7L616.0 834.5L616.6 832.0L617.2 832.7L617.8 837.2L618.4 832.0L619.0 832.7L619.6 831.4L620.2 830.6L620.8 830.4L621.4 836.4L622.0 837.7L622.6 829.7L623.2 834.9L623.8 835.0L624.4 836.2L625.0 833.5L625.6 838.1L626.2 836.6L626.8 827.2L627.4 839.5L628.0 834.6L628.6 835.6L629.2 837.7L629.8 835.1L630.4 830.5L631.0 835.7L631.6 836.2L632.2 832.3L632.8 832.2L633.4 823.5L634.0 832.5L634.6 832.4L635.2 827.9L635.8 828.4L636.4 832.8L637.0 826.5L637.6 831.1L638.2 825.1L638.8 829.3L639.4 825.0L640.0 828.9L640.6 824.5L641.2 829.3L641.8 826.6L642.4 821.2L643.0 825.8L643.6 825.1L644.2 823.8L644.8 822.2L645.4 825.6L646.0 822.0L646.6 823.3L647.2 821.3L647.8 820.3L648.4 819.4L649.0 822.1L649.6 820.4L650.2 821.1L650.8 822.0L651.4 824.0L652.0 817.6L652.6 821.2L653.2 823.4L653.8 826.4L654.4 824.2L655.0 823.7L655.6 827.1L656.2 827.0L656.8 832.8L657.4 829.0L658.0 833.8L658.6 831.2L659.2 823.4L659.8 829.7L660.4 830.9L661.0 831.1L661.6 833.7L662.2 827.6L662.8 828.4L663.4 826.6L664.0 829.5L664.6 825.3L665.2 825.0L665.8 824.4L666.4 826.0L667.0 822.8L667.6 830.2L668.2 823.3L668.8 821.6L669.4 825.7L670.0 827.5L670.6 819.4L671.2 823.5L671.8 822.4L672.4 818.5L673.0 818.8L673.6 825.0L674.2 821.3L674.8 822.0L675.4 820.1L676.0 822.1L676.6 819.7L677.2 825.0L677.8 822.9L678.4 823.8L679.0 822.1L679.6 817.3L680.2 828.4L680.8 819.0L681.4 821.0L682.0 818.0L682.6 820.5L683.2 818.0L683.8 821.4L684.4 824.2L685.0 818.0L685.6 818.7L686.2 819.5L686.8 817.9L687.4 819.8L688.0 821.3L688.6 811.8L689.2 819.6L689.8 813.9L690.4 814.3L691.0 811.3L691.6 818.1L692.2 812.6L692.8 813.6L693.4 812.3L694.0 810.8L694.6 810.6L695.2 811.6L695.8 812.0L696.4 804.8L697.0 806.4L697.6 806.8L698.2 804.6L698.8 802.1L699.4 805.4L700.0 796.0L700.6 792.6L701.2 798.0L701.8 796.8L702.4 793.4L703.0 791.9L703.6 795.3L704.2 797.1L704.8 797.5L705.4 800.8L706.0 802.1L706.6 808.1L707.2 807.2L707.8 809.0L708.4 807.9L709.0 814.9L709.6 809.5L710.2 808.1L710.8 813.5L711.4 810.7L712.0 814.8L712.6 813.5L713.2 811.1L713.8 815.3L714.4 812.1L715.0 819.1L715.6 809.9L716.2 812.1L716.8 809.4L717.4 818.3L718.0 812.4L718.6 814.7L719.2 816.7L719.8 809.2L720.4 815.3L721.0 817.2L721.6 817.7L722.2 815.9L722.8 817.3L723.4 812.7L724.0 816.3L724.6 819.0L725.2 821.0L725.8 816.7L726.4 819.7L727.0 816.8L727.6 821.7L728.2 826.3L728.8 824.5L729.4 825.1L730.0 821.1L730.6 822.6L731.2 828.1L731.8 827.6L732.4 835.3L733.0 830.9L733.6 830.4L734.2 830.3L734.8 831.1L735.4 830.4L736.0 826.6L736.6 831.7L737.2 832.2L737.8 828.3L738.4 830.2L739.0 829.7L739.6 830.8L740.2 832.3L740.8 828.5L741.4 831.5L742.0 827.7L742.6 835.2L743.2 832.9L743.8 833.4L744.4 831.2L745.0 833.5L745.6 827.1L746.2 832.2L746.8 832.4L747.4 831.6L748.0 829.8L748.6 837.2L749.2 834.2L749.8 833.5L750.4 831.8L751.0 839.2L751.6 833.6L752.2 829.9L752.8 836.2L753.4 836.5L754.0 829.1L754.6 837.3L755.2 833.3L755.8 837.0L756.4 831.3L757.0 836.6L757.6 829.8L758.2 830.1L758.8 832.1L759.4 831.4L760.0 829.6L760.6 831.2L761.2 830.5L761.8 830.9L762.4 831.8L763.0 831.8L763.6 836.2L764.2 830.7L764.8 835.3L765.4 835.3L766.0 835.7L766.6 833.3L767.2 831.4L767.8 829.9L768.4 836.1L769.0 833.5L769.6 831.9L770.2 829.3L770.8 834.9L771.4 835.1L772.0 833.9L772.6 829.8L773.2 835.1L773.8 835.2L774.4 829.3L775.0 835.2L775.6 835.9L776.2 833.4L776.8 830.6L777.4 837.8L778.0 830.1L778.6 834.7L779.2 836.0L779.8 834.6L780.4 826.3L781.0 831.9L781.6 830.0L782.2 831.2L782.8 836.5L783.4 832.7L784.0 837.3L784.6 833.9L785.2 825.5L785.8 829.1L786.4 837.1L787.0 827.6L787.6 835.4L788.2 834.1L788.8 836.5L789.4 834.8L790.0 831.6L790.6 833.4L791.2 830.7L791.8 833.4L792.4 828.3L793.0 832.6L793.6 837.4L794.2 831.7L794.8 831.1L795.4 832.5L796.0 834.4L796.6 828.3L797.2 827.9L797.8 832.7L798.4 831.2L799.0 830.7L799.6 830.8L800.2 826.2L800.8 828.7L801.4 831.5L802.0 833.6L802.6 830.9L803.2 833.6L803.8 832.2L804.4 826.9L805.0 827.9L805.6 834.1L806.2 829.6L806.8 829.0L807.4 831.2L808.0 827.0L808.6 829.9L809.2 829.7L809.8 836.2L810.4 832.2L811.0 833.6L811.6 834.5L812.2 834.5L812.8 837.2L813.4 833.4L814.0 833.0L814.6 830.9L815.2 831.4L815.8 833.7L816.4 831.7L817.0 833.5L817.6 831.9L818.2 834.7L818.8 833.2L819.4 831.8L820.0 833.2L820.6 832.9L821.2 835.0L821.8 835.5L822.4 830.4L823.0 836.8L823.6 833.1L824.2 832.4L824.8 834.5L825.4 835.8L826.0 832.2L826.6 833.1L827.2 830.3L827.8 835.5L828.4 834.4L829.0 834.4L829.6 833.1L830.2 834.1L830.8 828.9L831.4 833.8L832.0 839.0L832.6 831.2L833.2 835.0L833.8 823.3L834.4 833.9L835.0 831.5L835.6 834.9L836.2 829.3L836.8 831.3L837.4 831.5L838.0 833.8L838.6 835.1L839.2 832.4L839.8 832.9L840.4 833.1L841.0 837.0L841.6 833.0L842.2 836.1L842.8 833.3L843.4 833.4L844.0 832.5L844.6 834.1L845.2 831.0L845.8 832.3L846.4 833.4L847.0 833.6L847.6 836.5L848.2 833.5L848.8 835.6L849.4 838.6L850.0 834.3L850.6 832.6L851.2 832.1L851.8 840.0L852.4 829.6L853.0 834.8L853.6 833.3L854.2 837.8L854.8 835.0L855.4 833.8L856.0 831.6L856.6 831.3L857.2 833.2L857.8 831.3L858.4 837.6L859.0 831.1L859.6 837.9L860.2 833.1L860.8 837.6L861.4 834.8L862.0 832.3L862.6 835.0L863.2 835.0L863.8 837.4L864.4 829.8L865.0 834.4L865.6 837.9L866.2 838.1L866.8 830.8L867.4 836.4L868.0 837.1L868.6 837.8L869.2 836.8L869.8 828.6L870.4 831.7L871.0 833.1L871.6 829.6L872.2 837.1L872.8 834.5L873.4 835.5L874.0 838.9L874.6 835.6L875.2 832.0L875.8 831.0L876.4 831.4L877.0 834.7L877.6 833.3L878.2 834.8L878.8 832.1L879.4 836.6L880.0 828.4L880.6 831.6L881.2 840.1L881.8 836.3L882.4 836.7L883.0 835.0L883.6 835.7L884.2 832.8L884.8 832.1L885.4 838.2L886.0 831.1L886.6 837.3L887.2 828.1L887.8 833.3L888.4 833.4L889.0 831.7L889.6 830.8L890.2 834.5L890.8 836.2L891.4 831.8L892.0 835.3L892.6 831.3L893.2 833.0L893.8 833.9L894.4 839.1L895.0 835.9L895.6 831.8L896.2 835.3L896.8 830.2L897.4 832.4L898.0 837.7L898.6 834.9L899.2 836.2L899.8 834.4L900.4 828.7L901.0 833.7L901.6 837.3L902.2 833.4L902.8 835.9L903.4 835.0L904.0 833.0L904.6 830.3L905.2 838.9L905.8 832.6L906.4 836.6L907.0 831.1L907.6 835.8L908.2 829.8L908.8 835.4L909.4 832.1L910.0 831.3L910.6 833.9L911.2 835.0L911.8 838.6L912.4 834.4L913.0 836.1L913.6 831.1L914.2 833.4L914.8 835.9L915.4 837.0L916.0 836.8L916.6 836.1L917.2 831.7L917.8 836.5L918.4 835.7L919.0 831.1L919.6 830.3L920.2 832.4L920.8 833.9L921.4 833.7L922.0 830.8L922.6 830.9L923.2 830.2L923.8 835.0L924.4 837.5L925.0 842.1L925.6 835.6L926.2 833.0L926.8 834.8L927.4 834.8L928.0 832.3L928.6 833.7L929.2 831.2L929.8 836.5L930.4 832.0L931.0 835.0L931.6 836.0L932.2 830.1L932.8 831.4L933.4 834.5L934.0 834.4L934.6 831.8L935.2 835.3L935.8 836.6L936.4 834.3L937.0 830.7L937.6 837.3L938.2 832.1L938.8 832.3L939.4 836.3L940.0 835.0L940.6 829.4L941.2 833.9L941.8 839.2L942.4 830.6L943.0 829.9L943.6 826.2L944.2 831.1L944.8 833.6L945.4 834.8L946.0 840.2L946.6 835.1L947.2 832.9L947.8 838.0L948.4 832.7L949.0 833.8L949.6 835.8L950.2 836.0L950.8 830.9L951.4 835.7L952.0 832.3L952.6 832.8L953.2 833.8L953.8 830.7L954.4 832.9L955.0 833.9L955.6 837.6L956.2 831.5L956.8 832.0L957.4 835.3L958.0 832.4L958.6 831.0L959.2 833.2L959.8 830.0L960.4 831.0L961.0 831.7L961.6 830.3L962.2 830.6L962.8 835.3L963.4 826.6L964.0 831.3L964.6 830.7L965.2 834.4L965.8 832.1L966.4 832.6L967.0 833.8L967.6 832.9L968.2 828.0L968.8 828.6L969.4 831.0L970.0 832.8L970.6 829.7L971.2 829.2L971.8 831.2L972.4 833.3L973.0 829.9L973.6 831.8L974.2 832.9L974.8 831.2L975.4 829.8L976.0 830.1L976.6 828.0L977.2 834.5L977.8 826.1L978.4 824.7L979.0 825.3L979.6 824.2L980.2 823.0L980.8 827.9L981.4 825.8L982.0 818.9L982.6 820.4L983.2 819.5L983.8 812.5L984.4 816.6L985.0 816.8L985.6 815.5L986.2 812.3L986.8 813.9L987.4 804.9L988.0 807.9L988.6 812.6L989.2 804.0L989.8 804.5L990.4 809.4L991.0 801.3L991.6 798.6L992.2 803.2L992.8 800.5L993.4 800.4L994.0 795.3L994.6 793.7L995.2 786.9L995.8 789.3L996.4 792.4L997.0 788.9L997.6 784.3L998.2 783.6L998.8 789.2L999.4 785.6L1000.0 786.3L1000.6 791.1L1001.2 793.4L1001.8 794.2L1002.4 793.4L1003.0 802.7L1003.6 801.9L1004.2 799.5L1004.8 811.0L1005.4 809.4L1006.0 805.3L1006.6 811.6L1007.2 809.8L1007.8 811.9L1008.4 812.7L1009.0 814.7L1009.6 815.6L1010.2 824.3L1010.8 822.9L1011.4 815.6L1012.0 824.0L1012.6 821.5L1013.2 821.6L1013.8 822.7L1014.4 826.6L1015.0 822.3L1015.6 828.4L1016.2 826.5L1016.8 831.0L1017.4 827.8L1018.0 830.6L1018.6 820.3L1019.2 828.9L1019.8 829.5L1020.4 827.2L1021.0 831.7L1021.6 835.0L1022.2 827.1L1022.8 827.3L1023.4 832.5L1024.0 830.0L1024.6 835.9L1025.2 831.9L1025.8 834.2L1026.4 827.7L1027.0 832.3L1027.6 831.3L1028.2 833.8L1028.8 834.9L1029.4 831.1L1030.0 829.9L1030.6 829.2L1031.2 836.1L1031.8 830.7L1032.4 835.5L1033.0 832.2L1033.6 834.1L1034.2 832.4L1034.8 833.9L1035.4 831.1L1036.0 830.7L1036.6 837.2L1037.2 835.2L1037.8 830.1L1038.4 832.4L1039.0 833.8L1039.6 832.7L1040.2 835.5L1040.8 836.7L1041.4 836.1L1042.0 830.6L1042.6 828.8L1043.2 834.4L1043.8 835.1L1044.4 835.3L1045.0 833.7L1045.6 832.1L1046.2 833.2L1046.8 832.9L1047.4 836.8L1048.0 834.5L1048.6 835.2L1049.2 833.6L1049.8 836.7L1050.4 837.6L1051.0 833.1L1051.6 832.8L1052.2 834.2L1052.8 835.6L1053.4 836.6L1054.0 834.1L1054.6 834.4L1055.2 840.1L1055.8 838.4L1056.4 842.4L1057.0 833.0L1057.6 835.3L1058.2 833.9L1058.8 834.6L1059.4 831.3L1060.0 831.0L1060.6 834.7L1061.2 834.0L1061.8 833.6L1062.4 834.8L1063.0 831.6L1063.6 832.7L1064.2 835.6L1064.8 835.3L1065.4 833.4L1066.0 843.7L1066.6 839.6L1067.2 835.7L1067.8 832.6L1068.4 830.2L1069.0 832.9L1069.6 836.4L1070.2 832.6L1070.8 837.4L1071.4 835.3L1072.0 834.5L1072.6 834.0L1073.2 834.9L1073.8 830.4L1074.4 832.5L1075.0 836.5L1075.6 833.5L1076.2 833.0L1076.8 832.5L1077.4 837.4L1078.0 836.4L1078.6 833.2L1079.2 839.2L1079.8 835.2L1080.4 837.1L1081.0 835.3L1081.6 835.5L1082.2 834.1L1082.8 833.2L1083.4 833.5L1084.0 834.0L1084.6 833.3L1085.2 836.0L1085.8 831.8L1086.4 834.9L1087.0 831.6L1087.6 841.2L1088.2 834.3L1088.8 834.7L1089.4 837.9L1090.0 834.3L1090.6 833.2L1091.2 835.6L1091.8 837.4L1092.4 837.9L1093.0 837.5L1093.6 834.8L1094.2 837.4L1094.8 833.3L1095.4 836.8L1096.0 836.8L1096.6 840.4L1097.2 833.0L1097.8 839.5L1098.4 836.9L1099.0 834.6L1099.6 835.0L1100.2 838.8L1100.8 833.0L1101.4 836.0L1102.0 840.2L1102.6 831.7L1103.2 832.7L1103.8 832.0L1104.4 835.9L1105.0 830.1L1105.6 839.8L1106.2 836.1L1106.8 838.5L1107.4 834.6L1108.0 834.5L1108.6 831.7L1109.2 835.5L1109.8 834.6L1110.4 835.6L1111.0 830.1L1111.6 832.8L1112.2 835.1L1112.8 834.4L1113.4 833.9L1114.0 834.9L1114.6 830.8L1115.2 835.6L1115.8 832.8L1116.4 838.1L1117.0 834.7L1117.6 837.1L1118.2 834.1L1118.8 835.2L1119.4 833.4L1120.0 833.2L1120.6 831.6L1121.2 834.1L1121.8 836.8L1122.4 835.2L1123.0 832.4L1123.6 833.5L1124.2 833.7L1124.8 830.5L1125.4 830.4L1126.0 832.1L1126.6 840.3L1127.2 832.5L1127.8 835.5L1128.4 832.1L1129.0 832.2L1129.6 833.1L1130.2 832.8L1130.8 833.9L1131.4 829.7L1132.0 834.9L1132.6 830.3L1133.2 835.3L1133.8 830.7L1134.4 832.4L1135.0 828.9L1135.6 831.4L1136.2 826.7L1136.8 835.0L1137.4 836.3L1138.0 832.8L1138.6 828.8L1139.2 832.5L1139.8 829.1L1140.4 828.0L1141.0 832.0L1141.6 831.5L1142.2 826.9L1142.8 832.4L1143.4 831.2L1144.0 827.4L1144.6 829.3L1145.2 826.4L1145.8 829.5L1146.4 830.9L1147.0 831.3L1147.6 828.1L1148.2 825.0L1148.8 825.7L1149.4 830.0L1150.0 824.7L1150.6 826.3L1151.2 825.7L1151.8 825.4L1152.4 822.2L1153.0 821.7L1153.6 821.0L1154.2 822.1L1154.8 820.8L1155.4 822.5L1156.0 820.0L1156.6 815.6L1157.2 817.5L1157.8 818.5L1158.4 819.1L1159.0 815.5L1159.6 814.2L1160.2 816.7L1160.8 815.0L1161.4 819.0L1162.0 813.5L1162.6 815.3L1163.2 811.8L1163.8 809.7L1164.4 812.6L1165.0 811.0L1165.6 812.8L1166.2 811.4L1166.8 804.6L1167.4 810.9L1168.0 807.1L1168.6 807.2L1169.2 806.3L1169.8 803.1L1170.4 808.1L1171.0 797.7L1171.6 803.1L1172.2 799.9L1172.8 797.7L1173.4 796.5L1174.0 797.7L1174.6 795.4L1175.2 797.4L1175.8 797.4L1176.4 796.6L1177.0 792.3L1177.6 798.9L1178.2 800.1L1178.8 799.4L1179.4 803.0L1180.0 804.1L1180.6 802.5L1181.2 809.2L1181.8 808.3L1182.4 810.7L1183.0 809.4L1183.6 812.9L1184.2 811.0L1184.8 809.4L1185.4 806.5L1186.0 809.2L1186.6 804.1L1187.2 807.7L1187.8 812.0L1188.4 813.5L1189.0 811.6L1189.6 812.9L1190.2 808.2L1190.8 812.8L1191.4 807.8L1192.0 807.4L1192.6 809.1L1193.2 808.6L1193.8 810.2L1194.4 809.9L1195.0 808.2L1195.6 808.8L1196.2 804.5L1196.8 802.9L1197.4 805.4L1198.0 807.0L1198.6 806.0L1199.2 801.2L1199.8 803.9L1200.4 801.5L1201.0 801.6L1201.6 801.9L1202.2 802.1L1202.8 806.7L1203.4 806.3L1204.0 807.0L1204.6 803.0L1205.2 811.3L1205.8 805.6L1206.4 811.0L1207.0 801.6L1207.6 811.5L1208.2 814.1L1208.8 812.9L1209.4 811.7L1210.0 811.2L1210.6 816.3L1211.2 818.8L1211.8 819.7L1212.4 817.6L1213.0 822.7L1213.6 822.2L1214.2 823.8L1214.8 824.9L1215.4 825.0L1216.0 822.9L1216.6 823.9L1217.2 821.7L1217.8 819.3L1218.4 824.6L1219.0 824.7L1219.6 823.3L1220.2 824.9L1220.8 825.3L1221.4 828.2L1222.0 826.2L1222.6 827.7L1223.2 834.3L1223.8 825.0L1224.4 828.0L1225.0 833.6L1225.6 827.0L1226.2 830.6L1226.8 827.5L1227.4 828.8L1228.0 830.1L1228.6 831.1L1229.2 831.5L1229.8 828.4L1230.4 829.4L1231.0 830.2L1231.6 831.7L1232.2 828.1L1232.8 829.9L1233.4 828.7L1234.0 832.3L1234.6 833.9L1235.2 824.3L1235.8 829.5L1236.4 831.8L1237.0 830.0L1237.6 826.1L1238.2 833.3L1238.8 833.6L1239.4 831.6L1240.0 829.3L1240.6 831.0L1241.2 830.2L1241.8 830.7L1242.4 832.9L1243.0 834.2L1243.6 833.2L1244.2 830.9L1244.8 830.3L1245.4 833.5L1246.0 828.6L1246.6 829.6L1247.2 832.9L1247.8 830.2L1248.4 832.3L1249.0 831.5L1249.6 833.2L1250.2 834.4L1250.8 832.2L1251.4 832.0L1252.0 834.4L1252.6 835.2L1253.2 833.9L1253.8 831.6L1254.4 835.9L1255.0 830.7L1255.6 831.7L1256.2 832.3L1256.8 834.8L1257.4 830.6L1258.0 831.2L1258.6 834.9L1259.2 838.6L1259.8 832.3L1260.4 831.1L1261.0 829.4L1261.6 835.7L1262.2 832.4L1262.8 836.9L1263.4 831.3L1264.0 832.1L1264.6 833.4L1265.2 831.9L1265.8 832.6L1266.4 835.2L1267.0 832.1L1267.6 830.3L1268.2 831.9L1268.8 835.3L1269.4 833.7L1270.0 835.6L1270.6 833.4L1271.2 833.9L1271.8 837.9L1272.4 833.8L1273.0 833.1L1273.6 826.3L1274.2 836.5L1274.8 837.7L1275.4 834.3L1276.0 835.6L1276.6 832.6L1277.2 833.9L1277.8 837.4L1278.4 831.5L1279.0 837.3L1279.6 836.6L1280.2 829.8L1280.8 834.5L1281.4 836.9L1282.0 833.6L1282.6 835.5L1283.2 830.7L1283.8 836.0L1284.4 835.3L1285.0 837.2L1285.6 831.7L1286.2 834.6L1286.8 835.5L1287.4 833.6L1288.0 834.7L1288.6 837.6L1289.2 834.4L1289.8 831.6L1290.4 834.6L1291.0 833.4L1291.6 833.0L1292.2 836.8L1292.8 834.3L1293.4 832.3L1294.0 831.5L1294.6 834.3L1295.2 837.1L1295.8 835.5L1296.4 835.8L1297.0 831.5L1297.6 836.4L1298.2 833.2L1298.8 837.1L1299.4 837.4L1300.0 834.4L1300.6 831.1L1301.2 836.8L1301.8 835.1L1302.4 834.3L1303.0 832.8L1303.6 832.9L1304.2 835.1L1304.8 833.5L1305.4 837.0L1306.0 829.7L1306.6 834.6L1307.2 838.3L1307.8 836.3L1308.4 831.8L1309.0 836.2L1309.6 833.3L1310.2 833.1L1310.8 833.1L1311.4 832.0L1312.0 834.3L1312.6 835.5L1313.2 833.8L1313.8 832.9L1314.4 835.9L1315.0 832.3L1315.6 834.1L1316.2 833.7L1316.8 836.9L1317.4 834.7L1318.0 841.4L1318.6 834.8L1319.2 837.6L1319.8 834.7L1320.4 834.7L1321.0 830.2L1321.6 836.4L1322.2 833.0L1322.8 834.3L1323.4 835.2L1324.0 836.9L1324.6 830.3L1325.2 835.1L1325.8 835.1L1326.4 832.8L1327.0 834.0L1327.6 834.5L1328.2 835.9L1328.8 832.7L1329.4 833.3L1330.0 836.9L1330.6 834.5L1331.2 831.9L1331.8 838.2L1332.4 835.7L1333.0 835.0L1333.6 833.5L1334.2 837.8L1334.8 832.3L1335.4 834.0L1336.0 836.9L1336.6 834.5L1337.2 833.8L1337.8 836.5L1338.4 835.8L1339.0 834.6L1339.6 832.6L1340.2 834.9L1340.8 833.5L1341.4 836.4L1342.0 833.8L1342.6 837.9L1343.2 840.0L1343.8 839.5L1344.4 834.9L1345.0 833.8L1345.6 832.5L1346.2 833.3L1346.8 834.2L1347.4 828.9L1348.0 832.8L1348.6 831.9L1349.2 831.9L1349.8 833.5L1350.4 839.5L1351.0 832.8L1351.6 840.2L1352.2 832.8L1352.8 832.5L1353.4 835.4L1354.0 835.0L1354.6 838.1L1355.2 834.4L1355.8 835.4L1356.4 833.5L1357.0 831.5L1357.6 834.7L1358.2 838.4L1358.8 835.9L1359.4 834.1L1360.0 833.4L1360.6 832.6L1361.2 838.9L1361.8 834.3L1362.4 833.6L1363.0 831.2L1363.6 832.2L1364.2 831.8L1364.8 835.4L1365.4 834.9L1366.0 827.3L1366.6 832.2L1367.2 836.3L1367.8 836.3L1368.4 837.8L1369.0 836.4L1369.6 835.0L1370.2 833.0L1370.8 834.4L1371.4 834.8L1372.0 834.4L1372.6 833.9L1373.2 833.7L1373.8 834.0L1374.4 834.2L1375.0 834.0L1375.6 832.3L1376.2 832.3L1376.8 834.6L1377.4 830.6L1378.0 832.2L1378.6 833.7L1379.2 836.8L1379.8 831.4L1380.4 828.4L1381.0 830.6L1381.6 835.3L1382.2 830.8L1382.8 834.5L1383.4 827.1L1384.0 828.3L1384.6 830.5L1385.2 832.1L1385.8 835.4L1386.4 827.8L1387.0 831.0L1387.6 832.9L1388.2 833.0L1388.8 830.9L1389.4 831.5L1390.0 829.5L1390.6 832.0L1391.2 832.5L1391.8 829.8L1392.4 832.9L1393.0 829.7L1393.6 827.7L1394.2 830.7L1394.8 831.8L1395.4 828.6L1396.0 829.6L1396.6 827.4L1397.2 829.5L1397.8 826.1L1398.4 825.6L1399.0 831.4L1399.6 828.7L1400.2 824.4L1400.8 827.5L1401.4 824.7L1402.0 828.0L1402.6 824.8L1403.2 823.2L1403.8 824.8L1404.4 820.4L1405.0 824.3L1405.6 821.1L1406.2 822.7L1406.8 826.1L1407.4 827.4L1408.0 825.7L1408.6 825.5L1409.2 817.7L1409.8 820.9L1410.4 824.3L1411.0 824.1L1411.6 821.1L1412.2 819.7L1412.8 823.0L1413.4 818.3L1414.0 819.2L1414.6 817.4L1415.2 815.0L1415.8 819.8L1416.4 821.6L1417.0 820.2L1417.6 816.7L1418.2 819.7L1418.8 815.5L1419.4 810.9L1420.0 816.4L1420.6 818.6L1421.2 813.3L1421.8 816.3L1422.4 817.2L1423.0 817.7L1423.6 820.6L1424.2 814.9L1424.8 815.3L1425.4 817.9L1426.0 820.2L1426.6 818.4L1427.2 817.2L1427.8 818.1L1428.4 822.7L1429.0 821.4L1429.6 821.5L1430.2 821.1L1430.8 823.6L1431.4 823.2L1432.0 823.0L1432.6 821.9L1433.2 822.8L1433.8 824.5L1434.4 820.3L1435.0 823.0L1435.6 822.7L1436.2 826.8L1436.8 829.9L1437.4 828.6L1438.0 827.3L1438.6 824.0L1439.2 831.9L1439.8 829.0L1440.4 830.6L1441.0 828.9L1441.6 830.0L1442.2 831.4L1442.8 827.7L1443.4 830.7L1444.0 824.1L1444.6 831.6L1445.2 831.2L1445.8 829.8L1446.4 832.2L1447.0 837.2L1447.6 831.5L1448.2 830.8L1448.8 828.9L1449.4 831.0L1450.0 829.5L1450.6 833.5L1451.2 830.6L1451.8 832.0L1452.4 832.6L1453.0 832.3L1453.6 831.9L1454.2 832.3L1454.8 830.9L1455.4 833.0L1456.0 832.7L1456.6 831.6L1457.2 830.9L1457.8 836.6L1458.4 831.9L1459.0 836.1L1459.6 834.9L1460.2 830.8L1460.8 833.2L1461.4 831.8L1462.0 832.5L1462.6 833.2L1463.2 836.8L1463.8 831.9L1464.4 835.9L1465.0 831.0L1465.6 833.3L1466.2 834.1L1466.8 833.4L1467.4 828.6L1468.0 832.4L1468.6 830.1L1469.2 833.7L1469.8 833.3L1470.4 831.5L1471.0 835.8L1471.6 835.3L1472.2 832.3L1472.8 839.7L1473.4 833.6L1474.0 836.1L1474.6 832.9L1475.2 830.0L1475.8 836.3L1476.4 834.9L1477.0 829.1L1477.6 833.9L1478.2 833.5L1478.8 835.3L1479.4 834.4L1480.0 834.3L1480.6 837.0L1481.2 832.2L1481.8 832.9L1482.4 833.1L1483.0 834.4L1483.6 833.2L1484.2 833.2L1484.8 831.9L1485.4 832.1L1486.0 834.5L1486.6 832.5L1487.2 833.9L1487.8 836.4L1488.4 835.2L1489.0 836.7L1489.6 830.0L1490.2 832.7L1490.8 833.4L1491.4 834.6L1492.0 834.4L1492.6 832.9L1493.2 835.7L1493.8 835.1L1494.4 831.8L1495.0 835.4L1495.6 831.8L1496.2 838.6L1496.8 834.0L1497.4 834.5L1498.0 836.7L1498.6 830.7L1499.2 830.9L1499.8 833.6L1500.4 838.0L1501.0 836.4L1501.6 830.9L1502.2 833.3L1502.8 837.7L1503.4 841.8L1504.0 832.3L1504.6 834.3L1505.2 834.8L1505.8 831.4L1506.4 836.2L1507.0 836.9L1507.6 835.7L1508.2 833.4L1508.8 834.9L1509.4 836.4L1510.0 834.1L1510.6 834.4L1511.2 834.7L1511.8 837.6L1512.4 838.4L1513.0 836.9L1513.6 835.3L1514.2 836.2L1514.8 836.3L1515.4 833.6L1516.0 838.4L1516.6 834.0L1517.2 835.9L1517.8 833.3L1518.4 834.4L1519.0 837.6L1519.6 834.4L1520.2 832.4L1520.8 830.6L1521.4 833.4L1522.0 834.3L1522.6 835.6L1523.2 833.0L1523.8 835.4L1524.4 833.9L1525.0 836.5L1525.6 835.8L1526.2 834.2L1526.8 834.0L1527.4 835.4L1528.0 836.2L1528.6 834.4L1529.2 837.4L1529.8 834.6L1530.4 833.4L1531.0 837.3L1531.6 832.9L1532.2 839.4L1532.8 835.3L1533.4 835.7L1534.0 840.1L1534.6 833.7L1535.2 838.8L1535.8 836.6L1536.4 836.8L1537.0 839.0L1537.6 840.0L1538.2 837.4L1538.8 837.4L1539.4 835.9L1540.0 833.9L1540.6 833.5L1541.2 838.6L1541.8 836.4L1542.4 834.4L1543.0 835.8L1543.6 837.4L1544.2 835.8L1544.8 837.2L1545.4 838.0L1546.0 839.3L1546.6 833.9L1547.2 835.7L1547.8 836.9L1548.4 836.6L1549.0 837.9L1549.6 832.6L1550.2 834.1L1550.8 838.9L1551.4 840.6L1552.0 836.5L1552.6 833.9L1553.2 832.8L1553.8 838.0L1554.4 840.6L1555.0 838.7L1555.6 835.5L1556.2 837.6L1556.8 832.8L1557.4 834.6L1558.0 835.8L1558.6 834.8L1559.2 833.0L1559.8 839.0L1560.4 837.8L1561.0 833.2L1561.6 841.8L1562.2 840.4L1562.8 836.7L1563.4 836.7L1564.0 832.4L1564.6 839.1L1565.2 835.6L1565.8 838.6L1566.4 837.1L1567.0 835.9L1567.6 835.3L1568.2 832.6L1568.8 836.5L1569.4 835.9L1570.0 834.5L1570.6 830.4L1571.2 833.0L1571.8 836.4L1572.4 837.1L1573.0 840.3L1573.6 833.1L1574.2 834.0L1574.8 836.1L1575.4 834.8L1576.0 832.7L1576.6 837.1L1577.2 837.1L1577.8 834.1L1578.4 833.8L1579.0 838.8L1579.6 834.5L1580.2 831.7L1580.8 835.5L1581.4 830.1L1582.0 833.9L1582.6 834.2L1583.2 834.1L1583.8 833.8L1584.4 837.7L1585.0 832.4L1585.6 832.7L1586.2 833.9L1586.8 833.7L1587.4 833.5L1588.0 833.5L1588.6 832.4L1589.2 830.3L1589.8 831.6L1590.4 834.7L1591.0 832.7L1591.6 833.6L1592.2 829.3L1592.8 834.7L1593.4 833.4L1594.0 829.4L1594.6 828.6L1595.2 829.6L1595.8 834.1L1596.4 833.4L1597.0 824.5L1597.6 832.5L1598.2 832.8L1598.8 827.9L1599.4 830.7L1600.0 828.6L1600.6 830.0L1601.2 830.8L1601.8 827.8L1602.4 824.6L1603.0 831.4L1603.6 829.9L1604.2 825.0L1604.8 831.9L1605.4 831.9L1606.0 826.3L1606.6 830.5L1607.2 828.2L1607.8 829.8L1608.4 833.6L1609.0 830.9L1609.6 831.0L1610.2 829.6L1610.8 832.1L1611.4 832.3L1612.0 833.6L1612.6 830.0L1613.2 829.8L1613.8 831.9L1614.4 827.4L1615.0 834.3L1615.6 828.5L1616.2 832.7L1616.8 828.0L1617.4 832.4L1618.0 827.5L1618.6 832.7L1619.2 833.0L1619.8 830.3L1620.4 834.8L1621.0 833.7L1621.6 829.2L1622.2 829.8L1622.8 835.1L1623.4 828.5L1624.0 834.8L1624.6 832.8L1625.2 828.7L1625.8 829.0L1626.4 832.4L1627.0 831.8L1627.6 830.8L1628.2 833.7L1628.8 833.2L1629.4 828.6L1630.0 828.5L1630.6 828.8L1631.2 828.9L1631.8 828.9L1632.4 831.8L1633.0 825.2L1633.6 833.3L1634.2 831.7L1634.8 828.7L1635.4 831.9L1636.0 831.1L1636.6 828.8L1637.2 833.2L1637.8 829.4L1638.4 829.4L1639.0 830.9L1639.6 827.9L1640.2 832.6L1640.8 832.7L1641.4 827.3L1642.0 831.6L1642.6 832.8L1643.2 829.8L1643.8 832.9L1644.4 833.4L1645.0 830.8L1645.6 833.1L1646.2 833.5L1646.8 827.2L1647.4 830.1L1648.0 835.6L1648.6 829.8L1649.2 835.1L1649.8 831.6L1650.4 832.2L1651.0 832.7L1651.6 831.6L1652.2 834.5L1652.8 834.9L1653.4 832.3L1654.0 835.0L1654.6 833.3L1655.2 835.1L1655.8 832.5L1656.4 833.1L1657.0 839.0L1657.6 838.0L1658.2 835.4L1658.8 836.7L1659.4 836.4L1660.0 836.3L1660.6 839.8L1661.2 837.1L1661.8 835.1L1662.4 833.0L1663.0 833.0L1663.6 840.1L1664.2 837.5L1664.8 838.6L1665.4 837.8L1666.0 833.5L1666.6 835.4L1667.2 836.1L1667.8 831.7L1668.4 832.6L1669.0 835.4L1669.6 834.4L1670.2 835.8L1670.8 837.6L1671.4 841.0L1672.0 839.7L1672.6 834.8L1673.2 834.5L1673.8 837.7L1674.4 836.4L1675.0 837.2L1675.6 837.0L1676.2 838.0L1676.8 837.3L1677.4 837.2L1678.0 833.0L1678.6 838.9L1679.2 835.9L1679.8 835.3L1680.4 838.4L1681.0 838.6L1681.6 837.0L1682.2 839.0L1682.8 834.3L1683.4 837.9L1684.0 838.2L1684.6 836.4L1685.2 838.9L1685.8 838.8L1686.4 840.9L1687.0 836.3L1687.6 834.9L1688.2 835.7L1688.8 838.1L1689.4 837.9L1690.0 837.5L1690.6 834.8L1691.2 836.7L1691.8 839.7L1692.4 839.0L1693.0 835.3L1693.6 838.2L1694.2 839.1L1694.8 837.5L1695.4 835.7L1696.0 836.1L1696.6 835.9L1697.2 836.5L1697.8 835.2L1698.4 839.2L1699.0 836.8L1699.6 838.8L1700.2 837.4L1700.8 837.0L1701.4 834.1L1702.0 834.5L1702.6 836.6L1703.2 834.5L1703.8 838.7L1704.4 836.2L1705.0 835.1L1705.6 836.7L1706.2 838.0L1706.8 836.7L1707.4 841.6L1708.0 839.8L1708.6 837.2L1709.2 835.8L1709.8 834.1L1710.4 838.4L1711.0 839.6L1711.6 837.0L1712.2 835.6L1712.8 837.1L1713.4 835.7L1714.0 837.1L1714.6 838.5L1715.2 836.8L1715.8 838.4L1716.4 839.4L1717.0 835.0L1717.6 835.1L1718.2 837.5L1718.8 831.1L1719.4 839.5L1720.0 836.5L1720.6 837.6L1721.2 838.9L1721.8 833.2L1722.4 839.9L1723.0 838.6L1723.6 831.9L1724.2 834.9L1724.8 842.2L1725.4 838.9L1726.0 839.9L1726.6 837.3L1727.2 839.8L1727.8 833.6L1728.4 835.4L1729.0 841.3L1729.6 839.5L1730.2 836.8L1730.8 838.7L1731.4 835.8L1732.0 834.3L1732.6 839.3L1733.2 836.6L1733.8 837.7L1734.4 838.5L1735.0 838.2L1735.6 839.9L1736.2 836.1L1736.8 836.2L1737.4 838.9L1738.0 839.8L1738.6 834.6L1739.2 833.7L1739.8 835.6L1740.4 837.5L1741.0 837.7L1741.6 834.7L1742.2 837.7L1742.8 840.6L1743.4 832.0L1744.0 837.7L1744.6 837.3L1745.2 836.1L1745.8 838.2L1746.4 838.8L1747.0 834.1L1747.6 837.1L1748.2 838.3L1748.8 836.5L1749.4 837.8L1750.0 838.1L1750.6 839.5L1751.2 838.2L1751.8 838.3L1752.4 839.7L1753.0 837.1L1753.6 840.5L1754.2 833.8L1754.8 837.3L1755.4 837.2L1756.0 837.2L1756.6 835.1L1757.2 837.3L1757.8 834.3L1758.4 835.5L1759.0 834.3L1759.6 838.1L1760.2 836.5L1760.8 834.0L1761.4 832.6L1762.0 835.6L1762.6 836.1L1763.2 840.1L1763.8 837.9L1764.4 832.1L1765.0 838.0L1765.6 836.6L1766.2 840.0L1766.8 837.7L1767.4 837.7L1768.0 833.4L1768.6 832.3L1769.2 835.1L1769.8 835.2L1770.4 836.0L1771.0 828.9L1771.6 832.1L1772.2 829.7L1772.8 834.9L1773.4 833.7L1774.0 834.4L1774.6 832.1L1775.2 827.2L1775.8 831.9L1776.4 832.2L1777.0 830.0L1777.6 831.8L1778.2 830.4L1778.8 831.8L1779.4 828.5L1780.0 826.9L1780.6 832.0L1781.2 836.0L1781.8 826.6L1782.4 827.5L1783.0 830.2L1783.6 828.4L1784.2 831.6L1784.8 829.0L1785.4 830.8L1786.0 827.1L1786.6 827.7L1787.2 829.5L1787.8 827.9L1788.4 823.6L1789.0 831.2L1789.6 833.6L1790.2 827.9L1790.8 826.3L1791.4 833.8L1792.0 830.2L1792.6 832.8L1793.2 830.9L1793.8 833.8L1794.4 829.5L1795.0 836.0L1795.6 829.6L1796.2 833.9L1796.8 834.2L1797.4 829.8L1798.0 834.3L1798.6 831.9L1799.2 834.2L1799.8 834.8L1800.4 829.1L1801.0 835.5L1801.6 829.2L1802.2 835.6L1802.8 836.7L1803.4 832.1L1804.0 830.1L1804.6 835.2L1805.2 836.4L1805.8 832.8L1806.4 833.6L1807.0 835.0L1807.6 837.3L1808.2 832.5L1808.8 833.7L1809.4 833.7L1810.0 832.0L1810.6 833.4L1811.2 835.1L1811.8 835.6L1812.4 838.5L1813.0 836.7L1813.6 833.6L1814.2 834.7L1814.8 834.4L1815.4 828.2L1816.0 837.0L1816.6 836.8L1817.2 834.7L1817.8 839.2L1818.4 834.3L1819.0 833.5L1819.6 833.4L1820.2 836.6L1820.8 838.5L1821.4 838.2L1822.0 832.5L1822.6 837.0L1823.2 831.2L1823.8 835.8L1824.4 831.5L1825.0 836.5L1825.6 837.1L1826.2 839.6L1826.8 835.2L1827.4 837.8L1828.0 835.7L1828.6 836.2L1829.2 832.9L1829.8 832.2L1830.4 838.7L1831.0 834.1L1831.6 835.7L1832.2 836.3L1832.8 835.4L1833.4 837.3L1834.0 835.2L1834.6 837.8L1835.2 839.3L1835.8 844.1L1836.4 837.1L1837.0 838.6L1837.6 838.1L1838.2 836.0L1838.8 838.8L1839.4 835.6L1840.0 834.0L1840.6 838.0L1841.2 840.1L1841.8 834.1L1842.4 838.6L1843.0 838.4L1843.6 835.4L1844.2 835.1L1844.8 830.7L1845.4 836.0L1846.0 838.7L1846.6 839.6L1847.2 842.1L1847.8 838.0L1848.4 836.1L1849.0 839.6L1849.6 839.5L1850.2 831.9L1850.8 837.7L1851.4 836.0L1852.0 841.7L1852.6 838.1L1853.2 839.2L1853.8 836.0L1854.4 837.0L1855.0 832.9L1855.6 836.6L1856.2 841.7L1856.8 838.4L1857.4 835.9L1858.0 835.3L1858.6 839.2L1859.2 838.0L1859.8 837.0L1860.4 836.2L1861.0 839.4L1861.6 833.5L1862.2 836.1L1862.8 836.4L1863.4 836.2L1864.0 839.7L1864.6 839.6L1865.2 836.0L1865.8 839.0L1866.4 836.7L1867.0 835.8L1867.6 829.0L1868.2 836.3L1868.8 838.4L1869.4 837.3L1870.0 835.2L1870.6 833.6L1871.2 838.3L1871.8 839.8L1872.4 836.0L1873.0 839.0L1873.6 840.5L1874.2 836.7L1874.8 840.2L1875.4 836.9L1876.0 837.3L1876.6 835.5L1877.2 836.4L1877.8 837.0L1878.4 842.6L1879.0 836.2L1879.6 837.3L1880.2 837.8L1880.8 837.2L1881.4 836.8L1882.0 837.3L1882.6 833.8L1883.2 835.1L1883.8 836.7L1884.4 840.8L1885.0 838.1L1885.6 836.7L1886.2 841.0L1886.8 838.3L1887.4 838.2L1888.0 836.8L1888.6 841.2L1889.2 836.8L1889.8 835.8L1890.4 833.3L1891.0 836.4L1891.6 838.5L1892.2 837.2L1892.8 836.3L1893.4 838.5L1894.0 837.9L1894.6 835.8L1895.2 837.8L1895.8 838.3L1896.4 836.2L1897.0 839.1"/>
<g fill="#000">
<rect x="263.2" y="91.1" width="17.5" height="13.0"/>
<rect x="285.6" y="85.0" width="17.5" height="13.0"/>
<rect x="303.2" y="92.9" width="17.5" height="13.0"/>
<rect x="565.2" y="102.9" width="17.5" height="13.0"/>
<rect x="263.2" y="273.0" width="17.5" height="13.0"/>
<rect x="281.6" y="263.1" width="17.5" height="13.0"/>
<rect x="299.6" y="301.0" width="17.5" height="13.0"/>
<rect x="367.2" y="410.7" width="17.5" height="13.0"/>
<rect x="429.2" y="408.1" width="17.5" height="13.0"/>
<rect x="549.0" y="367.0" width="17.5" height="13.0"/>
<rect x="568.0" y="363.0" width="17.5" height="13.0"/>
<rect x="586.2" y="365.0" width="17.5" height="13.0"/>
<rect x="802.5" y="424.3" width="17.5" height="13.0"/>
<rect x="1048.5" y="404.0" width="17.5" height="13.0"/>
<rect x="1210.8" y="403.5" width="17.5" height="13.0"/>
<rect x="267.2" y="434.0" width="17.5" height="13.0"/>
<rect x="281.4" y="415.0" width="17.5" height="13.0"/>
<rect x="299.4" y="428.9" width="17.5" height="13.0"/>
<rect x="369.1" y="549.1" width="17.5" height="13.0"/>
<rect x="431.2" y="538.0" width="17.5" height="13.0"/>
<rect x="556.8" y="494.5" width="17.5" height="13.0"/>
<rect x="573.2" y="484.5" width="17.5" height="13.0"/>
<rect x="587.5" y="455.0" width="17.5" height="13.0"/>
<rect x="805.2" y="541.3" width="17.5" height="13.0"/>
<rect x="1048.5" y="509.0" width="17.5" height="13.0"/>
<rect x="1214.2" y="517.3" width="17.5" height="13.0"/>
<rect x="587" y="204.5" width="18.3" height="12"/>
</g>
<g fill="#8000ff">
<ellipse cx="334.3" cy="69.4" rx="8.3" ry="6.9"/>
<ellipse cx="997.5" cy="120.7" rx="8.3" ry="6.9"/>
<ellipse cx="335.5" cy="415.5" rx="8.3" ry="6.9"/>
<ellipse cx="335.0" cy="609.0" rx="8.3" ry="6.9"/>
<ellipse cx="676.0" cy="806.0" rx="8.3" ry="6.9"/>
<ellipse cx="702.3" cy="782.7" rx="8.3" ry="6.9"/>
<ellipse cx="720.0" cy="799.7" rx="8.3" ry="6.9"/>
<ellipse cx="997.9" cy="770.9" rx="8.3" ry="6.9"/>
<ellipse cx="1163.0" cy="796.5" rx="8.3" ry="6.9"/>
<ellipse cx="1203.0" cy="790.0" rx="8.3" ry="6.9"/>
<ellipse cx="1423.0" cy="801.7" rx="8.3" ry="6.9"/>
<ellipse cx="734.7" cy="211" rx="9" ry="6.8"/>
</g>
<g fill="#ff8000">
<path d="M389.0 784.7h16.0l-8.0 12.0z"/>
<path d="M640.0 804.6h16.0l-8.0 12.0z"/>
<path d="M1169.0 779.0h16.0l-8.0 12.0z"/>
<path d="M1002 206.5h13.4l-6.7 9z"/>
</g>
<text transform="translate(263.5 270.0) rotate(-90)" font-size="39.5" fill="#000">(002)</text>
<text transform="translate(303.3 259.5) rotate(-90)" font-size="39.5" fill="#000">(020)</text>
<text transform="translate(341.5 291.1) rotate(-90)" font-size="39.5" fill="#000">(200)</text>
<text transform="translate(389.3 408.0) rotate(-90)" font-size="39.5" fill="#000">(120)</text>
<text transform="translate(447.5 404.7) rotate(-90)" font-size="39.5" fill="#000">(112)</text>
<text transform="translate(555.5 361.5) rotate(-90)" font-size="39.5" fill="#000">(022)</text>
<text transform="translate(588.5 357.7) rotate(-90)" font-size="39.5" fill="#000">(<tspan font-weight="normal">−</tspan>202)</text>
<text transform="translate(623.5 361.3) rotate(-90)" font-size="39.5" fill="#000">(202)</text>
<text transform="translate(821.5 420.3) rotate(-90)" font-size="39.5" fill="#000">(222)</text>
<text transform="translate(1067.5 401.3) rotate(-90)" font-size="39.5" fill="#000">(<tspan font-weight="normal">−</tspan>114)</text>
<text transform="translate(1227.5 400.6) rotate(-90)" font-size="39.5" fill="#000">(420)</text>
<text transform="translate(311.5 682.0) rotate(-90)" font-size="39.5" fill="#8000ff">(101)</text>
<text transform="translate(407.5 778.3) rotate(-90)" font-size="39.5" fill="#ff8000">(110)</text>
<text transform="translate(651.5 800.3) rotate(-90)" font-size="39.5" fill="#ff8000">(101)</text>
<text transform="translate(683.5 796.0) rotate(-90)" font-size="39.5" fill="#8000ff">(103)</text>
<text transform="translate(713.5 775.7) rotate(-90)" font-size="39.5" fill="#8000ff">(004)</text>
<text transform="translate(747.5 789.8) rotate(-90)" font-size="39.5" fill="#8000ff">(112)</text>
<text transform="translate(1008.0 763.3) rotate(-90)" font-size="39.5" fill="#8000ff">(200)</text>
<text transform="translate(1155.5 785.8) rotate(-90)" font-size="39.5" fill="#8000ff">(105)</text>
<text transform="translate(1189.5 779.6) rotate(-90)" font-size="39.5" fill="#ff8000">(211)</text>
<text transform="translate(1223.5 783.3) rotate(-90)" font-size="39.5" fill="#8000ff">(211)</text>
<text transform="translate(1431.5 791.6) rotate(-90)" font-size="39.5" fill="#8000ff">(204)</text>
<text transform="translate(623 228) scale(1.034 1)" font-size="38" fill="#000">WO<tspan font-size="25" dy="10">3</tspan></text>
<text transform="translate(760.5 228) scale(1.042 1)" font-size="38" fill="#8000ff">Anatase TiO<tspan font-size="25" dy="10">2</tspan></text>
<text transform="translate(1036.3 228) scale(1.053 1)" font-size="38" fill="#ff8000">Rutile TiO<tspan font-size="25" dy="10">2</tspan></text>
<text transform="translate(1870.0 122.2) scale(1.0040 1)" font-size="78" fill="#00009c" text-anchor="end" xml:space="preserve">TiO<tspan font-size="53" dy="21.6">2</tspan><tspan dy="-21.6"><tspan font-weight="normal">–</tspan>WO</tspan><tspan font-size="53" dy="21.6">3</tspan><tspan dy="-21.6"> C-S NWs</tspan></text>
<text transform="translate(1870.0 315.0) scale(1.0040 1)" font-size="78" fill="#008000" text-anchor="end" xml:space="preserve">WO<tspan font-size="53" dy="21.6">3</tspan><tspan dy="-21.6"><tspan font-weight="normal">–</tspan>TiO</tspan><tspan font-size="53" dy="21.6">2</tspan><tspan dy="-21.6"> C-S NWs</tspan></text>
<text transform="translate(1878.2 565.6) scale(1.0160 1)" font-size="78" fill="#000" text-anchor="end" xml:space="preserve">WO<tspan font-size="53" dy="21.6">3</tspan><tspan dy="-21.6"> NWs</tspan></text>
<text transform="translate(1872.3 787.6) scale(1.0050 1)" font-size="78" fill="#ff0000" text-anchor="end" xml:space="preserve">TiO<tspan font-size="53" dy="21.6">2</tspan><tspan dy="-21.6"> NWs</tspan></text>
<text transform="translate(1873.0 904.7) scale(1.0170 1)" font-size="78" fill="#000" text-anchor="end" xml:space="preserve">WO<tspan font-size="53" dy="21.6">3</tspan></text>
<text transform="translate(1877.6 986.6) scale(1.0147 1)" font-size="78" fill="#000" text-anchor="end" xml:space="preserve">JCPDS Card No. 72-1465</text>
<text transform="translate(1873.2 1113.3) scale(1.0240 1)" font-size="78" fill="#ff8000" text-anchor="end" xml:space="preserve">Rutile TiO<tspan font-size="53" dy="21.6">2</tspan></text>
<text transform="translate(1876.0 1196.4) scale(1.0120 1)" font-size="78" fill="#ff8000" text-anchor="end" xml:space="preserve">JCPDS Card No. 89-4920</text>
<text transform="translate(1868.0 1307.4) scale(1.0190 1)" font-size="78" fill="#8000ff" text-anchor="end" xml:space="preserve">Anatase TiO<tspan font-size="53" dy="21.6">2</tspan></text>
<text transform="translate(1872.4 1390.5) scale(1.0080 1)" font-size="78" fill="#8000ff" text-anchor="end" xml:space="preserve">JCPDS Card No. 89-4921</text>
<text transform="translate(173.7 1554.8) scale(1.028 1)" font-size="91" fill="#000" text-anchor="middle">20</text>
<text transform="translate(465.7 1554.8) scale(1.028 1)" font-size="91" fill="#000" text-anchor="middle">30</text>
<text transform="translate(757.7 1554.8) scale(1.028 1)" font-size="91" fill="#000" text-anchor="middle">40</text>
<text transform="translate(1049.7 1554.8) scale(1.028 1)" font-size="91" fill="#000" text-anchor="middle">50</text>
<text transform="translate(1341.7 1554.8) scale(1.028 1)" font-size="91" fill="#000" text-anchor="middle">60</text>
<text transform="translate(1633.7 1554.8) scale(1.028 1)" font-size="91" fill="#000" text-anchor="middle">70</text>
<text transform="translate(1020.3 1679) scale(1.037 1)" font-size="115" fill="#000" text-anchor="middle">2θ (degree)</text>
<text transform="translate(98.2 741.2) rotate(-90) scale(1.004 1)" font-size="116" fill="#000" text-anchor="middle">Intensity (a.u.)</text>
</svg></body></html>
